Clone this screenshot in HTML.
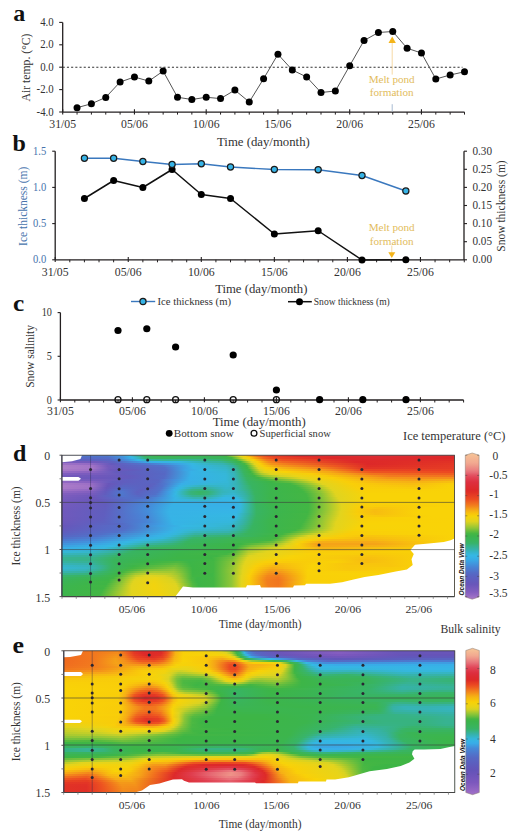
<!DOCTYPE html>
<html><head><meta charset="utf-8"><style>
html,body{margin:0;padding:0;background:#fff;}
svg{display:block;font-family:"Liberation Serif", serif;}
</style></head><body>
<svg width="520" height="838" viewBox="0 0 520 838">
<defs><linearGradient id="gd0"><stop offset="0.001" stop-color="#5270c9"/><stop offset="0.118" stop-color="#4f76cc"/><stop offset="0.154" stop-color="#4294dd"/><stop offset="0.176" stop-color="#36b6e5"/><stop offset="0.194" stop-color="#36b2a7"/><stop offset="0.212" stop-color="#38b462"/><stop offset="0.247" stop-color="#3bb551"/><stop offset="0.395" stop-color="#3ab455"/><stop offset="0.420" stop-color="#3fb545"/><stop offset="0.443" stop-color="#a4c932"/><stop offset="0.456" stop-color="#e4d41c"/><stop offset="0.468" stop-color="#f9d008"/><stop offset="0.501" stop-color="#f06c1f"/><stop offset="0.527" stop-color="#e94423"/><stop offset="0.608" stop-color="#dd2829"/><stop offset="0.798" stop-color="#dd2c33"/><stop offset="0.999" stop-color="#dd292b"/></linearGradient><linearGradient id="gd1"><stop offset="0.001" stop-color="#5866c3"/><stop offset="0.121" stop-color="#536dc7"/><stop offset="0.159" stop-color="#4292dc"/><stop offset="0.181" stop-color="#36b5e5"/><stop offset="0.192" stop-color="#35b5cb"/><stop offset="0.220" stop-color="#38b465"/><stop offset="0.270" stop-color="#39b45f"/><stop offset="0.346" stop-color="#38b464"/><stop offset="0.412" stop-color="#3ab457"/><stop offset="0.433" stop-color="#41b644"/><stop offset="0.463" stop-color="#e1d41f"/><stop offset="0.478" stop-color="#f9d008"/><stop offset="0.514" stop-color="#f06b1f"/><stop offset="0.544" stop-color="#ea4623"/><stop offset="0.687" stop-color="#dd2828"/><stop offset="0.806" stop-color="#dd2b30"/><stop offset="0.999" stop-color="#dd2828"/></linearGradient><linearGradient id="gd2"><stop offset="0.001" stop-color="#625cbe"/><stop offset="0.123" stop-color="#5965c2"/><stop offset="0.169" stop-color="#4390db"/><stop offset="0.197" stop-color="#36b6e5"/><stop offset="0.227" stop-color="#36b29e"/><stop offset="0.263" stop-color="#37b394"/><stop offset="0.316" stop-color="#36b29a"/><stop offset="0.405" stop-color="#38b472"/><stop offset="0.445" stop-color="#40b645"/><stop offset="0.473" stop-color="#dcd321"/><stop offset="0.489" stop-color="#f9d307"/><stop offset="0.522" stop-color="#f2781e"/><stop offset="0.562" stop-color="#ed5121"/><stop offset="0.740" stop-color="#dd292c"/><stop offset="0.999" stop-color="#df2d27"/></linearGradient><linearGradient id="gd3"><stop offset="0.001" stop-color="#795cbd"/><stop offset="0.088" stop-color="#7159bc"/><stop offset="0.136" stop-color="#5b63c1"/><stop offset="0.197" stop-color="#4391dc"/><stop offset="0.230" stop-color="#37b0e7"/><stop offset="0.301" stop-color="#35b7df"/><stop offset="0.369" stop-color="#36b2a7"/><stop offset="0.407" stop-color="#37b396"/><stop offset="0.445" stop-color="#3ab455"/><stop offset="0.456" stop-color="#3db546"/><stop offset="0.484" stop-color="#e0d420"/><stop offset="0.499" stop-color="#f9ce09"/><stop offset="0.527" stop-color="#f3881c"/><stop offset="0.562" stop-color="#f06820"/><stop offset="0.750" stop-color="#dd2829"/><stop offset="0.999" stop-color="#e13226"/></linearGradient><linearGradient id="gd4"><stop offset="0.001" stop-color="#9e71c6"/><stop offset="0.075" stop-color="#9369c3"/><stop offset="0.128" stop-color="#6559bc"/><stop offset="0.214" stop-color="#5075cc"/><stop offset="0.298" stop-color="#3ca4e4"/><stop offset="0.334" stop-color="#35b8e0"/><stop offset="0.374" stop-color="#36b4c1"/><stop offset="0.412" stop-color="#36b3b0"/><stop offset="0.435" stop-color="#37b386"/><stop offset="0.448" stop-color="#39b460"/><stop offset="0.466" stop-color="#43b644"/><stop offset="0.491" stop-color="#e2d41e"/><stop offset="0.504" stop-color="#f9d108"/><stop offset="0.534" stop-color="#f4941a"/><stop offset="0.580" stop-color="#f2771e"/><stop offset="0.778" stop-color="#dd2829"/><stop offset="0.999" stop-color="#e33625"/></linearGradient><linearGradient id="gd5"><stop offset="0.001" stop-color="#ad7fc9"/><stop offset="0.077" stop-color="#a475c7"/><stop offset="0.118" stop-color="#745abc"/><stop offset="0.156" stop-color="#5f5fbf"/><stop offset="0.258" stop-color="#5270c9"/><stop offset="0.306" stop-color="#3f9ce0"/><stop offset="0.334" stop-color="#36b5e5"/><stop offset="0.418" stop-color="#36b4bd"/><stop offset="0.438" stop-color="#36b298"/><stop offset="0.456" stop-color="#39b45e"/><stop offset="0.471" stop-color="#3fb545"/><stop offset="0.496" stop-color="#e2d41e"/><stop offset="0.511" stop-color="#f9ce09"/><stop offset="0.547" stop-color="#f5a018"/><stop offset="0.697" stop-color="#ed5621"/><stop offset="0.778" stop-color="#df2c27"/><stop offset="0.999" stop-color="#e43925"/></linearGradient><linearGradient id="gd6"><stop offset="0.001" stop-color="#ae81c9"/><stop offset="0.080" stop-color="#a475c7"/><stop offset="0.121" stop-color="#735abc"/><stop offset="0.159" stop-color="#615dbe"/><stop offset="0.263" stop-color="#546cc6"/><stop offset="0.311" stop-color="#3e9ee1"/><stop offset="0.336" stop-color="#36b4e6"/><stop offset="0.418" stop-color="#35b5c7"/><stop offset="0.440" stop-color="#36b2a0"/><stop offset="0.458" stop-color="#39b460"/><stop offset="0.473" stop-color="#3db547"/><stop offset="0.486" stop-color="#89c437"/><stop offset="0.501" stop-color="#e2d41e"/><stop offset="0.522" stop-color="#f9cf09"/><stop offset="0.565" stop-color="#f6b015"/><stop offset="0.666" stop-color="#f27f1d"/><stop offset="0.773" stop-color="#e23326"/><stop offset="0.999" stop-color="#e53b25"/></linearGradient><linearGradient id="gd7"><stop offset="0.001" stop-color="#a97ac8"/><stop offset="0.072" stop-color="#a173c6"/><stop offset="0.126" stop-color="#6d58bb"/><stop offset="0.181" stop-color="#625cbd"/><stop offset="0.268" stop-color="#536dc7"/><stop offset="0.316" stop-color="#3ba5e4"/><stop offset="0.357" stop-color="#35b8e3"/><stop offset="0.420" stop-color="#35b6cc"/><stop offset="0.440" stop-color="#36b2aa"/><stop offset="0.461" stop-color="#39b461"/><stop offset="0.478" stop-color="#41b644"/><stop offset="0.504" stop-color="#d7d223"/><stop offset="0.519" stop-color="#efd311"/><stop offset="0.544" stop-color="#f8cc0a"/><stop offset="0.664" stop-color="#f59b19"/><stop offset="0.737" stop-color="#ef6020"/><stop offset="0.765" stop-color="#e94323"/><stop offset="0.999" stop-color="#e84024"/></linearGradient><linearGradient id="gd8"><stop offset="0.001" stop-color="#966bc4"/><stop offset="0.080" stop-color="#8a63c1"/><stop offset="0.141" stop-color="#645abc"/><stop offset="0.265" stop-color="#556ac5"/><stop offset="0.331" stop-color="#37b2e7"/><stop offset="0.418" stop-color="#35b6d4"/><stop offset="0.440" stop-color="#36b3b2"/><stop offset="0.463" stop-color="#39b461"/><stop offset="0.481" stop-color="#3db545"/><stop offset="0.506" stop-color="#c4cf28"/><stop offset="0.516" stop-color="#e2d41e"/><stop offset="0.570" stop-color="#f9d208"/><stop offset="0.684" stop-color="#f5a617"/><stop offset="0.747" stop-color="#f16e1f"/><stop offset="0.793" stop-color="#ed5421"/><stop offset="0.872" stop-color="#ed4f22"/><stop offset="0.999" stop-color="#ec4922"/></linearGradient><linearGradient id="gd9"><stop offset="0.001" stop-color="#805ebf"/><stop offset="0.095" stop-color="#785bbd"/><stop offset="0.159" stop-color="#625cbd"/><stop offset="0.263" stop-color="#5668c4"/><stop offset="0.331" stop-color="#37b2e7"/><stop offset="0.418" stop-color="#35b7d8"/><stop offset="0.440" stop-color="#36b4b8"/><stop offset="0.466" stop-color="#39b460"/><stop offset="0.486" stop-color="#43b644"/><stop offset="0.509" stop-color="#aaca30"/><stop offset="0.532" stop-color="#e1d41f"/><stop offset="0.636" stop-color="#f9cd09"/><stop offset="0.730" stop-color="#f59c19"/><stop offset="0.788" stop-color="#f1741e"/><stop offset="0.872" stop-color="#ef6520"/><stop offset="0.999" stop-color="#ee5d20"/></linearGradient><linearGradient id="gd10"><stop offset="0.001" stop-color="#745abc"/><stop offset="0.105" stop-color="#6e58bb"/><stop offset="0.174" stop-color="#635bbd"/><stop offset="0.263" stop-color="#556ac5"/><stop offset="0.329" stop-color="#37b1e7"/><stop offset="0.418" stop-color="#35b7da"/><stop offset="0.440" stop-color="#36b4bb"/><stop offset="0.468" stop-color="#39b460"/><stop offset="0.491" stop-color="#3eb545"/><stop offset="0.516" stop-color="#93c636"/><stop offset="0.555" stop-color="#d2d224"/><stop offset="0.598" stop-color="#ead416"/><stop offset="0.669" stop-color="#f8cc0a"/><stop offset="0.834" stop-color="#f27c1e"/><stop offset="0.999" stop-color="#f1731f"/></linearGradient><linearGradient id="gd11"><stop offset="0.001" stop-color="#7059bc"/><stop offset="0.108" stop-color="#6b57bb"/><stop offset="0.174" stop-color="#625cbd"/><stop offset="0.260" stop-color="#5569c5"/><stop offset="0.326" stop-color="#37b0e7"/><stop offset="0.418" stop-color="#35b7da"/><stop offset="0.440" stop-color="#36b4bd"/><stop offset="0.471" stop-color="#39b461"/><stop offset="0.501" stop-color="#3fb545"/><stop offset="0.534" stop-color="#81c339"/><stop offset="0.610" stop-color="#e3d41d"/><stop offset="0.689" stop-color="#f9cf09"/><stop offset="0.829" stop-color="#f4941a"/><stop offset="0.900" stop-color="#f48f1b"/><stop offset="0.999" stop-color="#f48f1b"/></linearGradient><linearGradient id="gd12"><stop offset="0.001" stop-color="#7a5cbe"/><stop offset="0.098" stop-color="#735abc"/><stop offset="0.161" stop-color="#605ebf"/><stop offset="0.247" stop-color="#5965c2"/><stop offset="0.288" stop-color="#448edb"/><stop offset="0.326" stop-color="#37b1e7"/><stop offset="0.418" stop-color="#35b7da"/><stop offset="0.443" stop-color="#36b4b9"/><stop offset="0.473" stop-color="#38b461"/><stop offset="0.519" stop-color="#44b644"/><stop offset="0.590" stop-color="#9bc834"/><stop offset="0.633" stop-color="#e3d41d"/><stop offset="0.712" stop-color="#f9ce09"/><stop offset="0.801" stop-color="#f6ad16"/><stop offset="0.887" stop-color="#f59f18"/><stop offset="0.999" stop-color="#f6ac16"/></linearGradient><linearGradient id="gd13"><stop offset="0.001" stop-color="#9168c3"/><stop offset="0.080" stop-color="#8660c0"/><stop offset="0.131" stop-color="#635bbd"/><stop offset="0.247" stop-color="#5866c3"/><stop offset="0.316" stop-color="#38afe7"/><stop offset="0.423" stop-color="#35b7d6"/><stop offset="0.445" stop-color="#36b3b5"/><stop offset="0.476" stop-color="#38b462"/><stop offset="0.534" stop-color="#3db546"/><stop offset="0.582" stop-color="#62bc3e"/><stop offset="0.651" stop-color="#e2d41e"/><stop offset="0.727" stop-color="#f9ce09"/><stop offset="0.803" stop-color="#f7b912"/><stop offset="0.892" stop-color="#f6b115"/><stop offset="0.994" stop-color="#f7c00f"/><stop offset="0.999" stop-color="#f7c00f"/></linearGradient><linearGradient id="gd14"><stop offset="0.001" stop-color="#a878c8"/><stop offset="0.072" stop-color="#9c6fc5"/><stop offset="0.121" stop-color="#6856ba"/><stop offset="0.164" stop-color="#5d61c0"/><stop offset="0.237" stop-color="#5b63c1"/><stop offset="0.265" stop-color="#4e78ce"/><stop offset="0.306" stop-color="#38afe8"/><stop offset="0.379" stop-color="#35b7d5"/><stop offset="0.425" stop-color="#35b6d2"/><stop offset="0.451" stop-color="#36b2ab"/><stop offset="0.478" stop-color="#38b463"/><stop offset="0.532" stop-color="#3cb54b"/><stop offset="0.582" stop-color="#43b644"/><stop offset="0.623" stop-color="#89c437"/><stop offset="0.664" stop-color="#e1d41f"/><stop offset="0.737" stop-color="#f9cf09"/><stop offset="0.826" stop-color="#f8c10e"/><stop offset="0.892" stop-color="#f7bc11"/><stop offset="0.984" stop-color="#f9cd09"/><stop offset="0.999" stop-color="#f9cd09"/></linearGradient><linearGradient id="gd15"><stop offset="0.001" stop-color="#ab7cc9"/><stop offset="0.072" stop-color="#a173c6"/><stop offset="0.118" stop-color="#6856ba"/><stop offset="0.159" stop-color="#5965c2"/><stop offset="0.227" stop-color="#5d61c0"/><stop offset="0.258" stop-color="#5172cb"/><stop offset="0.301" stop-color="#37b2e7"/><stop offset="0.321" stop-color="#35b7d9"/><stop offset="0.357" stop-color="#36b4bc"/><stop offset="0.423" stop-color="#35b6d0"/><stop offset="0.445" stop-color="#36b4b9"/><stop offset="0.484" stop-color="#38b461"/><stop offset="0.532" stop-color="#3cb54c"/><stop offset="0.595" stop-color="#43b644"/><stop offset="0.631" stop-color="#81c339"/><stop offset="0.676" stop-color="#e2d41e"/><stop offset="0.747" stop-color="#f9ce09"/><stop offset="0.895" stop-color="#f8c30d"/><stop offset="0.994" stop-color="#f9d207"/><stop offset="0.999" stop-color="#f9d207"/></linearGradient><linearGradient id="gd16"><stop offset="0.001" stop-color="#a97ac8"/><stop offset="0.067" stop-color="#a073c6"/><stop offset="0.115" stop-color="#6757ba"/><stop offset="0.156" stop-color="#5569c5"/><stop offset="0.220" stop-color="#5e60c0"/><stop offset="0.255" stop-color="#5073cb"/><stop offset="0.293" stop-color="#37b1e7"/><stop offset="0.306" stop-color="#35b7dd"/><stop offset="0.336" stop-color="#36b2a8"/><stop offset="0.367" stop-color="#36b29e"/><stop offset="0.418" stop-color="#35b5ca"/><stop offset="0.443" stop-color="#36b4be"/><stop offset="0.486" stop-color="#38b461"/><stop offset="0.532" stop-color="#3cb54d"/><stop offset="0.603" stop-color="#42b644"/><stop offset="0.638" stop-color="#7ec239"/><stop offset="0.684" stop-color="#e2d41e"/><stop offset="0.755" stop-color="#f9cf09"/><stop offset="0.902" stop-color="#f8ca0b"/><stop offset="0.999" stop-color="#f9d307"/></linearGradient><linearGradient id="gd17"><stop offset="0.001" stop-color="#9f72c6"/><stop offset="0.070" stop-color="#9369c3"/><stop offset="0.115" stop-color="#6559bc"/><stop offset="0.154" stop-color="#5171ca"/><stop offset="0.204" stop-color="#5e60bf"/><stop offset="0.250" stop-color="#5271ca"/><stop offset="0.288" stop-color="#37b1e7"/><stop offset="0.298" stop-color="#35b7dd"/><stop offset="0.331" stop-color="#37b38d"/><stop offset="0.359" stop-color="#37b37a"/><stop offset="0.385" stop-color="#36b29a"/><stop offset="0.415" stop-color="#36b5c2"/><stop offset="0.440" stop-color="#36b5c2"/><stop offset="0.471" stop-color="#37b389"/><stop offset="0.489" stop-color="#38b461"/><stop offset="0.532" stop-color="#3cb54d"/><stop offset="0.610" stop-color="#42b644"/><stop offset="0.651" stop-color="#89c437"/><stop offset="0.689" stop-color="#e2d41e"/><stop offset="0.763" stop-color="#f9d008"/><stop offset="0.928" stop-color="#f9d108"/><stop offset="0.999" stop-color="#f9d307"/></linearGradient><linearGradient id="gd18"><stop offset="0.001" stop-color="#9067c2"/><stop offset="0.075" stop-color="#825fbf"/><stop offset="0.113" stop-color="#635bbd"/><stop offset="0.154" stop-color="#4f76cd"/><stop offset="0.194" stop-color="#5d61c0"/><stop offset="0.245" stop-color="#5270c9"/><stop offset="0.275" stop-color="#3da1e3"/><stop offset="0.293" stop-color="#35b8e0"/><stop offset="0.329" stop-color="#37b37b"/><stop offset="0.354" stop-color="#38b464"/><stop offset="0.374" stop-color="#37b376"/><stop offset="0.407" stop-color="#36b4b7"/><stop offset="0.435" stop-color="#35b5c9"/><stop offset="0.461" stop-color="#36b2a8"/><stop offset="0.491" stop-color="#39b460"/><stop offset="0.532" stop-color="#3cb54d"/><stop offset="0.615" stop-color="#41b644"/><stop offset="0.656" stop-color="#88c438"/><stop offset="0.694" stop-color="#e2d41e"/><stop offset="0.773" stop-color="#f9d108"/><stop offset="0.999" stop-color="#f9d307"/></linearGradient><linearGradient id="gd19"><stop offset="0.001" stop-color="#835fbf"/><stop offset="0.080" stop-color="#775bbd"/><stop offset="0.113" stop-color="#615dbe"/><stop offset="0.154" stop-color="#4e77cd"/><stop offset="0.194" stop-color="#5b63c1"/><stop offset="0.240" stop-color="#5270c9"/><stop offset="0.270" stop-color="#3f9be0"/><stop offset="0.291" stop-color="#35b8e4"/><stop offset="0.329" stop-color="#37b37e"/><stop offset="0.354" stop-color="#38b468"/><stop offset="0.374" stop-color="#37b37c"/><stop offset="0.410" stop-color="#36b5c1"/><stop offset="0.438" stop-color="#35b6d0"/><stop offset="0.466" stop-color="#36b2a4"/><stop offset="0.491" stop-color="#38b462"/><stop offset="0.529" stop-color="#3cb54d"/><stop offset="0.621" stop-color="#43b644"/><stop offset="0.659" stop-color="#85c338"/><stop offset="0.697" stop-color="#e1d41f"/><stop offset="0.778" stop-color="#f9d307"/><stop offset="0.999" stop-color="#f9d307"/></linearGradient><linearGradient id="gd20"><stop offset="0.001" stop-color="#7d5dbe"/><stop offset="0.082" stop-color="#6f58bb"/><stop offset="0.131" stop-color="#5767c3"/><stop offset="0.156" stop-color="#5074cc"/><stop offset="0.202" stop-color="#5866c3"/><stop offset="0.240" stop-color="#4e78ce"/><stop offset="0.286" stop-color="#36b3e6"/><stop offset="0.296" stop-color="#35b7db"/><stop offset="0.334" stop-color="#37b390"/><stop offset="0.362" stop-color="#37b388"/><stop offset="0.418" stop-color="#35b7d9"/><stop offset="0.440" stop-color="#35b7db"/><stop offset="0.471" stop-color="#36b29f"/><stop offset="0.494" stop-color="#39b460"/><stop offset="0.532" stop-color="#3cb54d"/><stop offset="0.623" stop-color="#43b644"/><stop offset="0.661" stop-color="#86c438"/><stop offset="0.699" stop-color="#e0d420"/><stop offset="0.780" stop-color="#f9d307"/><stop offset="0.999" stop-color="#f9d307"/></linearGradient><linearGradient id="gd21"><stop offset="0.001" stop-color="#795cbd"/><stop offset="0.085" stop-color="#6b57bb"/><stop offset="0.164" stop-color="#536fc8"/><stop offset="0.212" stop-color="#536dc7"/><stop offset="0.263" stop-color="#4099df"/><stop offset="0.291" stop-color="#36b5e5"/><stop offset="0.339" stop-color="#36b3af"/><stop offset="0.369" stop-color="#36b3b2"/><stop offset="0.412" stop-color="#35b7e4"/><stop offset="0.448" stop-color="#35b7de"/><stop offset="0.481" stop-color="#37b385"/><stop offset="0.494" stop-color="#39b461"/><stop offset="0.529" stop-color="#3cb54d"/><stop offset="0.626" stop-color="#43b644"/><stop offset="0.664" stop-color="#88c438"/><stop offset="0.704" stop-color="#e1d41f"/><stop offset="0.780" stop-color="#f9d307"/><stop offset="0.999" stop-color="#f9d307"/></linearGradient><linearGradient id="gd22"><stop offset="0.001" stop-color="#775bbd"/><stop offset="0.093" stop-color="#6757ba"/><stop offset="0.174" stop-color="#546dc7"/><stop offset="0.232" stop-color="#4982d4"/><stop offset="0.288" stop-color="#37b3e6"/><stop offset="0.357" stop-color="#35b6cd"/><stop offset="0.402" stop-color="#36b5e5"/><stop offset="0.451" stop-color="#35b8e4"/><stop offset="0.486" stop-color="#37b377"/><stop offset="0.496" stop-color="#39b45f"/><stop offset="0.534" stop-color="#3cb54d"/><stop offset="0.626" stop-color="#41b644"/><stop offset="0.666" stop-color="#8ac437"/><stop offset="0.707" stop-color="#e1d41f"/><stop offset="0.780" stop-color="#f9d307"/><stop offset="0.999" stop-color="#f9d307"/></linearGradient><linearGradient id="gd23"><stop offset="0.001" stop-color="#765bbd"/><stop offset="0.105" stop-color="#645abc"/><stop offset="0.230" stop-color="#4787d7"/><stop offset="0.288" stop-color="#37b2e6"/><stop offset="0.402" stop-color="#37b1e7"/><stop offset="0.451" stop-color="#36b6e5"/><stop offset="0.468" stop-color="#36b3b7"/><stop offset="0.494" stop-color="#38b462"/><stop offset="0.529" stop-color="#3cb54d"/><stop offset="0.628" stop-color="#43b644"/><stop offset="0.671" stop-color="#93c636"/><stop offset="0.709" stop-color="#e2d41e"/><stop offset="0.775" stop-color="#f9d208"/><stop offset="0.999" stop-color="#f9d307"/></linearGradient><linearGradient id="gd24"><stop offset="0.001" stop-color="#755abd"/><stop offset="0.113" stop-color="#625cbd"/><stop offset="0.230" stop-color="#458cda"/><stop offset="0.286" stop-color="#37b2e7"/><stop offset="0.440" stop-color="#37b0e7"/><stop offset="0.456" stop-color="#35b8e0"/><stop offset="0.494" stop-color="#38b463"/><stop offset="0.529" stop-color="#3cb54e"/><stop offset="0.628" stop-color="#42b644"/><stop offset="0.671" stop-color="#91c636"/><stop offset="0.712" stop-color="#e3d41d"/><stop offset="0.770" stop-color="#f9cf09"/><stop offset="0.999" stop-color="#f9d307"/></linearGradient><linearGradient id="gd25"><stop offset="0.001" stop-color="#745abc"/><stop offset="0.113" stop-color="#625cbd"/><stop offset="0.230" stop-color="#438fdb"/><stop offset="0.280" stop-color="#37b1e7"/><stop offset="0.440" stop-color="#37b0e7"/><stop offset="0.456" stop-color="#35b7df"/><stop offset="0.496" stop-color="#38b461"/><stop offset="0.537" stop-color="#3cb54e"/><stop offset="0.628" stop-color="#42b644"/><stop offset="0.674" stop-color="#96c735"/><stop offset="0.712" stop-color="#e3d41d"/><stop offset="0.760" stop-color="#f9cf09"/><stop offset="0.831" stop-color="#f8cc0a"/><stop offset="0.999" stop-color="#f9d307"/></linearGradient><linearGradient id="gd26"><stop offset="0.001" stop-color="#7259bc"/><stop offset="0.113" stop-color="#615dbe"/><stop offset="0.227" stop-color="#438fdb"/><stop offset="0.278" stop-color="#37b2e6"/><stop offset="0.443" stop-color="#37b2e6"/><stop offset="0.456" stop-color="#35b7dd"/><stop offset="0.496" stop-color="#38b462"/><stop offset="0.539" stop-color="#3cb54e"/><stop offset="0.628" stop-color="#42b644"/><stop offset="0.674" stop-color="#96c735"/><stop offset="0.712" stop-color="#e3d41d"/><stop offset="0.755" stop-color="#f9ce09"/><stop offset="0.806" stop-color="#f8c30e"/><stop offset="0.923" stop-color="#f9d307"/><stop offset="0.999" stop-color="#f9d307"/></linearGradient><linearGradient id="gd27"><stop offset="0.001" stop-color="#7159bc"/><stop offset="0.113" stop-color="#605ebe"/><stop offset="0.225" stop-color="#438fdb"/><stop offset="0.275" stop-color="#37b2e6"/><stop offset="0.445" stop-color="#36b4e6"/><stop offset="0.456" stop-color="#35b7da"/><stop offset="0.496" stop-color="#38b463"/><stop offset="0.542" stop-color="#3cb54e"/><stop offset="0.628" stop-color="#42b644"/><stop offset="0.674" stop-color="#96c735"/><stop offset="0.712" stop-color="#e3d41d"/><stop offset="0.753" stop-color="#f9cd09"/><stop offset="0.796" stop-color="#f7bd10"/><stop offset="0.910" stop-color="#f9d307"/><stop offset="0.999" stop-color="#f9d307"/></linearGradient><linearGradient id="gd28"><stop offset="0.001" stop-color="#7059bc"/><stop offset="0.110" stop-color="#605ebe"/><stop offset="0.220" stop-color="#458cd9"/><stop offset="0.275" stop-color="#37b3e6"/><stop offset="0.445" stop-color="#36b5e5"/><stop offset="0.456" stop-color="#35b7d7"/><stop offset="0.496" stop-color="#38b463"/><stop offset="0.544" stop-color="#3cb54e"/><stop offset="0.626" stop-color="#40b644"/><stop offset="0.671" stop-color="#93c636"/><stop offset="0.709" stop-color="#e2d41e"/><stop offset="0.753" stop-color="#f8cc0a"/><stop offset="0.796" stop-color="#f7bc11"/><stop offset="0.907" stop-color="#f9d307"/><stop offset="0.999" stop-color="#f9d307"/></linearGradient><linearGradient id="gd29"><stop offset="0.001" stop-color="#7059bc"/><stop offset="0.110" stop-color="#605ebf"/><stop offset="0.220" stop-color="#458ad9"/><stop offset="0.275" stop-color="#37b2e6"/><stop offset="0.445" stop-color="#35b7e4"/><stop offset="0.476" stop-color="#36b29b"/><stop offset="0.496" stop-color="#38b462"/><stop offset="0.544" stop-color="#3cb54d"/><stop offset="0.626" stop-color="#43b644"/><stop offset="0.671" stop-color="#98c735"/><stop offset="0.709" stop-color="#e3d41d"/><stop offset="0.753" stop-color="#f9ce09"/><stop offset="0.798" stop-color="#f7be0f"/><stop offset="0.912" stop-color="#f9d307"/><stop offset="0.999" stop-color="#f9d307"/></linearGradient><linearGradient id="gd30"><stop offset="0.001" stop-color="#7059bc"/><stop offset="0.108" stop-color="#605ebf"/><stop offset="0.217" stop-color="#4787d7"/><stop offset="0.278" stop-color="#37b3e6"/><stop offset="0.445" stop-color="#35b8e2"/><stop offset="0.484" stop-color="#37b37f"/><stop offset="0.496" stop-color="#39b460"/><stop offset="0.542" stop-color="#3cb54d"/><stop offset="0.623" stop-color="#42b644"/><stop offset="0.671" stop-color="#9ec834"/><stop offset="0.707" stop-color="#e2d41e"/><stop offset="0.758" stop-color="#f8cd0a"/><stop offset="0.816" stop-color="#f8c60c"/><stop offset="0.940" stop-color="#f9d307"/><stop offset="0.999" stop-color="#f9d307"/></linearGradient><linearGradient id="gd31"><stop offset="0.001" stop-color="#6f58bb"/><stop offset="0.108" stop-color="#5f5fbf"/><stop offset="0.220" stop-color="#4787d7"/><stop offset="0.280" stop-color="#36b3e6"/><stop offset="0.443" stop-color="#35b7df"/><stop offset="0.478" stop-color="#37b389"/><stop offset="0.494" stop-color="#38b461"/><stop offset="0.537" stop-color="#3cb54d"/><stop offset="0.621" stop-color="#42b644"/><stop offset="0.666" stop-color="#98c735"/><stop offset="0.704" stop-color="#e2d41e"/><stop offset="0.763" stop-color="#f9ce09"/><stop offset="0.872" stop-color="#f9d207"/><stop offset="0.999" stop-color="#f9d307"/></linearGradient><linearGradient id="gd32"><stop offset="0.001" stop-color="#6f58bb"/><stop offset="0.105" stop-color="#5f5fbf"/><stop offset="0.217" stop-color="#4884d5"/><stop offset="0.283" stop-color="#36b4e6"/><stop offset="0.438" stop-color="#35b7de"/><stop offset="0.471" stop-color="#36b299"/><stop offset="0.491" stop-color="#38b462"/><stop offset="0.532" stop-color="#3cb54d"/><stop offset="0.618" stop-color="#43b644"/><stop offset="0.661" stop-color="#92c636"/><stop offset="0.702" stop-color="#e2d41e"/><stop offset="0.770" stop-color="#f9d008"/><stop offset="0.999" stop-color="#f9d307"/></linearGradient><linearGradient id="gd33"><stop offset="0.001" stop-color="#6d58bb"/><stop offset="0.110" stop-color="#5d61c0"/><stop offset="0.220" stop-color="#4785d6"/><stop offset="0.283" stop-color="#36b3e6"/><stop offset="0.433" stop-color="#35b7db"/><stop offset="0.463" stop-color="#36b2a6"/><stop offset="0.491" stop-color="#39b460"/><stop offset="0.532" stop-color="#3cb54d"/><stop offset="0.615" stop-color="#43b644"/><stop offset="0.659" stop-color="#90c636"/><stop offset="0.699" stop-color="#e2d41e"/><stop offset="0.773" stop-color="#f9d207"/><stop offset="0.999" stop-color="#f9d307"/></linearGradient><linearGradient id="gd34"><stop offset="0.001" stop-color="#6b57bb"/><stop offset="0.148" stop-color="#5668c4"/><stop offset="0.240" stop-color="#4195de"/><stop offset="0.288" stop-color="#36b4e6"/><stop offset="0.430" stop-color="#35b7d5"/><stop offset="0.458" stop-color="#36b2aa"/><stop offset="0.489" stop-color="#38b461"/><stop offset="0.532" stop-color="#3cb54d"/><stop offset="0.610" stop-color="#42b644"/><stop offset="0.651" stop-color="#83c338"/><stop offset="0.697" stop-color="#e2d41e"/><stop offset="0.768" stop-color="#f9d307"/><stop offset="0.999" stop-color="#f9d307"/></linearGradient><linearGradient id="gd35"><stop offset="0.001" stop-color="#6856ba"/><stop offset="0.169" stop-color="#5270c9"/><stop offset="0.255" stop-color="#3ca2e3"/><stop offset="0.311" stop-color="#35b8e4"/><stop offset="0.390" stop-color="#35b7d9"/><stop offset="0.435" stop-color="#35b5c9"/><stop offset="0.466" stop-color="#37b38e"/><stop offset="0.486" stop-color="#38b461"/><stop offset="0.532" stop-color="#3cb54d"/><stop offset="0.608" stop-color="#42b644"/><stop offset="0.656" stop-color="#91c636"/><stop offset="0.697" stop-color="#e2d41e"/><stop offset="0.760" stop-color="#f8d308"/><stop offset="0.999" stop-color="#f9d307"/></linearGradient><linearGradient id="gd36"><stop offset="0.001" stop-color="#6658bb"/><stop offset="0.164" stop-color="#526fc9"/><stop offset="0.288" stop-color="#37b3e6"/><stop offset="0.369" stop-color="#35b6d4"/><stop offset="0.430" stop-color="#36b5c6"/><stop offset="0.458" stop-color="#37b397"/><stop offset="0.484" stop-color="#38b461"/><stop offset="0.532" stop-color="#3cb54d"/><stop offset="0.605" stop-color="#44b644"/><stop offset="0.661" stop-color="#a0c933"/><stop offset="0.694" stop-color="#e2d41e"/><stop offset="0.753" stop-color="#f8d308"/><stop offset="0.999" stop-color="#f9d307"/></linearGradient><linearGradient id="gd37"><stop offset="0.001" stop-color="#645abc"/><stop offset="0.156" stop-color="#526fc9"/><stop offset="0.286" stop-color="#37b3e6"/><stop offset="0.316" stop-color="#35b7d9"/><stop offset="0.362" stop-color="#35b5cb"/><stop offset="0.425" stop-color="#36b4be"/><stop offset="0.451" stop-color="#36b29c"/><stop offset="0.478" stop-color="#38b462"/><stop offset="0.532" stop-color="#3cb54d"/><stop offset="0.595" stop-color="#41b644"/><stop offset="0.671" stop-color="#bece2a"/><stop offset="0.694" stop-color="#e4d41c"/><stop offset="0.750" stop-color="#f9d207"/><stop offset="0.999" stop-color="#f9d307"/></linearGradient><linearGradient id="gd38"><stop offset="0.001" stop-color="#615dbe"/><stop offset="0.141" stop-color="#5270c9"/><stop offset="0.278" stop-color="#37b3e6"/><stop offset="0.303" stop-color="#35b7db"/><stop offset="0.341" stop-color="#36b4bb"/><stop offset="0.425" stop-color="#36b2ac"/><stop offset="0.456" stop-color="#37b380"/><stop offset="0.476" stop-color="#39b460"/><stop offset="0.539" stop-color="#3cb54b"/><stop offset="0.580" stop-color="#42b644"/><stop offset="0.684" stop-color="#e3d41d"/><stop offset="0.740" stop-color="#f9cf09"/><stop offset="0.999" stop-color="#f9d307"/></linearGradient><linearGradient id="gd39"><stop offset="0.001" stop-color="#5d61c0"/><stop offset="0.105" stop-color="#526fc8"/><stop offset="0.265" stop-color="#37b3e6"/><stop offset="0.291" stop-color="#35b7db"/><stop offset="0.339" stop-color="#36b2a3"/><stop offset="0.430" stop-color="#37b38e"/><stop offset="0.468" stop-color="#39b45f"/><stop offset="0.562" stop-color="#42b644"/><stop offset="0.643" stop-color="#cad026"/><stop offset="0.669" stop-color="#e4d41c"/><stop offset="0.727" stop-color="#f9ce09"/><stop offset="0.938" stop-color="#f9d208"/><stop offset="0.999" stop-color="#f9d307"/></linearGradient><linearGradient id="gd40"><stop offset="0.001" stop-color="#5866c3"/><stop offset="0.085" stop-color="#5171ca"/><stop offset="0.245" stop-color="#37b2e6"/><stop offset="0.275" stop-color="#35b7dd"/><stop offset="0.339" stop-color="#37b386"/><stop offset="0.438" stop-color="#38b46c"/><stop offset="0.519" stop-color="#3cb54c"/><stop offset="0.552" stop-color="#42b644"/><stop offset="0.628" stop-color="#e0d420"/><stop offset="0.712" stop-color="#f9ce09"/><stop offset="0.788" stop-color="#f8c40d"/><stop offset="0.999" stop-color="#f9d307"/></linearGradient><linearGradient id="gd41"><stop offset="0.001" stop-color="#536ec8"/><stop offset="0.090" stop-color="#4b7fd2"/><stop offset="0.217" stop-color="#37b2e6"/><stop offset="0.258" stop-color="#35b7dd"/><stop offset="0.303" stop-color="#36b2a3"/><stop offset="0.336" stop-color="#38b46c"/><stop offset="0.402" stop-color="#39b461"/><stop offset="0.544" stop-color="#42b644"/><stop offset="0.608" stop-color="#e1d41f"/><stop offset="0.671" stop-color="#f9d008"/><stop offset="0.778" stop-color="#f7bc10"/><stop offset="0.902" stop-color="#f8c90b"/><stop offset="0.999" stop-color="#f9d307"/></linearGradient><linearGradient id="gd42"><stop offset="0.001" stop-color="#4d79cf"/><stop offset="0.088" stop-color="#4689d8"/><stop offset="0.192" stop-color="#36b4e5"/><stop offset="0.240" stop-color="#35b6d4"/><stop offset="0.291" stop-color="#36b2a3"/><stop offset="0.329" stop-color="#38b462"/><stop offset="0.532" stop-color="#42b644"/><stop offset="0.555" stop-color="#6bbe3d"/><stop offset="0.595" stop-color="#e2d41e"/><stop offset="0.631" stop-color="#f9cf09"/><stop offset="0.687" stop-color="#f7bb11"/><stop offset="0.798" stop-color="#f7b713"/><stop offset="0.984" stop-color="#f9d307"/><stop offset="0.999" stop-color="#f9d307"/></linearGradient><linearGradient id="gd43"><stop offset="0.001" stop-color="#4885d6"/><stop offset="0.082" stop-color="#4294dd"/><stop offset="0.169" stop-color="#36b6e5"/><stop offset="0.275" stop-color="#36b29e"/><stop offset="0.319" stop-color="#38b461"/><stop offset="0.410" stop-color="#3bb554"/><stop offset="0.499" stop-color="#45b744"/><stop offset="0.539" stop-color="#67bd3e"/><stop offset="0.567" stop-color="#accb2f"/><stop offset="0.588" stop-color="#e3d41d"/><stop offset="0.613" stop-color="#f9cf08"/><stop offset="0.656" stop-color="#f6ae16"/><stop offset="0.793" stop-color="#f6aa17"/><stop offset="0.978" stop-color="#f9d307"/><stop offset="0.999" stop-color="#f9d307"/></linearGradient><linearGradient id="gd44"><stop offset="0.001" stop-color="#4292dc"/><stop offset="0.085" stop-color="#3ca2e3"/><stop offset="0.156" stop-color="#35b8e2"/><stop offset="0.217" stop-color="#36b2a4"/><stop offset="0.280" stop-color="#37b37b"/><stop offset="0.316" stop-color="#39b45c"/><stop offset="0.456" stop-color="#3db547"/><stop offset="0.494" stop-color="#62bc3e"/><stop offset="0.537" stop-color="#87c438"/><stop offset="0.572" stop-color="#d5d223"/><stop offset="0.600" stop-color="#f6d30a"/><stop offset="0.648" stop-color="#f5a318"/><stop offset="0.798" stop-color="#f5a418"/><stop offset="0.971" stop-color="#f9d307"/><stop offset="0.999" stop-color="#f9d307"/></linearGradient><linearGradient id="gd45"><stop offset="0.001" stop-color="#3da0e2"/><stop offset="0.131" stop-color="#35b8e3"/><stop offset="0.220" stop-color="#37b37e"/><stop offset="0.331" stop-color="#3bb553"/><stop offset="0.448" stop-color="#3db547"/><stop offset="0.484" stop-color="#7bc13a"/><stop offset="0.537" stop-color="#accb2f"/><stop offset="0.572" stop-color="#e4d41c"/><stop offset="0.605" stop-color="#f8cd0a"/><stop offset="0.651" stop-color="#f5a617"/><stop offset="0.816" stop-color="#f6b115"/><stop offset="0.976" stop-color="#f9d307"/><stop offset="0.999" stop-color="#f9d307"/></linearGradient><linearGradient id="gd46"><stop offset="0.001" stop-color="#38aee8"/><stop offset="0.110" stop-color="#35b8df"/><stop offset="0.166" stop-color="#36b29e"/><stop offset="0.212" stop-color="#38b463"/><stop offset="0.400" stop-color="#3cb54e"/><stop offset="0.445" stop-color="#3eb545"/><stop offset="0.478" stop-color="#91c636"/><stop offset="0.562" stop-color="#e5d41b"/><stop offset="0.610" stop-color="#f8cc0a"/><stop offset="0.666" stop-color="#f6b314"/><stop offset="0.999" stop-color="#f9d307"/></linearGradient><linearGradient id="gd47"><stop offset="0.001" stop-color="#36b5e5"/><stop offset="0.080" stop-color="#35b7dd"/><stop offset="0.141" stop-color="#36b2aa"/><stop offset="0.192" stop-color="#38b462"/><stop offset="0.359" stop-color="#3cb54d"/><stop offset="0.440" stop-color="#3fb545"/><stop offset="0.476" stop-color="#a4c932"/><stop offset="0.539" stop-color="#e4d41c"/><stop offset="0.623" stop-color="#f8cc0a"/><stop offset="0.689" stop-color="#f8c10e"/><stop offset="0.999" stop-color="#f9d307"/></linearGradient><linearGradient id="gd48"><stop offset="0.001" stop-color="#35b7d8"/><stop offset="0.075" stop-color="#35b5c9"/><stop offset="0.131" stop-color="#36b29f"/><stop offset="0.179" stop-color="#38b461"/><stop offset="0.306" stop-color="#3cb54c"/><stop offset="0.433" stop-color="#40b644"/><stop offset="0.453" stop-color="#75c03b"/><stop offset="0.476" stop-color="#b7cd2c"/><stop offset="0.522" stop-color="#e3d41d"/><stop offset="0.636" stop-color="#f8cd0a"/><stop offset="0.811" stop-color="#f9cd09"/><stop offset="0.999" stop-color="#f9d307"/></linearGradient><linearGradient id="gd49"><stop offset="0.001" stop-color="#36b4bf"/><stop offset="0.082" stop-color="#36b3b0"/><stop offset="0.133" stop-color="#37b384"/><stop offset="0.166" stop-color="#39b461"/><stop offset="0.298" stop-color="#3cb54a"/><stop offset="0.420" stop-color="#44b644"/><stop offset="0.440" stop-color="#5fbc3f"/><stop offset="0.476" stop-color="#c8d027"/><stop offset="0.501" stop-color="#e2d41e"/><stop offset="0.628" stop-color="#f9d108"/><stop offset="0.798" stop-color="#f8ca0a"/><stop offset="0.999" stop-color="#f9d307"/></linearGradient><linearGradient id="gd50"><stop offset="0.001" stop-color="#36b2a7"/><stop offset="0.085" stop-color="#36b299"/><stop offset="0.154" stop-color="#39b45f"/><stop offset="0.298" stop-color="#3cb549"/><stop offset="0.395" stop-color="#3fb545"/><stop offset="0.435" stop-color="#65bd3e"/><stop offset="0.478" stop-color="#ddd421"/><stop offset="0.588" stop-color="#f7d309"/><stop offset="0.786" stop-color="#f8c40d"/><stop offset="0.953" stop-color="#f9d307"/><stop offset="0.999" stop-color="#f9d307"/></linearGradient><linearGradient id="gd51"><stop offset="0.001" stop-color="#37b394"/><stop offset="0.085" stop-color="#37b388"/><stop offset="0.143" stop-color="#39b45c"/><stop offset="0.296" stop-color="#3db547"/><stop offset="0.382" stop-color="#3db546"/><stop offset="0.435" stop-color="#74c03b"/><stop offset="0.473" stop-color="#e1d41f"/><stop offset="0.577" stop-color="#f8d308"/><stop offset="0.722" stop-color="#f8c70c"/><stop offset="0.780" stop-color="#f7bf0f"/><stop offset="0.928" stop-color="#f9d307"/><stop offset="0.999" stop-color="#f9d307"/></linearGradient><linearGradient id="gd52"><stop offset="0.001" stop-color="#37b392"/><stop offset="0.082" stop-color="#37b386"/><stop offset="0.136" stop-color="#39b45b"/><stop offset="0.237" stop-color="#3cb54a"/><stop offset="0.329" stop-color="#3cb54a"/><stop offset="0.387" stop-color="#41b644"/><stop offset="0.435" stop-color="#7ec239"/><stop offset="0.471" stop-color="#e2d41e"/><stop offset="0.547" stop-color="#f9d008"/><stop offset="0.707" stop-color="#f8cc0a"/><stop offset="0.775" stop-color="#f7bc10"/><stop offset="0.923" stop-color="#f9d307"/><stop offset="0.999" stop-color="#f9d307"/></linearGradient><linearGradient id="gd53"><stop offset="0.001" stop-color="#36b2a1"/><stop offset="0.077" stop-color="#37b394"/><stop offset="0.133" stop-color="#39b45c"/><stop offset="0.225" stop-color="#3db547"/><stop offset="0.268" stop-color="#46b743"/><stop offset="0.298" stop-color="#4db842"/><stop offset="0.326" stop-color="#3cb548"/><stop offset="0.387" stop-color="#43b644"/><stop offset="0.438" stop-color="#8bc537"/><stop offset="0.468" stop-color="#e3d41d"/><stop offset="0.522" stop-color="#f9cf09"/><stop offset="0.572" stop-color="#f8cb0a"/><stop offset="0.697" stop-color="#f9d008"/><stop offset="0.775" stop-color="#f7bd10"/><stop offset="0.925" stop-color="#f9d307"/><stop offset="0.999" stop-color="#f9d307"/></linearGradient><linearGradient id="gd54"><stop offset="0.001" stop-color="#36b3b5"/><stop offset="0.072" stop-color="#36b2a9"/><stop offset="0.115" stop-color="#38b470"/><stop offset="0.143" stop-color="#3ab455"/><stop offset="0.235" stop-color="#45b744"/><stop offset="0.293" stop-color="#5fbc3f"/><stop offset="0.329" stop-color="#3db547"/><stop offset="0.387" stop-color="#43b644"/><stop offset="0.435" stop-color="#8bc537"/><stop offset="0.466" stop-color="#e3d41d"/><stop offset="0.506" stop-color="#f9ce09"/><stop offset="0.555" stop-color="#f7bf0f"/><stop offset="0.648" stop-color="#f9d307"/><stop offset="0.730" stop-color="#f8c40d"/><stop offset="0.831" stop-color="#f8c50d"/><stop offset="0.920" stop-color="#f9d307"/><stop offset="0.999" stop-color="#f9d307"/></linearGradient><linearGradient id="gd55"><stop offset="0.001" stop-color="#35b5c8"/><stop offset="0.067" stop-color="#36b4ba"/><stop offset="0.103" stop-color="#37b38f"/><stop offset="0.128" stop-color="#39b460"/><stop offset="0.184" stop-color="#3db547"/><stop offset="0.291" stop-color="#70bf3c"/><stop offset="0.331" stop-color="#3db546"/><stop offset="0.387" stop-color="#43b644"/><stop offset="0.435" stop-color="#8fc536"/><stop offset="0.463" stop-color="#e2d41e"/><stop offset="0.496" stop-color="#f9cf09"/><stop offset="0.544" stop-color="#f7b513"/><stop offset="0.638" stop-color="#f9d307"/><stop offset="0.722" stop-color="#f8c70c"/><stop offset="0.839" stop-color="#f8c60c"/><stop offset="0.925" stop-color="#f9d307"/><stop offset="0.999" stop-color="#f9d307"/></linearGradient><linearGradient id="gd56"><stop offset="0.001" stop-color="#35b6d0"/><stop offset="0.065" stop-color="#36b5c2"/><stop offset="0.100" stop-color="#37b396"/><stop offset="0.128" stop-color="#39b45f"/><stop offset="0.181" stop-color="#42b644"/><stop offset="0.286" stop-color="#82c339"/><stop offset="0.308" stop-color="#67bd3e"/><stop offset="0.334" stop-color="#3db546"/><stop offset="0.387" stop-color="#43b644"/><stop offset="0.435" stop-color="#93c636"/><stop offset="0.463" stop-color="#e4d41c"/><stop offset="0.491" stop-color="#f9ce09"/><stop offset="0.537" stop-color="#f6ac16"/><stop offset="0.636" stop-color="#f9d307"/><stop offset="0.725" stop-color="#f8c70c"/><stop offset="0.854" stop-color="#f8cc0a"/><stop offset="0.999" stop-color="#f9d307"/></linearGradient><linearGradient id="gd57"><stop offset="0.001" stop-color="#36b5c6"/><stop offset="0.062" stop-color="#36b4b9"/><stop offset="0.098" stop-color="#37b38f"/><stop offset="0.126" stop-color="#39b45e"/><stop offset="0.166" stop-color="#44b644"/><stop offset="0.225" stop-color="#7fc239"/><stop offset="0.286" stop-color="#92c636"/><stop offset="0.308" stop-color="#70bf3c"/><stop offset="0.334" stop-color="#3db545"/><stop offset="0.387" stop-color="#43b644"/><stop offset="0.435" stop-color="#96c735"/><stop offset="0.461" stop-color="#e2d41e"/><stop offset="0.486" stop-color="#f9d008"/><stop offset="0.532" stop-color="#f5a218"/><stop offset="0.560" stop-color="#f5a717"/><stop offset="0.628" stop-color="#f9d207"/><stop offset="0.730" stop-color="#f8c80c"/><stop offset="0.859" stop-color="#f9ce09"/><stop offset="0.999" stop-color="#f9d307"/></linearGradient><linearGradient id="gd58"><stop offset="0.001" stop-color="#36b3ae"/><stop offset="0.060" stop-color="#36b2a1"/><stop offset="0.105" stop-color="#38b46c"/><stop offset="0.154" stop-color="#40b644"/><stop offset="0.197" stop-color="#8ac437"/><stop offset="0.237" stop-color="#a6ca31"/><stop offset="0.286" stop-color="#a1c932"/><stop offset="0.308" stop-color="#77c13b"/><stop offset="0.334" stop-color="#3eb545"/><stop offset="0.387" stop-color="#43b644"/><stop offset="0.435" stop-color="#97c735"/><stop offset="0.461" stop-color="#e3d41d"/><stop offset="0.484" stop-color="#f9cf09"/><stop offset="0.529" stop-color="#f49819"/><stop offset="0.557" stop-color="#f49919"/><stop offset="0.626" stop-color="#f9d108"/><stop offset="0.852" stop-color="#f9ce09"/><stop offset="0.999" stop-color="#f9d307"/></linearGradient><linearGradient id="gd59"><stop offset="0.001" stop-color="#37b38e"/><stop offset="0.060" stop-color="#37b381"/><stop offset="0.126" stop-color="#3bb553"/><stop offset="0.146" stop-color="#3fb545"/><stop offset="0.189" stop-color="#a3c932"/><stop offset="0.225" stop-color="#c5cf28"/><stop offset="0.278" stop-color="#b7cd2c"/><stop offset="0.301" stop-color="#93c636"/><stop offset="0.334" stop-color="#3fb545"/><stop offset="0.385" stop-color="#40b645"/><stop offset="0.433" stop-color="#91c636"/><stop offset="0.461" stop-color="#e5d41b"/><stop offset="0.481" stop-color="#f9cf09"/><stop offset="0.527" stop-color="#f48e1b"/><stop offset="0.555" stop-color="#f38b1b"/><stop offset="0.626" stop-color="#f9d108"/><stop offset="0.999" stop-color="#f9d307"/></linearGradient><linearGradient id="gd60"><stop offset="0.001" stop-color="#38b46f"/><stop offset="0.100" stop-color="#3ab458"/><stop offset="0.141" stop-color="#42b644"/><stop offset="0.189" stop-color="#c1cf29"/><stop offset="0.217" stop-color="#e1d41f"/><stop offset="0.263" stop-color="#d7d223"/><stop offset="0.293" stop-color="#afcb2e"/><stop offset="0.334" stop-color="#40b644"/><stop offset="0.385" stop-color="#40b645"/><stop offset="0.433" stop-color="#91c636"/><stop offset="0.458" stop-color="#e2d41e"/><stop offset="0.478" stop-color="#f9d008"/><stop offset="0.524" stop-color="#f3861c"/><stop offset="0.552" stop-color="#f27e1d"/><stop offset="0.626" stop-color="#f9d008"/><stop offset="0.999" stop-color="#f9d307"/></linearGradient><linearGradient id="gd61"><stop offset="0.001" stop-color="#39b45f"/><stop offset="0.118" stop-color="#3cb54b"/><stop offset="0.133" stop-color="#41b644"/><stop offset="0.164" stop-color="#93c636"/><stop offset="0.192" stop-color="#ddd421"/><stop offset="0.240" stop-color="#e9d417"/><stop offset="0.278" stop-color="#d7d223"/><stop offset="0.303" stop-color="#9ec833"/><stop offset="0.331" stop-color="#48b743"/><stop offset="0.346" stop-color="#3db548"/><stop offset="0.387" stop-color="#43b644"/><stop offset="0.433" stop-color="#91c636"/><stop offset="0.458" stop-color="#e3d41d"/><stop offset="0.478" stop-color="#f9ce09"/><stop offset="0.522" stop-color="#f3821d"/><stop offset="0.552" stop-color="#f2771e"/><stop offset="0.590" stop-color="#f5a617"/><stop offset="0.626" stop-color="#f9d008"/><stop offset="0.999" stop-color="#f9d307"/></linearGradient><linearGradient id="gd62"><stop offset="0.001" stop-color="#3ab459"/><stop offset="0.121" stop-color="#3db547"/><stop offset="0.143" stop-color="#64bd3e"/><stop offset="0.187" stop-color="#e0d420"/><stop offset="0.237" stop-color="#edd313"/><stop offset="0.283" stop-color="#dad322"/><stop offset="0.306" stop-color="#9ec833"/><stop offset="0.331" stop-color="#4cb842"/><stop offset="0.344" stop-color="#3db547"/><stop offset="0.387" stop-color="#43b644"/><stop offset="0.433" stop-color="#91c636"/><stop offset="0.458" stop-color="#e3d41d"/><stop offset="0.478" stop-color="#f8cd0a"/><stop offset="0.522" stop-color="#f27f1d"/><stop offset="0.552" stop-color="#f1741e"/><stop offset="0.588" stop-color="#f5a018"/><stop offset="0.623" stop-color="#f9cf09"/><stop offset="0.999" stop-color="#f9d307"/></linearGradient><linearGradient id="gd63"><stop offset="0.001" stop-color="#3ab456"/><stop offset="0.121" stop-color="#40b644"/><stop offset="0.154" stop-color="#8ac437"/><stop offset="0.184" stop-color="#e1d41f"/><stop offset="0.237" stop-color="#efd311"/><stop offset="0.288" stop-color="#dad322"/><stop offset="0.313" stop-color="#8ac437"/><stop offset="0.334" stop-color="#4bb842"/><stop offset="0.346" stop-color="#3db547"/><stop offset="0.387" stop-color="#43b644"/><stop offset="0.433" stop-color="#91c636"/><stop offset="0.458" stop-color="#e3d41d"/><stop offset="0.478" stop-color="#f8cd0a"/><stop offset="0.524" stop-color="#f27d1e"/><stop offset="0.552" stop-color="#f1751e"/><stop offset="0.590" stop-color="#f5a717"/><stop offset="0.626" stop-color="#f9d008"/><stop offset="0.999" stop-color="#f9d307"/></linearGradient><linearGradient id="gd64"><stop offset="0.001" stop-color="#3bb552"/><stop offset="0.115" stop-color="#3fb545"/><stop offset="0.151" stop-color="#8dc537"/><stop offset="0.181" stop-color="#e1d41f"/><stop offset="0.235" stop-color="#f1d30f"/><stop offset="0.291" stop-color="#ded421"/><stop offset="0.334" stop-color="#50b942"/><stop offset="0.349" stop-color="#3db547"/><stop offset="0.387" stop-color="#43b644"/><stop offset="0.433" stop-color="#91c636"/><stop offset="0.458" stop-color="#e3d41d"/><stop offset="0.478" stop-color="#f8cd0a"/><stop offset="0.524" stop-color="#f27e1d"/><stop offset="0.552" stop-color="#f1751e"/><stop offset="0.621" stop-color="#f9ce09"/><stop offset="0.999" stop-color="#f9d307"/></linearGradient><linearGradient id="gd65"><stop offset="0.001" stop-color="#3bb54f"/><stop offset="0.113" stop-color="#42b644"/><stop offset="0.154" stop-color="#9dc834"/><stop offset="0.179" stop-color="#e1d41f"/><stop offset="0.235" stop-color="#f2d30e"/><stop offset="0.293" stop-color="#e0d420"/><stop offset="0.334" stop-color="#55ba41"/><stop offset="0.349" stop-color="#3db546"/><stop offset="0.387" stop-color="#43b644"/><stop offset="0.433" stop-color="#91c636"/><stop offset="0.458" stop-color="#e3d41d"/><stop offset="0.478" stop-color="#f9cd09"/><stop offset="0.527" stop-color="#f27d1e"/><stop offset="0.552" stop-color="#f2771e"/><stop offset="0.621" stop-color="#f9ce09"/><stop offset="0.999" stop-color="#f9d307"/></linearGradient><linearGradient id="gd66"><stop offset="0.001" stop-color="#3cb54e"/><stop offset="0.108" stop-color="#40b644"/><stop offset="0.148" stop-color="#97c735"/><stop offset="0.179" stop-color="#e2d41e"/><stop offset="0.237" stop-color="#f2d30e"/><stop offset="0.296" stop-color="#dfd420"/><stop offset="0.334" stop-color="#57ba40"/><stop offset="0.352" stop-color="#3db547"/><stop offset="0.387" stop-color="#43b644"/><stop offset="0.433" stop-color="#91c636"/><stop offset="0.458" stop-color="#e3d41d"/><stop offset="0.478" stop-color="#f9cd09"/><stop offset="0.527" stop-color="#f2801d"/><stop offset="0.552" stop-color="#f27a1e"/><stop offset="0.618" stop-color="#f9cd09"/><stop offset="0.999" stop-color="#f9d307"/></linearGradient><linearGradient id="gd67"><stop offset="0.001" stop-color="#3cb54d"/><stop offset="0.105" stop-color="#42b644"/><stop offset="0.146" stop-color="#97c735"/><stop offset="0.179" stop-color="#e2d41e"/><stop offset="0.240" stop-color="#f2d30e"/><stop offset="0.296" stop-color="#e0d420"/><stop offset="0.334" stop-color="#59bb40"/><stop offset="0.352" stop-color="#3db546"/><stop offset="0.387" stop-color="#43b644"/><stop offset="0.433" stop-color="#91c636"/><stop offset="0.458" stop-color="#e3d41d"/><stop offset="0.478" stop-color="#f9ce09"/><stop offset="0.527" stop-color="#f3851c"/><stop offset="0.552" stop-color="#f2801d"/><stop offset="0.618" stop-color="#f9cd09"/><stop offset="0.999" stop-color="#f9d307"/></linearGradient><linearGradient id="gd68"><stop offset="0.001" stop-color="#3cb54d"/><stop offset="0.103" stop-color="#43b644"/><stop offset="0.148" stop-color="#a2c932"/><stop offset="0.179" stop-color="#e2d41e"/><stop offset="0.242" stop-color="#f1d30f"/><stop offset="0.296" stop-color="#e0d420"/><stop offset="0.334" stop-color="#59bb40"/><stop offset="0.352" stop-color="#3db546"/><stop offset="0.387" stop-color="#43b644"/><stop offset="0.433" stop-color="#91c636"/><stop offset="0.458" stop-color="#e3d41d"/><stop offset="0.478" stop-color="#f9cf09"/><stop offset="0.527" stop-color="#f38b1b"/><stop offset="0.552" stop-color="#f3871c"/><stop offset="0.621" stop-color="#f9cf09"/><stop offset="0.999" stop-color="#f9d307"/></linearGradient><linearGradient id="gd69"><stop offset="0.001" stop-color="#3cb54d"/><stop offset="0.100" stop-color="#43b644"/><stop offset="0.164" stop-color="#c7d027"/><stop offset="0.181" stop-color="#e3d41d"/><stop offset="0.250" stop-color="#f1d30f"/><stop offset="0.296" stop-color="#e0d420"/><stop offset="0.334" stop-color="#59bb40"/><stop offset="0.352" stop-color="#3db546"/><stop offset="0.387" stop-color="#43b644"/><stop offset="0.433" stop-color="#91c636"/><stop offset="0.458" stop-color="#e3d41d"/><stop offset="0.478" stop-color="#f9cf08"/><stop offset="0.527" stop-color="#f4911a"/><stop offset="0.555" stop-color="#f4901b"/><stop offset="0.623" stop-color="#f9d008"/><stop offset="0.999" stop-color="#f9d307"/></linearGradient><linearGradient id="gd70"><stop offset="0.001" stop-color="#3cb54d"/><stop offset="0.098" stop-color="#42b644"/><stop offset="0.179" stop-color="#e2d41e"/><stop offset="0.250" stop-color="#f0d310"/><stop offset="0.296" stop-color="#e0d420"/><stop offset="0.334" stop-color="#59bb40"/><stop offset="0.352" stop-color="#3db546"/><stop offset="0.387" stop-color="#43b644"/><stop offset="0.433" stop-color="#91c636"/><stop offset="0.458" stop-color="#e3d41d"/><stop offset="0.478" stop-color="#f9d008"/><stop offset="0.527" stop-color="#f4951a"/><stop offset="0.555" stop-color="#f4951a"/><stop offset="0.623" stop-color="#f9d108"/><stop offset="0.999" stop-color="#f9d307"/></linearGradient><clipPath id="clipgd"><rect x="61.9" y="455.2" width="392.6" height="141.40000000000003"/></clipPath><linearGradient id="gdcb" x1="0" y1="0" x2="0" y2="1"><stop offset="0.000" stop-color="#f6c597"/><stop offset="0.017" stop-color="#f5be95"/><stop offset="0.033" stop-color="#f4b793"/><stop offset="0.050" stop-color="#f3b092"/><stop offset="0.067" stop-color="#f2a990"/><stop offset="0.083" stop-color="#ef9d8b"/><stop offset="0.100" stop-color="#ec8e85"/><stop offset="0.117" stop-color="#ea7f80"/><stop offset="0.133" stop-color="#e66d76"/><stop offset="0.150" stop-color="#e35463"/><stop offset="0.167" stop-color="#e14355"/><stop offset="0.183" stop-color="#df394a"/><stop offset="0.200" stop-color="#dd2f3f"/><stop offset="0.217" stop-color="#dd2d38"/><stop offset="0.233" stop-color="#dd2b31"/><stop offset="0.250" stop-color="#dd282a"/><stop offset="0.267" stop-color="#df2e26"/><stop offset="0.283" stop-color="#e43825"/><stop offset="0.300" stop-color="#e84223"/><stop offset="0.317" stop-color="#ec4d21"/><stop offset="0.333" stop-color="#ee6020"/><stop offset="0.350" stop-color="#f1731e"/><stop offset="0.367" stop-color="#f3881b"/><stop offset="0.383" stop-color="#f4a018"/><stop offset="0.400" stop-color="#f6b513"/><stop offset="0.417" stop-color="#f8c70b"/><stop offset="0.433" stop-color="#f5d30a"/><stop offset="0.450" stop-color="#ebd314"/><stop offset="0.467" stop-color="#e2d31d"/><stop offset="0.483" stop-color="#c7cf27"/><stop offset="0.500" stop-color="#a9ca30"/><stop offset="0.517" stop-color="#89c437"/><stop offset="0.533" stop-color="#68bd3d"/><stop offset="0.550" stop-color="#47b743"/><stop offset="0.567" stop-color="#3cb44b"/><stop offset="0.583" stop-color="#3ab454"/><stop offset="0.600" stop-color="#39b45d"/><stop offset="0.617" stop-color="#37b36a"/><stop offset="0.633" stop-color="#37b385"/><stop offset="0.650" stop-color="#36b29f"/><stop offset="0.667" stop-color="#35b3b7"/><stop offset="0.683" stop-color="#35b5cf"/><stop offset="0.700" stop-color="#35b7e4"/><stop offset="0.717" stop-color="#36b1e6"/><stop offset="0.733" stop-color="#39a8e5"/><stop offset="0.750" stop-color="#3e9be0"/><stop offset="0.767" stop-color="#438eda"/><stop offset="0.783" stop-color="#4882d4"/><stop offset="0.800" stop-color="#4d78ce"/><stop offset="0.817" stop-color="#536dc7"/><stop offset="0.833" stop-color="#5766c3"/><stop offset="0.850" stop-color="#5c61c0"/><stop offset="0.867" stop-color="#605dbe"/><stop offset="0.883" stop-color="#6459bb"/><stop offset="0.900" stop-color="#6956ba"/><stop offset="0.917" stop-color="#7259bc"/><stop offset="0.933" stop-color="#7a5cbd"/><stop offset="0.950" stop-color="#835fbf"/><stop offset="0.967" stop-color="#8f66c2"/><stop offset="0.983" stop-color="#9c70c5"/><stop offset="1.000" stop-color="#a879c8"/></linearGradient><linearGradient id="ge0"><stop offset="0.001" stop-color="#f06a1f"/><stop offset="0.091" stop-color="#f27a1e"/><stop offset="0.139" stop-color="#f3871c"/><stop offset="0.159" stop-color="#ef6520"/><stop offset="0.182" stop-color="#e23426"/><stop offset="0.200" stop-color="#dd292c"/><stop offset="0.249" stop-color="#dd292a"/><stop offset="0.261" stop-color="#e63d24"/><stop offset="0.277" stop-color="#f3811d"/><stop offset="0.287" stop-color="#f6b115"/><stop offset="0.307" stop-color="#f9ce09"/><stop offset="0.376" stop-color="#f1d30f"/><stop offset="0.404" stop-color="#dcd321"/><stop offset="0.425" stop-color="#9dc834"/><stop offset="0.435" stop-color="#5ebc3f"/><stop offset="0.440" stop-color="#3cb548"/><stop offset="0.448" stop-color="#39b45e"/><stop offset="0.450" stop-color="#38b46e"/><stop offset="0.460" stop-color="#35b7e4"/><stop offset="0.468" stop-color="#4292dc"/><stop offset="0.483" stop-color="#5569c5"/><stop offset="0.542" stop-color="#6a55b9"/><stop offset="0.700" stop-color="#8a60c1"/><stop offset="0.846" stop-color="#6b55ba"/><stop offset="0.999" stop-color="#6a55b9"/></linearGradient><linearGradient id="ge1"><stop offset="0.001" stop-color="#f06a1f"/><stop offset="0.085" stop-color="#f2791e"/><stop offset="0.139" stop-color="#f38c1b"/><stop offset="0.159" stop-color="#f06b1f"/><stop offset="0.182" stop-color="#e43825"/><stop offset="0.205" stop-color="#dd292b"/><stop offset="0.251" stop-color="#df2c27"/><stop offset="0.267" stop-color="#ed5321"/><stop offset="0.287" stop-color="#f6b314"/><stop offset="0.307" stop-color="#f9cf09"/><stop offset="0.392" stop-color="#f1d30f"/><stop offset="0.417" stop-color="#e0d420"/><stop offset="0.430" stop-color="#a5ca31"/><stop offset="0.443" stop-color="#3db548"/><stop offset="0.450" stop-color="#39b45f"/><stop offset="0.453" stop-color="#38b472"/><stop offset="0.463" stop-color="#35b7e5"/><stop offset="0.473" stop-color="#4687d7"/><stop offset="0.494" stop-color="#5866c3"/><stop offset="0.550" stop-color="#6b55ba"/><stop offset="0.703" stop-color="#855dc0"/><stop offset="0.853" stop-color="#6955b9"/><stop offset="0.999" stop-color="#6955b9"/></linearGradient><linearGradient id="ge2"><stop offset="0.001" stop-color="#f06a1f"/><stop offset="0.083" stop-color="#f2791e"/><stop offset="0.136" stop-color="#f4931a"/><stop offset="0.157" stop-color="#f2781e"/><stop offset="0.182" stop-color="#e73e24"/><stop offset="0.213" stop-color="#dd2829"/><stop offset="0.249" stop-color="#e02f27"/><stop offset="0.264" stop-color="#ed5022"/><stop offset="0.287" stop-color="#f7b513"/><stop offset="0.307" stop-color="#f9d008"/><stop offset="0.412" stop-color="#f4d30c"/><stop offset="0.427" stop-color="#e2d41e"/><stop offset="0.432" stop-color="#c5cf28"/><stop offset="0.443" stop-color="#62bc3e"/><stop offset="0.445" stop-color="#43b644"/><stop offset="0.455" stop-color="#38b465"/><stop offset="0.466" stop-color="#35b7da"/><stop offset="0.471" stop-color="#38aee8"/><stop offset="0.481" stop-color="#4883d5"/><stop offset="0.506" stop-color="#5964c2"/><stop offset="0.568" stop-color="#6a55b9"/><stop offset="0.705" stop-color="#7e58be"/><stop offset="0.869" stop-color="#6654b8"/><stop offset="0.999" stop-color="#6654b8"/></linearGradient><linearGradient id="ge3"><stop offset="0.001" stop-color="#f06a1f"/><stop offset="0.080" stop-color="#f2781e"/><stop offset="0.136" stop-color="#f49919"/><stop offset="0.157" stop-color="#f2801d"/><stop offset="0.185" stop-color="#e94323"/><stop offset="0.226" stop-color="#df2d27"/><stop offset="0.254" stop-color="#e73f24"/><stop offset="0.267" stop-color="#ef6420"/><stop offset="0.284" stop-color="#f6b214"/><stop offset="0.305" stop-color="#f9d008"/><stop offset="0.371" stop-color="#f8c80b"/><stop offset="0.404" stop-color="#f7bd10"/><stop offset="0.427" stop-color="#f4d30c"/><stop offset="0.438" stop-color="#e0d420"/><stop offset="0.448" stop-color="#72c03c"/><stop offset="0.453" stop-color="#3cb548"/><stop offset="0.460" stop-color="#39b460"/><stop offset="0.466" stop-color="#37b38d"/><stop offset="0.476" stop-color="#35b8e4"/><stop offset="0.491" stop-color="#4293dd"/><stop offset="0.527" stop-color="#5668c4"/><stop offset="0.624" stop-color="#6c55ba"/><stop offset="0.718" stop-color="#7256bb"/><stop offset="0.874" stop-color="#6158bb"/><stop offset="0.999" stop-color="#6158ba"/></linearGradient><linearGradient id="ge4"><stop offset="0.001" stop-color="#f06a1f"/><stop offset="0.078" stop-color="#f2771e"/><stop offset="0.134" stop-color="#f59f18"/><stop offset="0.154" stop-color="#f48e1b"/><stop offset="0.190" stop-color="#ec4922"/><stop offset="0.233" stop-color="#e63d24"/><stop offset="0.256" stop-color="#ed5321"/><stop offset="0.284" stop-color="#f7b613"/><stop offset="0.307" stop-color="#f9d108"/><stop offset="0.369" stop-color="#f8c60c"/><stop offset="0.407" stop-color="#f5a617"/><stop offset="0.435" stop-color="#f8c60c"/><stop offset="0.443" stop-color="#f2d30e"/><stop offset="0.450" stop-color="#d9d322"/><stop offset="0.463" stop-color="#4ab843"/><stop offset="0.466" stop-color="#3cb548"/><stop offset="0.483" stop-color="#38b473"/><stop offset="0.506" stop-color="#36b4b9"/><stop offset="0.527" stop-color="#35b7e5"/><stop offset="0.552" stop-color="#3e9ee1"/><stop offset="0.601" stop-color="#5668c4"/><stop offset="0.695" stop-color="#6355b9"/><stop offset="0.955" stop-color="#5a63c1"/><stop offset="0.999" stop-color="#5a63c1"/></linearGradient><linearGradient id="ge5"><stop offset="0.001" stop-color="#f06a1f"/><stop offset="0.078" stop-color="#f2781e"/><stop offset="0.134" stop-color="#f5a218"/><stop offset="0.157" stop-color="#f4921a"/><stop offset="0.195" stop-color="#ee5a21"/><stop offset="0.233" stop-color="#ed5121"/><stop offset="0.256" stop-color="#f06a1f"/><stop offset="0.284" stop-color="#f7bc10"/><stop offset="0.307" stop-color="#f9d307"/><stop offset="0.366" stop-color="#f8c70c"/><stop offset="0.397" stop-color="#f49819"/><stop offset="0.422" stop-color="#f2801d"/><stop offset="0.438" stop-color="#f4921a"/><stop offset="0.458" stop-color="#f7d309"/><stop offset="0.468" stop-color="#e1d41f"/><stop offset="0.481" stop-color="#a5ca31"/><stop offset="0.504" stop-color="#83c338"/><stop offset="0.529" stop-color="#51b941"/><stop offset="0.540" stop-color="#3db547"/><stop offset="0.570" stop-color="#38b469"/><stop offset="0.596" stop-color="#35b8e2"/><stop offset="0.608" stop-color="#3da0e2"/><stop offset="0.624" stop-color="#4a81d4"/><stop offset="0.677" stop-color="#5668c4"/><stop offset="0.917" stop-color="#4c7bd0"/><stop offset="0.999" stop-color="#4c7bd0"/></linearGradient><linearGradient id="ge6"><stop offset="0.001" stop-color="#f06b1f"/><stop offset="0.078" stop-color="#f2791e"/><stop offset="0.136" stop-color="#f5a318"/><stop offset="0.165" stop-color="#f4911a"/><stop offset="0.205" stop-color="#f16f1f"/><stop offset="0.244" stop-color="#f1741f"/><stop offset="0.264" stop-color="#f4971a"/><stop offset="0.284" stop-color="#f8c50c"/><stop offset="0.305" stop-color="#f6d30a"/><stop offset="0.364" stop-color="#f8c90b"/><stop offset="0.389" stop-color="#f5a218"/><stop offset="0.420" stop-color="#ef6120"/><stop offset="0.435" stop-color="#ee5921"/><stop offset="0.450" stop-color="#f27d1d"/><stop offset="0.466" stop-color="#f7b713"/><stop offset="0.486" stop-color="#f9ce09"/><stop offset="0.537" stop-color="#f2d30e"/><stop offset="0.555" stop-color="#ded421"/><stop offset="0.580" stop-color="#42b644"/><stop offset="0.598" stop-color="#38b464"/><stop offset="0.614" stop-color="#36b5c4"/><stop offset="0.621" stop-color="#35b7e4"/><stop offset="0.667" stop-color="#458cda"/><stop offset="0.912" stop-color="#3e9de1"/><stop offset="0.999" stop-color="#3e9de1"/></linearGradient><linearGradient id="ge7"><stop offset="0.001" stop-color="#f06d1f"/><stop offset="0.078" stop-color="#f27a1e"/><stop offset="0.142" stop-color="#f5a218"/><stop offset="0.231" stop-color="#f48f1b"/><stop offset="0.256" stop-color="#f5a417"/><stop offset="0.290" stop-color="#f6d30a"/><stop offset="0.361" stop-color="#f8cd0a"/><stop offset="0.386" stop-color="#f5a717"/><stop offset="0.425" stop-color="#ec4b22"/><stop offset="0.440" stop-color="#ec4922"/><stop offset="0.458" stop-color="#f27c1e"/><stop offset="0.473" stop-color="#f6ad16"/><stop offset="0.501" stop-color="#f6b314"/><stop offset="0.537" stop-color="#f8c20e"/><stop offset="0.552" stop-color="#f6d30a"/><stop offset="0.568" stop-color="#dcd321"/><stop offset="0.591" stop-color="#3db546"/><stop offset="0.606" stop-color="#38b463"/><stop offset="0.624" stop-color="#36b4bf"/><stop offset="0.636" stop-color="#35b8e4"/><stop offset="0.698" stop-color="#39abe7"/><stop offset="0.999" stop-color="#38afe7"/></linearGradient><linearGradient id="ge8"><stop offset="0.001" stop-color="#f1701f"/><stop offset="0.080" stop-color="#f27d1e"/><stop offset="0.180" stop-color="#f6af15"/><stop offset="0.251" stop-color="#f7b712"/><stop offset="0.279" stop-color="#f5d30b"/><stop offset="0.312" stop-color="#ecd414"/><stop offset="0.364" stop-color="#f8cd0a"/><stop offset="0.389" stop-color="#f5a218"/><stop offset="0.425" stop-color="#eb4822"/><stop offset="0.443" stop-color="#eb4822"/><stop offset="0.476" stop-color="#f6ae16"/><stop offset="0.542" stop-color="#f8cb0a"/><stop offset="0.557" stop-color="#edd313"/><stop offset="0.568" stop-color="#d7d223"/><stop offset="0.591" stop-color="#3db545"/><stop offset="0.611" stop-color="#38b46d"/><stop offset="0.626" stop-color="#36b3b2"/><stop offset="0.649" stop-color="#35b7e4"/><stop offset="0.999" stop-color="#37b3e6"/></linearGradient><linearGradient id="ge9"><stop offset="0.001" stop-color="#f2761e"/><stop offset="0.085" stop-color="#f3851c"/><stop offset="0.195" stop-color="#f7c00f"/><stop offset="0.256" stop-color="#f8cc0a"/><stop offset="0.282" stop-color="#e9d417"/><stop offset="0.318" stop-color="#e8d418"/><stop offset="0.369" stop-color="#f8cd0a"/><stop offset="0.392" stop-color="#f5a218"/><stop offset="0.425" stop-color="#ec4b22"/><stop offset="0.440" stop-color="#ea4623"/><stop offset="0.455" stop-color="#f16f1f"/><stop offset="0.473" stop-color="#f6af16"/><stop offset="0.506" stop-color="#f8c60c"/><stop offset="0.547" stop-color="#f3d30d"/><stop offset="0.562" stop-color="#e0d420"/><stop offset="0.591" stop-color="#3db546"/><stop offset="0.614" stop-color="#38b46d"/><stop offset="0.634" stop-color="#36b3b5"/><stop offset="0.659" stop-color="#35b7de"/><stop offset="0.746" stop-color="#35b7dc"/><stop offset="0.879" stop-color="#36b6e5"/><stop offset="0.999" stop-color="#36b6e5"/></linearGradient><linearGradient id="ge10"><stop offset="0.001" stop-color="#f3841d"/><stop offset="0.096" stop-color="#f4941a"/><stop offset="0.200" stop-color="#f8cb0a"/><stop offset="0.261" stop-color="#f2d30e"/><stop offset="0.300" stop-color="#cdd126"/><stop offset="0.333" stop-color="#e6d41a"/><stop offset="0.376" stop-color="#f9ce09"/><stop offset="0.399" stop-color="#f5a018"/><stop offset="0.427" stop-color="#ed5521"/><stop offset="0.440" stop-color="#ed5121"/><stop offset="0.455" stop-color="#f27c1e"/><stop offset="0.471" stop-color="#f7b413"/><stop offset="0.499" stop-color="#f9d108"/><stop offset="0.552" stop-color="#e7d419"/><stop offset="0.560" stop-color="#dbd321"/><stop offset="0.591" stop-color="#3db546"/><stop offset="0.619" stop-color="#38b46f"/><stop offset="0.644" stop-color="#36b3b2"/><stop offset="0.667" stop-color="#36b5c6"/><stop offset="0.739" stop-color="#36b4bc"/><stop offset="0.879" stop-color="#35b7dd"/><stop offset="0.999" stop-color="#35b7da"/></linearGradient><linearGradient id="ge11"><stop offset="0.001" stop-color="#f49819"/><stop offset="0.111" stop-color="#f6aa17"/><stop offset="0.208" stop-color="#f9cf09"/><stop offset="0.259" stop-color="#f0d310"/><stop offset="0.279" stop-color="#d6d223"/><stop offset="0.295" stop-color="#b2cc2e"/><stop offset="0.315" stop-color="#b9cd2b"/><stop offset="0.376" stop-color="#efd311"/><stop offset="0.392" stop-color="#f8c80c"/><stop offset="0.409" stop-color="#f5a018"/><stop offset="0.430" stop-color="#f06820"/><stop offset="0.443" stop-color="#f06a1f"/><stop offset="0.468" stop-color="#f7be10"/><stop offset="0.483" stop-color="#f7d309"/><stop offset="0.555" stop-color="#e0d420"/><stop offset="0.591" stop-color="#40b644"/><stop offset="0.626" stop-color="#38b46c"/><stop offset="0.654" stop-color="#36b2a0"/><stop offset="0.688" stop-color="#36b29b"/><stop offset="0.739" stop-color="#37b396"/><stop offset="0.866" stop-color="#35b5c6"/><stop offset="0.999" stop-color="#36b5c1"/></linearGradient><linearGradient id="ge12"><stop offset="0.001" stop-color="#f6af16"/><stop offset="0.149" stop-color="#f7c00f"/><stop offset="0.228" stop-color="#f9d307"/><stop offset="0.272" stop-color="#e0d420"/><stop offset="0.292" stop-color="#9bc834"/><stop offset="0.310" stop-color="#91c636"/><stop offset="0.361" stop-color="#b9cd2c"/><stop offset="0.379" stop-color="#e3d41d"/><stop offset="0.399" stop-color="#f9d008"/><stop offset="0.422" stop-color="#f4971a"/><stop offset="0.435" stop-color="#f27e1d"/><stop offset="0.448" stop-color="#f4911a"/><stop offset="0.468" stop-color="#f9cf09"/><stop offset="0.509" stop-color="#e3d41d"/><stop offset="0.550" stop-color="#dcd321"/><stop offset="0.575" stop-color="#87c438"/><stop offset="0.596" stop-color="#3db546"/><stop offset="0.644" stop-color="#38b470"/><stop offset="0.667" stop-color="#37b37c"/><stop offset="0.723" stop-color="#38b467"/><stop offset="0.866" stop-color="#36b3ae"/><stop offset="0.999" stop-color="#36b2a6"/></linearGradient><linearGradient id="ge13"><stop offset="0.001" stop-color="#f7bd10"/><stop offset="0.165" stop-color="#f8cc0a"/><stop offset="0.249" stop-color="#f2d30e"/><stop offset="0.269" stop-color="#dfd420"/><stop offset="0.290" stop-color="#8ac437"/><stop offset="0.305" stop-color="#71bf3c"/><stop offset="0.356" stop-color="#80c239"/><stop offset="0.374" stop-color="#a4c932"/><stop offset="0.392" stop-color="#e2d41e"/><stop offset="0.412" stop-color="#f8cb0a"/><stop offset="0.435" stop-color="#f59d19"/><stop offset="0.448" stop-color="#f6af16"/><stop offset="0.466" stop-color="#f4d30c"/><stop offset="0.496" stop-color="#ccd026"/><stop offset="0.524" stop-color="#cad027"/><stop offset="0.547" stop-color="#cbd026"/><stop offset="0.570" stop-color="#95c735"/><stop offset="0.598" stop-color="#3db545"/><stop offset="0.662" stop-color="#39b461"/><stop offset="0.759" stop-color="#39b45f"/><stop offset="0.797" stop-color="#38b471"/><stop offset="0.884" stop-color="#36b29a"/><stop offset="0.999" stop-color="#37b38a"/></linearGradient><linearGradient id="ge14"><stop offset="0.001" stop-color="#f8c70c"/><stop offset="0.246" stop-color="#f4d30c"/><stop offset="0.269" stop-color="#dbd322"/><stop offset="0.290" stop-color="#7bc13a"/><stop offset="0.305" stop-color="#5bbb40"/><stop offset="0.353" stop-color="#58ba40"/><stop offset="0.374" stop-color="#79c13a"/><stop offset="0.399" stop-color="#d5d223"/><stop offset="0.412" stop-color="#efd311"/><stop offset="0.422" stop-color="#f8cc0a"/><stop offset="0.440" stop-color="#f7bc10"/><stop offset="0.458" stop-color="#f3d30d"/><stop offset="0.471" stop-color="#dfd420"/><stop offset="0.483" stop-color="#b5cc2d"/><stop offset="0.506" stop-color="#a2c932"/><stop offset="0.547" stop-color="#b4cc2d"/><stop offset="0.573" stop-color="#86c438"/><stop offset="0.603" stop-color="#3db545"/><stop offset="0.667" stop-color="#3ab458"/><stop offset="0.759" stop-color="#3ab457"/><stop offset="0.828" stop-color="#38b471"/><stop offset="0.892" stop-color="#37b38b"/><stop offset="0.986" stop-color="#37b378"/><stop offset="0.999" stop-color="#37b378"/></linearGradient><linearGradient id="ge15"><stop offset="0.001" stop-color="#f9cd09"/><stop offset="0.172" stop-color="#f8cc0a"/><stop offset="0.233" stop-color="#f8ca0b"/><stop offset="0.256" stop-color="#f2d30e"/><stop offset="0.269" stop-color="#e1d41f"/><stop offset="0.292" stop-color="#6ebf3c"/><stop offset="0.307" stop-color="#4eb842"/><stop offset="0.353" stop-color="#45b744"/><stop offset="0.376" stop-color="#63bd3e"/><stop offset="0.402" stop-color="#afcb2e"/><stop offset="0.415" stop-color="#e2d41e"/><stop offset="0.440" stop-color="#f3d30d"/><stop offset="0.460" stop-color="#dbd321"/><stop offset="0.476" stop-color="#9cc834"/><stop offset="0.494" stop-color="#85c338"/><stop offset="0.529" stop-color="#96c735"/><stop offset="0.552" stop-color="#99c734"/><stop offset="0.608" stop-color="#3db547"/><stop offset="0.675" stop-color="#3bb553"/><stop offset="0.767" stop-color="#3ab457"/><stop offset="0.830" stop-color="#38b470"/><stop offset="0.886" stop-color="#37b38a"/><stop offset="0.989" stop-color="#37b376"/><stop offset="0.999" stop-color="#37b376"/></linearGradient><linearGradient id="ge16"><stop offset="0.001" stop-color="#f9d008"/><stop offset="0.159" stop-color="#f9cd09"/><stop offset="0.223" stop-color="#f7b812"/><stop offset="0.259" stop-color="#f6d30a"/><stop offset="0.272" stop-color="#e2d41e"/><stop offset="0.292" stop-color="#71bf3c"/><stop offset="0.307" stop-color="#4cb842"/><stop offset="0.351" stop-color="#3fb545"/><stop offset="0.381" stop-color="#59bb40"/><stop offset="0.412" stop-color="#9bc834"/><stop offset="0.432" stop-color="#cad026"/><stop offset="0.445" stop-color="#c3cf28"/><stop offset="0.476" stop-color="#6fbf3c"/><stop offset="0.499" stop-color="#69be3d"/><stop offset="0.547" stop-color="#84c338"/><stop offset="0.588" stop-color="#55ba41"/><stop offset="0.608" stop-color="#3db547"/><stop offset="0.685" stop-color="#3bb552"/><stop offset="0.787" stop-color="#39b45f"/><stop offset="0.828" stop-color="#37b377"/><stop offset="0.881" stop-color="#37b393"/><stop offset="0.989" stop-color="#37b380"/><stop offset="0.999" stop-color="#37b380"/></linearGradient><linearGradient id="ge17"><stop offset="0.001" stop-color="#f9d108"/><stop offset="0.154" stop-color="#f9ce09"/><stop offset="0.221" stop-color="#f5a418"/><stop offset="0.256" stop-color="#f8c70c"/><stop offset="0.264" stop-color="#f5d30b"/><stop offset="0.277" stop-color="#d6d223"/><stop offset="0.292" stop-color="#78c13a"/><stop offset="0.305" stop-color="#53b941"/><stop offset="0.341" stop-color="#3eb545"/><stop offset="0.397" stop-color="#4fb942"/><stop offset="0.438" stop-color="#69be3d"/><stop offset="0.478" stop-color="#42b644"/><stop offset="0.545" stop-color="#6bbe3d"/><stop offset="0.588" stop-color="#4bb843"/><stop offset="0.608" stop-color="#3db548"/><stop offset="0.721" stop-color="#3bb553"/><stop offset="0.805" stop-color="#38b46d"/><stop offset="0.869" stop-color="#36b29e"/><stop offset="0.999" stop-color="#37b38d"/></linearGradient><linearGradient id="ge18"><stop offset="0.001" stop-color="#f9d207"/><stop offset="0.152" stop-color="#f9ce09"/><stop offset="0.216" stop-color="#f38b1b"/><stop offset="0.241" stop-color="#f59d19"/><stop offset="0.267" stop-color="#f8d308"/><stop offset="0.279" stop-color="#d7d223"/><stop offset="0.292" stop-color="#83c338"/><stop offset="0.305" stop-color="#5abb40"/><stop offset="0.338" stop-color="#44b644"/><stop offset="0.481" stop-color="#3cb54c"/><stop offset="0.509" stop-color="#45b744"/><stop offset="0.552" stop-color="#53b941"/><stop offset="0.608" stop-color="#3cb549"/><stop offset="0.787" stop-color="#38b466"/><stop offset="0.866" stop-color="#36b2a7"/><stop offset="0.996" stop-color="#37b397"/><stop offset="0.999" stop-color="#37b397"/></linearGradient><linearGradient id="ge19"><stop offset="0.001" stop-color="#f9d307"/><stop offset="0.149" stop-color="#f9cf09"/><stop offset="0.185" stop-color="#f4961a"/><stop offset="0.216" stop-color="#f1721f"/><stop offset="0.239" stop-color="#f27f1d"/><stop offset="0.261" stop-color="#f7b912"/><stop offset="0.272" stop-color="#f6d30a"/><stop offset="0.282" stop-color="#ddd421"/><stop offset="0.295" stop-color="#8ec537"/><stop offset="0.307" stop-color="#6abe3d"/><stop offset="0.376" stop-color="#40b644"/><stop offset="0.450" stop-color="#39b45c"/><stop offset="0.540" stop-color="#42b644"/><stop offset="0.779" stop-color="#38b466"/><stop offset="0.864" stop-color="#36b2a5"/><stop offset="0.971" stop-color="#37b395"/><stop offset="0.999" stop-color="#37b395"/></linearGradient><linearGradient id="ge20"><stop offset="0.001" stop-color="#f9d307"/><stop offset="0.147" stop-color="#f9cf09"/><stop offset="0.172" stop-color="#f5a018"/><stop offset="0.198" stop-color="#f0691f"/><stop offset="0.223" stop-color="#ee5921"/><stop offset="0.249" stop-color="#f2781e"/><stop offset="0.274" stop-color="#f9d108"/><stop offset="0.287" stop-color="#ddd421"/><stop offset="0.297" stop-color="#a8ca31"/><stop offset="0.312" stop-color="#89c437"/><stop offset="0.369" stop-color="#63bd3e"/><stop offset="0.392" stop-color="#3db547"/><stop offset="0.445" stop-color="#38b462"/><stop offset="0.534" stop-color="#3db546"/><stop offset="0.677" stop-color="#3ab458"/><stop offset="0.787" stop-color="#38b46b"/><stop offset="0.864" stop-color="#37b395"/><stop offset="0.953" stop-color="#37b383"/><stop offset="0.999" stop-color="#37b383"/></linearGradient><linearGradient id="ge21"><stop offset="0.001" stop-color="#f9d307"/><stop offset="0.144" stop-color="#f9ce09"/><stop offset="0.165" stop-color="#f6a817"/><stop offset="0.188" stop-color="#ef6120"/><stop offset="0.213" stop-color="#e94423"/><stop offset="0.241" stop-color="#ed5022"/><stop offset="0.259" stop-color="#f27d1e"/><stop offset="0.274" stop-color="#f7c00f"/><stop offset="0.282" stop-color="#f5d30b"/><stop offset="0.297" stop-color="#d5d223"/><stop offset="0.312" stop-color="#b8cd2c"/><stop offset="0.364" stop-color="#8fc536"/><stop offset="0.397" stop-color="#3db546"/><stop offset="0.443" stop-color="#38b463"/><stop offset="0.532" stop-color="#3db548"/><stop offset="0.659" stop-color="#3ab456"/><stop offset="0.795" stop-color="#38b46b"/><stop offset="0.866" stop-color="#37b37e"/><stop offset="0.940" stop-color="#38b468"/><stop offset="0.999" stop-color="#38b468"/></linearGradient><linearGradient id="ge22"><stop offset="0.001" stop-color="#f9d307"/><stop offset="0.142" stop-color="#f9ce09"/><stop offset="0.159" stop-color="#f6af16"/><stop offset="0.182" stop-color="#ee5721"/><stop offset="0.203" stop-color="#e53925"/><stop offset="0.233" stop-color="#e43725"/><stop offset="0.254" stop-color="#ed5221"/><stop offset="0.269" stop-color="#f4931a"/><stop offset="0.279" stop-color="#f7c00f"/><stop offset="0.290" stop-color="#f2d30e"/><stop offset="0.320" stop-color="#e1d41f"/><stop offset="0.358" stop-color="#bece2a"/><stop offset="0.384" stop-color="#7ac13a"/><stop offset="0.402" stop-color="#3db546"/><stop offset="0.443" stop-color="#38b463"/><stop offset="0.529" stop-color="#3cb549"/><stop offset="0.652" stop-color="#3ab455"/><stop offset="0.721" stop-color="#39b461"/><stop offset="0.858" stop-color="#38b467"/><stop offset="0.999" stop-color="#39b45e"/></linearGradient><linearGradient id="ge23"><stop offset="0.001" stop-color="#f9d307"/><stop offset="0.142" stop-color="#f8cd0a"/><stop offset="0.159" stop-color="#f6a817"/><stop offset="0.182" stop-color="#ec4922"/><stop offset="0.210" stop-color="#de2a28"/><stop offset="0.241" stop-color="#e13126"/><stop offset="0.259" stop-color="#ed5221"/><stop offset="0.282" stop-color="#f7bb11"/><stop offset="0.295" stop-color="#f5d30b"/><stop offset="0.358" stop-color="#ddd321"/><stop offset="0.381" stop-color="#98c735"/><stop offset="0.404" stop-color="#3db546"/><stop offset="0.443" stop-color="#38b462"/><stop offset="0.527" stop-color="#3cb54a"/><stop offset="0.649" stop-color="#3bb554"/><stop offset="0.716" stop-color="#38b463"/><stop offset="0.999" stop-color="#3ab459"/></linearGradient><linearGradient id="ge24"><stop offset="0.001" stop-color="#f9d307"/><stop offset="0.139" stop-color="#f9ce09"/><stop offset="0.157" stop-color="#f6b015"/><stop offset="0.182" stop-color="#ec4922"/><stop offset="0.210" stop-color="#de2a28"/><stop offset="0.244" stop-color="#e23426"/><stop offset="0.259" stop-color="#ed5121"/><stop offset="0.282" stop-color="#f7b712"/><stop offset="0.295" stop-color="#f8d308"/><stop offset="0.364" stop-color="#dbd322"/><stop offset="0.392" stop-color="#75c03b"/><stop offset="0.404" stop-color="#3fb545"/><stop offset="0.443" stop-color="#39b460"/><stop offset="0.527" stop-color="#3cb54b"/><stop offset="0.652" stop-color="#3ab455"/><stop offset="0.718" stop-color="#39b460"/><stop offset="0.907" stop-color="#39b45b"/><stop offset="0.999" stop-color="#3ab45b"/></linearGradient><linearGradient id="ge25"><stop offset="0.001" stop-color="#f9d307"/><stop offset="0.142" stop-color="#f8cc0a"/><stop offset="0.159" stop-color="#f6ae16"/><stop offset="0.182" stop-color="#ee5821"/><stop offset="0.203" stop-color="#e53b25"/><stop offset="0.236" stop-color="#e53b25"/><stop offset="0.254" stop-color="#ed5121"/><stop offset="0.272" stop-color="#f4951a"/><stop offset="0.282" stop-color="#f7bd10"/><stop offset="0.295" stop-color="#f6d30a"/><stop offset="0.358" stop-color="#dcd321"/><stop offset="0.384" stop-color="#8cc537"/><stop offset="0.404" stop-color="#3db545"/><stop offset="0.445" stop-color="#39b45d"/><stop offset="0.527" stop-color="#3cb54b"/><stop offset="0.659" stop-color="#3ab455"/><stop offset="0.741" stop-color="#3ab458"/><stop offset="0.828" stop-color="#38b465"/><stop offset="0.864" stop-color="#38b46d"/><stop offset="0.943" stop-color="#38b461"/><stop offset="0.999" stop-color="#38b462"/></linearGradient><linearGradient id="ge26"><stop offset="0.001" stop-color="#f9d307"/><stop offset="0.142" stop-color="#f9cd09"/><stop offset="0.165" stop-color="#f5a617"/><stop offset="0.188" stop-color="#ef6220"/><stop offset="0.216" stop-color="#eb4822"/><stop offset="0.244" stop-color="#ed5621"/><stop offset="0.261" stop-color="#f27f1d"/><stop offset="0.279" stop-color="#f7bf0f"/><stop offset="0.290" stop-color="#f6d30a"/><stop offset="0.348" stop-color="#dad322"/><stop offset="0.374" stop-color="#9fc833"/><stop offset="0.402" stop-color="#3db545"/><stop offset="0.445" stop-color="#3ab45a"/><stop offset="0.534" stop-color="#3cb54b"/><stop offset="0.802" stop-color="#3ab459"/><stop offset="0.828" stop-color="#38b46f"/><stop offset="0.853" stop-color="#37b389"/><stop offset="0.930" stop-color="#37b37b"/><stop offset="0.999" stop-color="#37b380"/></linearGradient><linearGradient id="ge27"><stop offset="0.001" stop-color="#f9d307"/><stop offset="0.144" stop-color="#f8cd0a"/><stop offset="0.170" stop-color="#f5a418"/><stop offset="0.193" stop-color="#f1721f"/><stop offset="0.223" stop-color="#ef5f20"/><stop offset="0.251" stop-color="#f27b1e"/><stop offset="0.282" stop-color="#f9d008"/><stop offset="0.318" stop-color="#e2d41e"/><stop offset="0.348" stop-color="#c3cf29"/><stop offset="0.376" stop-color="#84c338"/><stop offset="0.399" stop-color="#3db545"/><stop offset="0.448" stop-color="#3ab457"/><stop offset="0.550" stop-color="#3cb54b"/><stop offset="0.797" stop-color="#3bb554"/><stop offset="0.823" stop-color="#38b46a"/><stop offset="0.843" stop-color="#36b299"/><stop offset="0.876" stop-color="#36b2a5"/><stop offset="0.925" stop-color="#36b29a"/><stop offset="0.999" stop-color="#36b2a4"/></linearGradient><linearGradient id="ge28"><stop offset="0.001" stop-color="#f9d307"/><stop offset="0.147" stop-color="#f8cc0a"/><stop offset="0.177" stop-color="#f59d19"/><stop offset="0.208" stop-color="#f1741f"/><stop offset="0.236" stop-color="#f2771e"/><stop offset="0.259" stop-color="#f59f18"/><stop offset="0.282" stop-color="#f6d30a"/><stop offset="0.318" stop-color="#d1d124"/><stop offset="0.364" stop-color="#91c636"/><stop offset="0.397" stop-color="#3db546"/><stop offset="0.450" stop-color="#3bb554"/><stop offset="0.603" stop-color="#3cb54b"/><stop offset="0.797" stop-color="#3bb552"/><stop offset="0.820" stop-color="#38b467"/><stop offset="0.841" stop-color="#36b2a3"/><stop offset="0.869" stop-color="#36b3b7"/><stop offset="0.927" stop-color="#36b3b1"/><stop offset="0.999" stop-color="#36b4ba"/></linearGradient><linearGradient id="ge29"><stop offset="0.001" stop-color="#f9d307"/><stop offset="0.147" stop-color="#f8cc0a"/><stop offset="0.177" stop-color="#f59f18"/><stop offset="0.208" stop-color="#f2761e"/><stop offset="0.236" stop-color="#f2791e"/><stop offset="0.256" stop-color="#f59b19"/><stop offset="0.279" stop-color="#f8d308"/><stop offset="0.315" stop-color="#c0ce29"/><stop offset="0.371" stop-color="#6fbf3c"/><stop offset="0.394" stop-color="#3db546"/><stop offset="0.453" stop-color="#3bb551"/><stop offset="0.654" stop-color="#3cb54d"/><stop offset="0.800" stop-color="#3ab456"/><stop offset="0.820" stop-color="#38b46c"/><stop offset="0.843" stop-color="#36b2a9"/><stop offset="0.879" stop-color="#36b4b8"/><stop offset="0.927" stop-color="#36b3b6"/><stop offset="0.999" stop-color="#36b4c0"/></linearGradient><linearGradient id="ge30"><stop offset="0.001" stop-color="#f9d307"/><stop offset="0.144" stop-color="#f9cd09"/><stop offset="0.172" stop-color="#f5a418"/><stop offset="0.198" stop-color="#f1761e"/><stop offset="0.226" stop-color="#f06a1f"/><stop offset="0.251" stop-color="#f3861c"/><stop offset="0.279" stop-color="#f8d308"/><stop offset="0.300" stop-color="#d3d224"/><stop offset="0.325" stop-color="#9bc834"/><stop offset="0.379" stop-color="#52b941"/><stop offset="0.392" stop-color="#3db546"/><stop offset="0.460" stop-color="#3cb54e"/><stop offset="0.649" stop-color="#3bb54f"/><stop offset="0.807" stop-color="#39b460"/><stop offset="0.820" stop-color="#38b472"/><stop offset="0.846" stop-color="#36b2a3"/><stop offset="0.889" stop-color="#36b2ab"/><stop offset="0.935" stop-color="#36b3b1"/><stop offset="0.999" stop-color="#36b4b8"/></linearGradient><linearGradient id="ge31"><stop offset="0.001" stop-color="#f9d307"/><stop offset="0.144" stop-color="#f8cd0a"/><stop offset="0.170" stop-color="#f5a218"/><stop offset="0.193" stop-color="#f16f1f"/><stop offset="0.223" stop-color="#ee5c20"/><stop offset="0.249" stop-color="#f1741e"/><stop offset="0.279" stop-color="#f9d307"/><stop offset="0.295" stop-color="#dfd420"/><stop offset="0.312" stop-color="#a0c933"/><stop offset="0.338" stop-color="#71bf3c"/><stop offset="0.392" stop-color="#3db547"/><stop offset="0.478" stop-color="#3cb54b"/><stop offset="0.639" stop-color="#3bb54f"/><stop offset="0.807" stop-color="#38b467"/><stop offset="0.848" stop-color="#36b297"/><stop offset="0.930" stop-color="#36b2a2"/><stop offset="0.999" stop-color="#36b2ac"/></linearGradient><linearGradient id="ge32"><stop offset="0.001" stop-color="#f9d307"/><stop offset="0.142" stop-color="#f9ce09"/><stop offset="0.165" stop-color="#f6aa17"/><stop offset="0.188" stop-color="#f0691f"/><stop offset="0.218" stop-color="#ec4d22"/><stop offset="0.246" stop-color="#ef6120"/><stop offset="0.261" stop-color="#f38d1b"/><stop offset="0.279" stop-color="#f9d008"/><stop offset="0.295" stop-color="#dad322"/><stop offset="0.312" stop-color="#8fc536"/><stop offset="0.335" stop-color="#5ebc3f"/><stop offset="0.389" stop-color="#3db548"/><stop offset="0.514" stop-color="#3db547"/><stop offset="0.644" stop-color="#3bb552"/><stop offset="0.823" stop-color="#37b380"/><stop offset="0.892" stop-color="#37b38c"/><stop offset="0.989" stop-color="#36b2a0"/><stop offset="0.999" stop-color="#36b2a0"/></linearGradient><linearGradient id="ge33"><stop offset="0.001" stop-color="#f9d307"/><stop offset="0.142" stop-color="#f8cc0a"/><stop offset="0.162" stop-color="#f6aa17"/><stop offset="0.185" stop-color="#ef6020"/><stop offset="0.208" stop-color="#e94323"/><stop offset="0.241" stop-color="#eb4922"/><stop offset="0.256" stop-color="#f06a1f"/><stop offset="0.279" stop-color="#f8cd0a"/><stop offset="0.295" stop-color="#d7d223"/><stop offset="0.310" stop-color="#8dc537"/><stop offset="0.330" stop-color="#55ba41"/><stop offset="0.374" stop-color="#3db546"/><stop offset="0.509" stop-color="#3db546"/><stop offset="0.634" stop-color="#3bb550"/><stop offset="0.787" stop-color="#37b380"/><stop offset="0.922" stop-color="#37b388"/><stop offset="0.981" stop-color="#37b397"/><stop offset="0.999" stop-color="#37b397"/></linearGradient><linearGradient id="ge34"><stop offset="0.001" stop-color="#f8d308"/><stop offset="0.139" stop-color="#f8cd0a"/><stop offset="0.159" stop-color="#f6ac16"/><stop offset="0.185" stop-color="#ed5221"/><stop offset="0.213" stop-color="#e23426"/><stop offset="0.244" stop-color="#e73e24"/><stop offset="0.256" stop-color="#ee5a21"/><stop offset="0.279" stop-color="#f8c90b"/><stop offset="0.284" stop-color="#f3d30d"/><stop offset="0.295" stop-color="#d8d322"/><stop offset="0.310" stop-color="#88c438"/><stop offset="0.330" stop-color="#4db842"/><stop offset="0.361" stop-color="#3db545"/><stop offset="0.519" stop-color="#3db545"/><stop offset="0.636" stop-color="#3bb551"/><stop offset="0.797" stop-color="#37b382"/><stop offset="0.917" stop-color="#37b381"/><stop offset="0.976" stop-color="#37b392"/><stop offset="0.999" stop-color="#37b392"/></linearGradient><linearGradient id="ge35"><stop offset="0.001" stop-color="#f6d30a"/><stop offset="0.136" stop-color="#f8cc0a"/><stop offset="0.157" stop-color="#f6b015"/><stop offset="0.185" stop-color="#ed5021"/><stop offset="0.216" stop-color="#e13126"/><stop offset="0.246" stop-color="#e73f24"/><stop offset="0.259" stop-color="#ef6120"/><stop offset="0.279" stop-color="#f8c80b"/><stop offset="0.284" stop-color="#f3d30d"/><stop offset="0.295" stop-color="#d5d223"/><stop offset="0.310" stop-color="#86c438"/><stop offset="0.330" stop-color="#4bb842"/><stop offset="0.358" stop-color="#3db545"/><stop offset="0.621" stop-color="#3cb54d"/><stop offset="0.815" stop-color="#37b380"/><stop offset="0.917" stop-color="#37b380"/><stop offset="0.976" stop-color="#37b391"/><stop offset="0.999" stop-color="#37b391"/></linearGradient><linearGradient id="ge36"><stop offset="0.001" stop-color="#f0d310"/><stop offset="0.134" stop-color="#f8cc0a"/><stop offset="0.159" stop-color="#f6ae16"/><stop offset="0.188" stop-color="#ef6320"/><stop offset="0.216" stop-color="#ea4523"/><stop offset="0.244" stop-color="#ed5221"/><stop offset="0.259" stop-color="#f27a1e"/><stop offset="0.274" stop-color="#f7bf0f"/><stop offset="0.282" stop-color="#f4d30c"/><stop offset="0.292" stop-color="#dcd321"/><stop offset="0.307" stop-color="#8bc537"/><stop offset="0.328" stop-color="#4fb942"/><stop offset="0.353" stop-color="#3db545"/><stop offset="0.616" stop-color="#3cb54d"/><stop offset="0.718" stop-color="#38b46d"/><stop offset="0.825" stop-color="#37b383"/><stop offset="0.915" stop-color="#37b37e"/><stop offset="0.976" stop-color="#37b391"/><stop offset="0.999" stop-color="#37b391"/></linearGradient><linearGradient id="ge37"><stop offset="0.001" stop-color="#e8d418"/><stop offset="0.131" stop-color="#f9ce09"/><stop offset="0.175" stop-color="#f5a418"/><stop offset="0.216" stop-color="#f2771e"/><stop offset="0.241" stop-color="#f3831d"/><stop offset="0.267" stop-color="#f7be10"/><stop offset="0.277" stop-color="#f4d30c"/><stop offset="0.290" stop-color="#d6d223"/><stop offset="0.307" stop-color="#83c338"/><stop offset="0.330" stop-color="#49b743"/><stop offset="0.366" stop-color="#3db545"/><stop offset="0.603" stop-color="#3cb54d"/><stop offset="0.705" stop-color="#38b46d"/><stop offset="0.751" stop-color="#37b389"/><stop offset="0.848" stop-color="#37b384"/><stop offset="0.907" stop-color="#37b378"/><stop offset="0.976" stop-color="#37b38c"/><stop offset="0.999" stop-color="#37b38c"/></linearGradient><linearGradient id="ge38"><stop offset="0.001" stop-color="#e1d41f"/><stop offset="0.111" stop-color="#f2d30e"/><stop offset="0.154" stop-color="#f8c70c"/><stop offset="0.228" stop-color="#f6b015"/><stop offset="0.261" stop-color="#f9ce09"/><stop offset="0.282" stop-color="#e0d420"/><stop offset="0.302" stop-color="#88c438"/><stop offset="0.328" stop-color="#4bb843"/><stop offset="0.361" stop-color="#3db545"/><stop offset="0.593" stop-color="#3cb54d"/><stop offset="0.693" stop-color="#38b46c"/><stop offset="0.746" stop-color="#36b298"/><stop offset="0.823" stop-color="#37b391"/><stop offset="0.892" stop-color="#38b46c"/><stop offset="0.989" stop-color="#37b37f"/><stop offset="0.999" stop-color="#37b37f"/></linearGradient><linearGradient id="ge39"><stop offset="0.001" stop-color="#d1d124"/><stop offset="0.062" stop-color="#ded421"/><stop offset="0.180" stop-color="#f9d307"/><stop offset="0.236" stop-color="#f9d108"/><stop offset="0.272" stop-color="#e1d41f"/><stop offset="0.302" stop-color="#78c13a"/><stop offset="0.330" stop-color="#45b744"/><stop offset="0.415" stop-color="#3db545"/><stop offset="0.591" stop-color="#3cb54e"/><stop offset="0.680" stop-color="#38b46e"/><stop offset="0.749" stop-color="#36b2a6"/><stop offset="0.802" stop-color="#36b29f"/><stop offset="0.846" stop-color="#37b383"/><stop offset="0.874" stop-color="#38b463"/><stop offset="0.999" stop-color="#38b468"/></linearGradient><linearGradient id="ge40"><stop offset="0.001" stop-color="#c4cf28"/><stop offset="0.073" stop-color="#d3d224"/><stop offset="0.131" stop-color="#ebd415"/><stop offset="0.246" stop-color="#e5d41b"/><stop offset="0.259" stop-color="#dbd322"/><stop offset="0.300" stop-color="#6bbe3d"/><stop offset="0.333" stop-color="#41b644"/><stop offset="0.583" stop-color="#3cb54c"/><stop offset="0.657" stop-color="#38b46e"/><stop offset="0.754" stop-color="#36b3b2"/><stop offset="0.807" stop-color="#36b2a4"/><stop offset="0.843" stop-color="#37b382"/><stop offset="0.864" stop-color="#38b462"/><stop offset="0.989" stop-color="#39b45d"/><stop offset="0.999" stop-color="#39b45d"/></linearGradient><linearGradient id="ge41"><stop offset="0.001" stop-color="#b8cd2c"/><stop offset="0.083" stop-color="#c6cf28"/><stop offset="0.136" stop-color="#e3d41d"/><stop offset="0.188" stop-color="#d6d223"/><stop offset="0.239" stop-color="#bece2a"/><stop offset="0.274" stop-color="#85c338"/><stop offset="0.307" stop-color="#50b942"/><stop offset="0.351" stop-color="#3db545"/><stop offset="0.580" stop-color="#3cb54c"/><stop offset="0.636" stop-color="#38b46b"/><stop offset="0.672" stop-color="#37b38e"/><stop offset="0.767" stop-color="#36b4be"/><stop offset="0.823" stop-color="#36b29e"/><stop offset="0.851" stop-color="#38b46c"/><stop offset="0.881" stop-color="#3ab456"/><stop offset="0.999" stop-color="#3ab456"/></linearGradient><linearGradient id="ge42"><stop offset="0.001" stop-color="#a8ca30"/><stop offset="0.088" stop-color="#b2cc2e"/><stop offset="0.149" stop-color="#cad027"/><stop offset="0.223" stop-color="#94c635"/><stop offset="0.310" stop-color="#43b644"/><stop offset="0.578" stop-color="#3cb54c"/><stop offset="0.626" stop-color="#38b46d"/><stop offset="0.662" stop-color="#36b29f"/><stop offset="0.772" stop-color="#35b5c8"/><stop offset="0.825" stop-color="#36b2a0"/><stop offset="0.858" stop-color="#39b45f"/><stop offset="0.907" stop-color="#3bb550"/><stop offset="0.999" stop-color="#3bb550"/></linearGradient><linearGradient id="ge43"><stop offset="0.001" stop-color="#92c636"/><stop offset="0.088" stop-color="#95c735"/><stop offset="0.149" stop-color="#a9ca30"/><stop offset="0.231" stop-color="#6dbf3c"/><stop offset="0.307" stop-color="#3db545"/><stop offset="0.573" stop-color="#3cb54d"/><stop offset="0.616" stop-color="#38b46a"/><stop offset="0.652" stop-color="#36b3ae"/><stop offset="0.769" stop-color="#35b6d4"/><stop offset="0.823" stop-color="#36b2aa"/><stop offset="0.848" stop-color="#37b375"/><stop offset="0.861" stop-color="#39b45e"/><stop offset="0.920" stop-color="#3bb54f"/><stop offset="0.999" stop-color="#3cb54c"/></linearGradient><linearGradient id="ge44"><stop offset="0.001" stop-color="#77c13b"/><stop offset="0.080" stop-color="#72c03b"/><stop offset="0.149" stop-color="#8dc537"/><stop offset="0.290" stop-color="#3db545"/><stop offset="0.568" stop-color="#3cb54e"/><stop offset="0.608" stop-color="#38b46b"/><stop offset="0.644" stop-color="#36b4bc"/><stop offset="0.672" stop-color="#35b6d3"/><stop offset="0.772" stop-color="#35b7df"/><stop offset="0.830" stop-color="#36b2a8"/><stop offset="0.861" stop-color="#38b462"/><stop offset="0.948" stop-color="#3cb54c"/><stop offset="0.999" stop-color="#3cb54b"/></linearGradient><linearGradient id="ge45"><stop offset="0.001" stop-color="#59bb40"/><stop offset="0.073" stop-color="#4eb842"/><stop offset="0.152" stop-color="#71bf3c"/><stop offset="0.295" stop-color="#3db547"/><stop offset="0.562" stop-color="#3bb54e"/><stop offset="0.601" stop-color="#38b468"/><stop offset="0.634" stop-color="#36b4c0"/><stop offset="0.659" stop-color="#35b7e4"/><stop offset="0.787" stop-color="#35b8df"/><stop offset="0.838" stop-color="#36b2a5"/><stop offset="0.869" stop-color="#38b462"/><stop offset="0.981" stop-color="#3cb54b"/><stop offset="0.999" stop-color="#3cb54b"/></linearGradient><linearGradient id="ge46"><stop offset="0.001" stop-color="#3db547"/><stop offset="0.119" stop-color="#43b644"/><stop offset="0.159" stop-color="#56ba41"/><stop offset="0.305" stop-color="#3cb549"/><stop offset="0.473" stop-color="#3cb54c"/><stop offset="0.562" stop-color="#3bb551"/><stop offset="0.596" stop-color="#38b46a"/><stop offset="0.629" stop-color="#35b5cb"/><stop offset="0.644" stop-color="#35b6e5"/><stop offset="0.774" stop-color="#36b4e6"/><stop offset="0.802" stop-color="#35b7d9"/><stop offset="0.846" stop-color="#36b2a0"/><stop offset="0.879" stop-color="#38b463"/><stop offset="0.981" stop-color="#3cb54c"/><stop offset="0.999" stop-color="#3cb54c"/></linearGradient><linearGradient id="ge47"><stop offset="0.001" stop-color="#3bb552"/><stop offset="0.111" stop-color="#3bb550"/><stop offset="0.208" stop-color="#3eb545"/><stop offset="0.438" stop-color="#3ab458"/><stop offset="0.550" stop-color="#3bb54f"/><stop offset="0.591" stop-color="#38b469"/><stop offset="0.626" stop-color="#35b7d6"/><stop offset="0.639" stop-color="#36b4e5"/><stop offset="0.693" stop-color="#3ba7e5"/><stop offset="0.800" stop-color="#35b8e2"/><stop offset="0.851" stop-color="#36b2a0"/><stop offset="0.889" stop-color="#38b463"/><stop offset="0.978" stop-color="#3cb54d"/><stop offset="0.999" stop-color="#3cb54d"/></linearGradient><linearGradient id="ge48"><stop offset="0.001" stop-color="#39b461"/><stop offset="0.078" stop-color="#38b467"/><stop offset="0.180" stop-color="#3db548"/><stop offset="0.300" stop-color="#3bb552"/><stop offset="0.407" stop-color="#38b467"/><stop offset="0.550" stop-color="#3bb552"/><stop offset="0.588" stop-color="#38b469"/><stop offset="0.626" stop-color="#35b7df"/><stop offset="0.659" stop-color="#3ba5e4"/><stop offset="0.733" stop-color="#39abe7"/><stop offset="0.802" stop-color="#35b7de"/><stop offset="0.856" stop-color="#36b298"/><stop offset="0.894" stop-color="#38b462"/><stop offset="0.983" stop-color="#3bb550"/><stop offset="0.999" stop-color="#3bb550"/></linearGradient><linearGradient id="ge49"><stop offset="0.001" stop-color="#37b381"/><stop offset="0.062" stop-color="#37b395"/><stop offset="0.103" stop-color="#37b37f"/><stop offset="0.126" stop-color="#39b45e"/><stop offset="0.180" stop-color="#3cb54a"/><stop offset="0.287" stop-color="#3bb550"/><stop offset="0.335" stop-color="#38b46e"/><stop offset="0.379" stop-color="#37b386"/><stop offset="0.460" stop-color="#37b37d"/><stop offset="0.499" stop-color="#3ab459"/><stop offset="0.552" stop-color="#3bb551"/><stop offset="0.591" stop-color="#38b469"/><stop offset="0.626" stop-color="#35b6d4"/><stop offset="0.639" stop-color="#36b5e5"/><stop offset="0.698" stop-color="#38aee8"/><stop offset="0.779" stop-color="#35b7dd"/><stop offset="0.846" stop-color="#36b29a"/><stop offset="0.886" stop-color="#38b462"/><stop offset="0.994" stop-color="#3bb552"/><stop offset="0.999" stop-color="#3bb552"/></linearGradient><linearGradient id="ge50"><stop offset="0.001" stop-color="#37b37e"/><stop offset="0.062" stop-color="#37b391"/><stop offset="0.106" stop-color="#37b379"/><stop offset="0.129" stop-color="#39b45c"/><stop offset="0.190" stop-color="#3cb548"/><stop offset="0.287" stop-color="#3cb54d"/><stop offset="0.386" stop-color="#38b473"/><stop offset="0.463" stop-color="#38b46a"/><stop offset="0.514" stop-color="#41b644"/><stop offset="0.537" stop-color="#4ab843"/><stop offset="0.568" stop-color="#3cb54d"/><stop offset="0.603" stop-color="#38b469"/><stop offset="0.634" stop-color="#36b3b4"/><stop offset="0.665" stop-color="#35b7d5"/><stop offset="0.736" stop-color="#36b4bd"/><stop offset="0.833" stop-color="#37b37d"/><stop offset="0.866" stop-color="#39b461"/><stop offset="0.999" stop-color="#3bb550"/></linearGradient><linearGradient id="ge51"><stop offset="0.001" stop-color="#39b45f"/><stop offset="0.106" stop-color="#39b45e"/><stop offset="0.198" stop-color="#44b644"/><stop offset="0.256" stop-color="#5bbb40"/><stop offset="0.302" stop-color="#3db548"/><stop offset="0.409" stop-color="#3ab455"/><stop offset="0.478" stop-color="#3cb54c"/><stop offset="0.486" stop-color="#3db545"/><stop offset="0.509" stop-color="#9bc834"/><stop offset="0.524" stop-color="#accb2f"/><stop offset="0.550" stop-color="#90c636"/><stop offset="0.583" stop-color="#3db546"/><stop offset="0.667" stop-color="#37b37b"/><stop offset="0.751" stop-color="#38b461"/><stop offset="0.999" stop-color="#3cb54b"/></linearGradient><linearGradient id="ge52"><stop offset="0.001" stop-color="#3bb552"/><stop offset="0.124" stop-color="#3cb54b"/><stop offset="0.159" stop-color="#44b644"/><stop offset="0.239" stop-color="#87c438"/><stop offset="0.287" stop-color="#82c339"/><stop offset="0.353" stop-color="#69be3d"/><stop offset="0.466" stop-color="#6ebf3c"/><stop offset="0.481" stop-color="#91c636"/><stop offset="0.501" stop-color="#e1d41f"/><stop offset="0.532" stop-color="#e7d419"/><stop offset="0.550" stop-color="#d7d223"/><stop offset="0.606" stop-color="#44b644"/><stop offset="0.644" stop-color="#3bb550"/><stop offset="0.999" stop-color="#3db547"/></linearGradient><linearGradient id="ge53"><stop offset="0.001" stop-color="#3db546"/><stop offset="0.088" stop-color="#45b744"/><stop offset="0.175" stop-color="#7cc23a"/><stop offset="0.226" stop-color="#c1cf29"/><stop offset="0.381" stop-color="#e1d41f"/><stop offset="0.481" stop-color="#e7d419"/><stop offset="0.519" stop-color="#f9d307"/><stop offset="0.565" stop-color="#dad322"/><stop offset="0.608" stop-color="#7fc239"/><stop offset="0.649" stop-color="#54ba41"/><stop offset="0.746" stop-color="#42b644"/><stop offset="0.999" stop-color="#3db545"/></linearGradient><linearGradient id="ge54"><stop offset="0.001" stop-color="#65bd3e"/><stop offset="0.159" stop-color="#9fc933"/><stop offset="0.190" stop-color="#c9d027"/><stop offset="0.205" stop-color="#e3d41d"/><stop offset="0.328" stop-color="#f8cc0a"/><stop offset="0.496" stop-color="#f8c10e"/><stop offset="0.527" stop-color="#f8cb0a"/><stop offset="0.562" stop-color="#e8d418"/><stop offset="0.588" stop-color="#d2d224"/><stop offset="0.642" stop-color="#96c735"/><stop offset="0.733" stop-color="#5ebc3f"/><stop offset="0.777" stop-color="#3db545"/><stop offset="0.999" stop-color="#3db545"/></linearGradient><linearGradient id="ge55"><stop offset="0.001" stop-color="#90c636"/><stop offset="0.091" stop-color="#c0ce2a"/><stop offset="0.157" stop-color="#ced125"/><stop offset="0.216" stop-color="#f9d008"/><stop offset="0.277" stop-color="#f8c20e"/><stop offset="0.351" stop-color="#f38b1b"/><stop offset="0.455" stop-color="#f38b1b"/><stop offset="0.511" stop-color="#f6b015"/><stop offset="0.550" stop-color="#f5d30b"/><stop offset="0.631" stop-color="#d6d223"/><stop offset="0.708" stop-color="#91c636"/><stop offset="0.769" stop-color="#41b644"/><stop offset="0.999" stop-color="#3db545"/></linearGradient><linearGradient id="ge56"><stop offset="0.001" stop-color="#bbcd2b"/><stop offset="0.047" stop-color="#e2d41e"/><stop offset="0.175" stop-color="#ecd414"/><stop offset="0.200" stop-color="#f8ca0b"/><stop offset="0.228" stop-color="#f6b314"/><stop offset="0.267" stop-color="#f6af15"/><stop offset="0.333" stop-color="#ed5321"/><stop offset="0.404" stop-color="#e94323"/><stop offset="0.466" stop-color="#ec4d22"/><stop offset="0.501" stop-color="#f2801d"/><stop offset="0.532" stop-color="#f7bc10"/><stop offset="0.560" stop-color="#f7d309"/><stop offset="0.677" stop-color="#dad322"/><stop offset="0.736" stop-color="#77c13b"/><stop offset="0.769" stop-color="#43b644"/><stop offset="0.999" stop-color="#3db545"/></linearGradient><linearGradient id="ge57"><stop offset="0.001" stop-color="#e2d41e"/><stop offset="0.093" stop-color="#f2d30e"/><stop offset="0.167" stop-color="#f1d30f"/><stop offset="0.190" stop-color="#f8ca0b"/><stop offset="0.228" stop-color="#f59c19"/><stop offset="0.261" stop-color="#f4961a"/><stop offset="0.320" stop-color="#e53a25"/><stop offset="0.356" stop-color="#dd292a"/><stop offset="0.460" stop-color="#dd292a"/><stop offset="0.483" stop-color="#e53b25"/><stop offset="0.514" stop-color="#f2801d"/><stop offset="0.537" stop-color="#f7b812"/><stop offset="0.570" stop-color="#f9d208"/><stop offset="0.690" stop-color="#e0d420"/><stop offset="0.767" stop-color="#46b743"/><stop offset="0.823" stop-color="#3db545"/><stop offset="0.999" stop-color="#3db545"/></linearGradient><linearGradient id="ge58"><stop offset="0.001" stop-color="#eed312"/><stop offset="0.057" stop-color="#f8cc0a"/><stop offset="0.165" stop-color="#f5d30b"/><stop offset="0.193" stop-color="#f7bf0f"/><stop offset="0.228" stop-color="#f38d1b"/><stop offset="0.261" stop-color="#f27f1d"/><stop offset="0.312" stop-color="#df2c27"/><stop offset="0.430" stop-color="#df3444"/><stop offset="0.489" stop-color="#de2a28"/><stop offset="0.514" stop-color="#ef6420"/><stop offset="0.542" stop-color="#f7b413"/><stop offset="0.580" stop-color="#f9d008"/><stop offset="0.690" stop-color="#e5d41b"/><stop offset="0.705" stop-color="#d4d223"/><stop offset="0.764" stop-color="#4bb842"/><stop offset="0.795" stop-color="#3db545"/><stop offset="0.999" stop-color="#3db545"/></linearGradient><linearGradient id="ge59"><stop offset="0.001" stop-color="#f9d108"/><stop offset="0.075" stop-color="#f7b911"/><stop offset="0.129" stop-color="#f6d30a"/><stop offset="0.175" stop-color="#f8cc0a"/><stop offset="0.208" stop-color="#f5a018"/><stop offset="0.233" stop-color="#f3821d"/><stop offset="0.264" stop-color="#f0691f"/><stop offset="0.302" stop-color="#dd2828"/><stop offset="0.422" stop-color="#e24d5e"/><stop offset="0.460" stop-color="#e03e4f"/><stop offset="0.499" stop-color="#dd2828"/><stop offset="0.522" stop-color="#ef6220"/><stop offset="0.547" stop-color="#f6b115"/><stop offset="0.591" stop-color="#f9d008"/><stop offset="0.698" stop-color="#e4d41c"/><stop offset="0.710" stop-color="#d5d223"/><stop offset="0.764" stop-color="#4db842"/><stop offset="0.792" stop-color="#3db545"/><stop offset="0.999" stop-color="#3db545"/></linearGradient><linearGradient id="ge60"><stop offset="0.001" stop-color="#f7bf0f"/><stop offset="0.070" stop-color="#f5a318"/><stop offset="0.134" stop-color="#f8d308"/><stop offset="0.170" stop-color="#f8ca0b"/><stop offset="0.205" stop-color="#f59e18"/><stop offset="0.236" stop-color="#f2771e"/><stop offset="0.264" stop-color="#ee5821"/><stop offset="0.295" stop-color="#dd292b"/><stop offset="0.371" stop-color="#e24b5d"/><stop offset="0.427" stop-color="#e9797e"/><stop offset="0.450" stop-color="#e76b75"/><stop offset="0.489" stop-color="#de303f"/><stop offset="0.509" stop-color="#de2a28"/><stop offset="0.529" stop-color="#f06620"/><stop offset="0.552" stop-color="#f6af15"/><stop offset="0.596" stop-color="#f9d008"/><stop offset="0.700" stop-color="#e6d41a"/><stop offset="0.716" stop-color="#d5d223"/><stop offset="0.764" stop-color="#4fb942"/><stop offset="0.790" stop-color="#3db545"/><stop offset="0.999" stop-color="#3db545"/></linearGradient><linearGradient id="ge61"><stop offset="0.001" stop-color="#f6ad16"/><stop offset="0.065" stop-color="#f3881c"/><stop offset="0.088" stop-color="#f59f18"/><stop offset="0.124" stop-color="#f8c80b"/><stop offset="0.159" stop-color="#f8cb0a"/><stop offset="0.200" stop-color="#f5a118"/><stop offset="0.236" stop-color="#f16f1f"/><stop offset="0.274" stop-color="#e53a25"/><stop offset="0.287" stop-color="#dd292a"/><stop offset="0.328" stop-color="#e03d4e"/><stop offset="0.379" stop-color="#e66973"/><stop offset="0.430" stop-color="#ee9187"/><stop offset="0.455" stop-color="#e97b7e"/><stop offset="0.491" stop-color="#df3545"/><stop offset="0.514" stop-color="#dd2928"/><stop offset="0.537" stop-color="#f1721f"/><stop offset="0.557" stop-color="#f6af16"/><stop offset="0.598" stop-color="#f9cf09"/><stop offset="0.700" stop-color="#e8d418"/><stop offset="0.718" stop-color="#d9d322"/><stop offset="0.764" stop-color="#50b942"/><stop offset="0.787" stop-color="#3db545"/><stop offset="0.999" stop-color="#3db545"/></linearGradient><linearGradient id="ge62"><stop offset="0.001" stop-color="#f4901b"/><stop offset="0.062" stop-color="#f1711f"/><stop offset="0.085" stop-color="#f3861c"/><stop offset="0.114" stop-color="#f7b613"/><stop offset="0.152" stop-color="#f8c70c"/><stop offset="0.193" stop-color="#f6a817"/><stop offset="0.236" stop-color="#f06a1f"/><stop offset="0.284" stop-color="#dd292b"/><stop offset="0.328" stop-color="#e03e4f"/><stop offset="0.376" stop-color="#e66873"/><stop offset="0.427" stop-color="#ee9388"/><stop offset="0.453" stop-color="#ea8181"/><stop offset="0.481" stop-color="#e14758"/><stop offset="0.504" stop-color="#de2d37"/><stop offset="0.517" stop-color="#de2a28"/><stop offset="0.550" stop-color="#f4911a"/><stop offset="0.570" stop-color="#f7b912"/><stop offset="0.616" stop-color="#f9d108"/><stop offset="0.708" stop-color="#e7d419"/><stop offset="0.723" stop-color="#d6d223"/><stop offset="0.764" stop-color="#52b941"/><stop offset="0.784" stop-color="#3eb545"/><stop offset="0.999" stop-color="#3db545"/></linearGradient><linearGradient id="ge63"><stop offset="0.001" stop-color="#f1731f"/><stop offset="0.060" stop-color="#ee5c20"/><stop offset="0.085" stop-color="#f1721f"/><stop offset="0.124" stop-color="#f6b214"/><stop offset="0.159" stop-color="#f7bb11"/><stop offset="0.193" stop-color="#f5a118"/><stop offset="0.241" stop-color="#ef6020"/><stop offset="0.282" stop-color="#dd292a"/><stop offset="0.338" stop-color="#e04051"/><stop offset="0.376" stop-color="#e55e6b"/><stop offset="0.417" stop-color="#eb8281"/><stop offset="0.445" stop-color="#ea7e80"/><stop offset="0.481" stop-color="#e14254"/><stop offset="0.504" stop-color="#de2c35"/><stop offset="0.517" stop-color="#de2b28"/><stop offset="0.552" stop-color="#f48f1b"/><stop offset="0.573" stop-color="#f7b613"/><stop offset="0.621" stop-color="#f9d008"/><stop offset="0.710" stop-color="#e8d418"/><stop offset="0.726" stop-color="#d9d322"/><stop offset="0.764" stop-color="#53b941"/><stop offset="0.784" stop-color="#3eb545"/><stop offset="0.999" stop-color="#3db545"/></linearGradient><linearGradient id="ge64"><stop offset="0.001" stop-color="#ee5921"/><stop offset="0.057" stop-color="#eb4922"/><stop offset="0.085" stop-color="#ef6020"/><stop offset="0.134" stop-color="#f6ac16"/><stop offset="0.172" stop-color="#f6af16"/><stop offset="0.269" stop-color="#e43825"/><stop offset="0.282" stop-color="#dd292a"/><stop offset="0.356" stop-color="#e14253"/><stop offset="0.425" stop-color="#e8727a"/><stop offset="0.453" stop-color="#e5616d"/><stop offset="0.496" stop-color="#de2e3a"/><stop offset="0.517" stop-color="#df2d27"/><stop offset="0.560" stop-color="#f49819"/><stop offset="0.580" stop-color="#f7ba11"/><stop offset="0.644" stop-color="#f9d307"/><stop offset="0.721" stop-color="#e4d41c"/><stop offset="0.731" stop-color="#d2d224"/><stop offset="0.764" stop-color="#55ba41"/><stop offset="0.784" stop-color="#3eb545"/><stop offset="0.999" stop-color="#3db545"/></linearGradient><linearGradient id="ge65"><stop offset="0.001" stop-color="#e94423"/><stop offset="0.062" stop-color="#e63d24"/><stop offset="0.091" stop-color="#ee5821"/><stop offset="0.142" stop-color="#f5a218"/><stop offset="0.175" stop-color="#f5a418"/><stop offset="0.269" stop-color="#e33725"/><stop offset="0.284" stop-color="#dd292c"/><stop offset="0.361" stop-color="#e03e4f"/><stop offset="0.427" stop-color="#e55e6b"/><stop offset="0.476" stop-color="#e03b4c"/><stop offset="0.511" stop-color="#dd2829"/><stop offset="0.542" stop-color="#ef6520"/><stop offset="0.578" stop-color="#f6b314"/><stop offset="0.634" stop-color="#f9d108"/><stop offset="0.716" stop-color="#e9d417"/><stop offset="0.731" stop-color="#dad322"/><stop offset="0.764" stop-color="#57ba40"/><stop offset="0.782" stop-color="#3fb545"/><stop offset="0.999" stop-color="#3db545"/></linearGradient><linearGradient id="ge66"><stop offset="0.001" stop-color="#e43825"/><stop offset="0.062" stop-color="#e33526"/><stop offset="0.096" stop-color="#ed5421"/><stop offset="0.147" stop-color="#f49919"/><stop offset="0.182" stop-color="#f49819"/><stop offset="0.269" stop-color="#e33626"/><stop offset="0.284" stop-color="#dd292c"/><stop offset="0.366" stop-color="#e03b4c"/><stop offset="0.430" stop-color="#e35060"/><stop offset="0.486" stop-color="#de2f3d"/><stop offset="0.514" stop-color="#df2c27"/><stop offset="0.552" stop-color="#f2781e"/><stop offset="0.580" stop-color="#f6b314"/><stop offset="0.636" stop-color="#f9d008"/><stop offset="0.718" stop-color="#ead416"/><stop offset="0.731" stop-color="#e0d420"/><stop offset="0.764" stop-color="#58ba40"/><stop offset="0.782" stop-color="#3fb545"/><stop offset="0.999" stop-color="#3db545"/></linearGradient><linearGradient id="ge67"><stop offset="0.001" stop-color="#e23326"/><stop offset="0.060" stop-color="#e13027"/><stop offset="0.098" stop-color="#ed5221"/><stop offset="0.149" stop-color="#f4941a"/><stop offset="0.185" stop-color="#f4921a"/><stop offset="0.269" stop-color="#e33526"/><stop offset="0.284" stop-color="#dd292c"/><stop offset="0.366" stop-color="#df394a"/><stop offset="0.427" stop-color="#e24a5c"/><stop offset="0.478" stop-color="#de3243"/><stop offset="0.514" stop-color="#df2d27"/><stop offset="0.552" stop-color="#f2761e"/><stop offset="0.583" stop-color="#f7b413"/><stop offset="0.639" stop-color="#f9d008"/><stop offset="0.718" stop-color="#ead416"/><stop offset="0.733" stop-color="#d9d322"/><stop offset="0.764" stop-color="#58ba40"/><stop offset="0.782" stop-color="#3fb545"/><stop offset="0.999" stop-color="#3db545"/></linearGradient><linearGradient id="ge68"><stop offset="0.001" stop-color="#e13226"/><stop offset="0.060" stop-color="#e02f27"/><stop offset="0.101" stop-color="#ed5321"/><stop offset="0.152" stop-color="#f4911a"/><stop offset="0.188" stop-color="#f38c1b"/><stop offset="0.269" stop-color="#e33526"/><stop offset="0.284" stop-color="#dd292c"/><stop offset="0.369" stop-color="#e03a4b"/><stop offset="0.430" stop-color="#e2495b"/><stop offset="0.486" stop-color="#de2f3c"/><stop offset="0.514" stop-color="#df2d27"/><stop offset="0.552" stop-color="#f1761e"/><stop offset="0.583" stop-color="#f6b414"/><stop offset="0.639" stop-color="#f9d008"/><stop offset="0.718" stop-color="#ead416"/><stop offset="0.733" stop-color="#d9d322"/><stop offset="0.764" stop-color="#58ba40"/><stop offset="0.782" stop-color="#3fb545"/><stop offset="0.999" stop-color="#3db545"/></linearGradient><linearGradient id="ge69"><stop offset="0.001" stop-color="#e13226"/><stop offset="0.060" stop-color="#e02f27"/><stop offset="0.103" stop-color="#ed5421"/><stop offset="0.152" stop-color="#f38d1b"/><stop offset="0.190" stop-color="#f3881c"/><stop offset="0.269" stop-color="#e33526"/><stop offset="0.284" stop-color="#dd292c"/><stop offset="0.369" stop-color="#e03a4b"/><stop offset="0.430" stop-color="#e2495b"/><stop offset="0.486" stop-color="#de2f3c"/><stop offset="0.514" stop-color="#df2d27"/><stop offset="0.552" stop-color="#f1751e"/><stop offset="0.583" stop-color="#f6b414"/><stop offset="0.639" stop-color="#f9d008"/><stop offset="0.718" stop-color="#ead416"/><stop offset="0.733" stop-color="#d9d322"/><stop offset="0.764" stop-color="#58ba40"/><stop offset="0.782" stop-color="#3fb545"/><stop offset="0.999" stop-color="#3db545"/></linearGradient><linearGradient id="ge70"><stop offset="0.001" stop-color="#e13226"/><stop offset="0.060" stop-color="#e02f27"/><stop offset="0.106" stop-color="#ed5521"/><stop offset="0.154" stop-color="#f38b1b"/><stop offset="0.193" stop-color="#f3831d"/><stop offset="0.269" stop-color="#e33526"/><stop offset="0.284" stop-color="#dd292c"/><stop offset="0.369" stop-color="#e03a4b"/><stop offset="0.430" stop-color="#e2495b"/><stop offset="0.486" stop-color="#de2f3c"/><stop offset="0.514" stop-color="#df2d27"/><stop offset="0.552" stop-color="#f1751e"/><stop offset="0.583" stop-color="#f6b414"/><stop offset="0.639" stop-color="#f9d008"/><stop offset="0.718" stop-color="#ead416"/><stop offset="0.733" stop-color="#d9d322"/><stop offset="0.764" stop-color="#58ba40"/><stop offset="0.782" stop-color="#3fb545"/><stop offset="0.999" stop-color="#3db545"/></linearGradient><linearGradient id="ge71"><stop offset="0.001" stop-color="#e13226"/><stop offset="0.060" stop-color="#e02f27"/><stop offset="0.106" stop-color="#ed5421"/><stop offset="0.154" stop-color="#f38a1c"/><stop offset="0.193" stop-color="#f3821d"/><stop offset="0.269" stop-color="#e33526"/><stop offset="0.284" stop-color="#dd292c"/><stop offset="0.369" stop-color="#e03a4b"/><stop offset="0.430" stop-color="#e2495b"/><stop offset="0.486" stop-color="#de2f3c"/><stop offset="0.514" stop-color="#df2d27"/><stop offset="0.552" stop-color="#f1751e"/><stop offset="0.583" stop-color="#f6b414"/><stop offset="0.639" stop-color="#f9d008"/><stop offset="0.718" stop-color="#ead416"/><stop offset="0.733" stop-color="#d9d322"/><stop offset="0.764" stop-color="#58ba40"/><stop offset="0.782" stop-color="#3fb545"/><stop offset="0.999" stop-color="#3db545"/></linearGradient><clipPath id="clipge"><rect x="63.8" y="650.8" width="391.0" height="141.70000000000005"/></clipPath><linearGradient id="gecb" x1="0" y1="0" x2="0" y2="1"><stop offset="0.000" stop-color="#f6c597"/><stop offset="0.017" stop-color="#f4bd95"/><stop offset="0.033" stop-color="#f3b392"/><stop offset="0.050" stop-color="#f2a990"/><stop offset="0.067" stop-color="#ee9889"/><stop offset="0.083" stop-color="#eb8482"/><stop offset="0.100" stop-color="#e77078"/><stop offset="0.117" stop-color="#e45867"/><stop offset="0.133" stop-color="#e14557"/><stop offset="0.150" stop-color="#df3a4b"/><stop offset="0.167" stop-color="#dd2f3f"/><stop offset="0.183" stop-color="#dd2c36"/><stop offset="0.200" stop-color="#dd2a2e"/><stop offset="0.217" stop-color="#dd2a27"/><stop offset="0.233" stop-color="#e43924"/><stop offset="0.250" stop-color="#eb4822"/><stop offset="0.267" stop-color="#ee5d20"/><stop offset="0.283" stop-color="#f1731e"/><stop offset="0.300" stop-color="#f3891b"/><stop offset="0.317" stop-color="#f5a117"/><stop offset="0.333" stop-color="#f6b413"/><stop offset="0.350" stop-color="#f7c20d"/><stop offset="0.367" stop-color="#f8d007"/><stop offset="0.383" stop-color="#f0d30f"/><stop offset="0.400" stop-color="#e7d318"/><stop offset="0.417" stop-color="#d6d222"/><stop offset="0.433" stop-color="#b2cb2d"/><stop offset="0.450" stop-color="#8dc536"/><stop offset="0.467" stop-color="#69bd3d"/><stop offset="0.483" stop-color="#44b643"/><stop offset="0.500" stop-color="#3bb44b"/><stop offset="0.517" stop-color="#3ab453"/><stop offset="0.533" stop-color="#39b45c"/><stop offset="0.550" stop-color="#37b366"/><stop offset="0.567" stop-color="#37b384"/><stop offset="0.583" stop-color="#36b2a3"/><stop offset="0.600" stop-color="#35b4be"/><stop offset="0.617" stop-color="#35b6d9"/><stop offset="0.633" stop-color="#36b3e5"/><stop offset="0.650" stop-color="#38abe7"/><stop offset="0.667" stop-color="#3f9adf"/><stop offset="0.683" stop-color="#4589d8"/><stop offset="0.700" stop-color="#4980d3"/><stop offset="0.717" stop-color="#4e77cd"/><stop offset="0.733" stop-color="#526fc8"/><stop offset="0.750" stop-color="#5667c3"/><stop offset="0.767" stop-color="#5963c1"/><stop offset="0.783" stop-color="#5b5fbf"/><stop offset="0.800" stop-color="#5e5bbc"/><stop offset="0.817" stop-color="#6157ba"/><stop offset="0.833" stop-color="#6354b8"/><stop offset="0.850" stop-color="#6854b9"/><stop offset="0.867" stop-color="#6d55ba"/><stop offset="0.883" stop-color="#7256bb"/><stop offset="0.900" stop-color="#7757bc"/><stop offset="0.917" stop-color="#7c57bd"/><stop offset="0.933" stop-color="#835cbf"/><stop offset="0.950" stop-color="#8b61c1"/><stop offset="0.967" stop-color="#9366c4"/><stop offset="0.983" stop-color="#9a6cc6"/><stop offset="1.000" stop-color="#a070c8"/></linearGradient></defs>
<rect width="520" height="838" fill="#fff"/>
<text x="13.2" y="21.4" font-size="24" font-weight="bold" fill="#111">a</text><line x1="62.7" y1="22.4" x2="62.7" y2="112.1" stroke="#231f20" stroke-width="1.3"/><line x1="59.2" y1="22.400000000000006" x2="62.7" y2="22.400000000000006" stroke="#231f20" stroke-width="1.1"/><text x="53.7" y="26.000000000000007" font-size="12" text-anchor="end" textLength="13.5" lengthAdjust="spacingAndGlyphs" fill="#333">4.0</text><line x1="59.2" y1="44.800000000000004" x2="62.7" y2="44.800000000000004" stroke="#231f20" stroke-width="1.1"/><text x="53.7" y="48.400000000000006" font-size="12" text-anchor="end" textLength="13.5" lengthAdjust="spacingAndGlyphs" fill="#333">2.0</text><line x1="59.2" y1="67.2" x2="62.7" y2="67.2" stroke="#231f20" stroke-width="1.1"/><text x="53.7" y="70.8" font-size="12" text-anchor="end" textLength="13.5" lengthAdjust="spacingAndGlyphs" fill="#333">0.0</text><line x1="59.2" y1="89.6" x2="62.7" y2="89.6" stroke="#231f20" stroke-width="1.1"/><text x="53.7" y="93.19999999999999" font-size="12" text-anchor="end" textLength="17.1" lengthAdjust="spacingAndGlyphs" fill="#333">-2.0</text><line x1="59.2" y1="112.0" x2="62.7" y2="112.0" stroke="#231f20" stroke-width="1.1"/><text x="53.7" y="115.6" font-size="12" text-anchor="end" textLength="17.1" lengthAdjust="spacingAndGlyphs" fill="#333">-4.0</text><line x1="62.7" y1="112.1" x2="464.5" y2="112.1" stroke="#231f20" stroke-width="1.3"/><line x1="62.7" y1="109.3" x2="62.7" y2="114.39999999999999" stroke="#231f20" stroke-width="1.1"/><line x1="77.05" y1="112.1" x2="77.05" y2="114.6" stroke="#231f20" stroke-width="1.0"/><line x1="91.4" y1="112.1" x2="91.4" y2="114.6" stroke="#231f20" stroke-width="1.0"/><line x1="105.75" y1="112.1" x2="105.75" y2="114.6" stroke="#231f20" stroke-width="1.0"/><line x1="120.1" y1="112.1" x2="120.1" y2="114.6" stroke="#231f20" stroke-width="1.0"/><line x1="134.45" y1="109.3" x2="134.45" y2="114.39999999999999" stroke="#231f20" stroke-width="1.1"/><line x1="148.8" y1="112.1" x2="148.8" y2="114.6" stroke="#231f20" stroke-width="1.0"/><line x1="163.15" y1="112.1" x2="163.15" y2="114.6" stroke="#231f20" stroke-width="1.0"/><line x1="177.5" y1="112.1" x2="177.5" y2="114.6" stroke="#231f20" stroke-width="1.0"/><line x1="191.85000000000002" y1="112.1" x2="191.85000000000002" y2="114.6" stroke="#231f20" stroke-width="1.0"/><line x1="206.2" y1="109.3" x2="206.2" y2="114.39999999999999" stroke="#231f20" stroke-width="1.1"/><line x1="220.55" y1="112.1" x2="220.55" y2="114.6" stroke="#231f20" stroke-width="1.0"/><line x1="234.89999999999998" y1="112.1" x2="234.89999999999998" y2="114.6" stroke="#231f20" stroke-width="1.0"/><line x1="249.25" y1="112.1" x2="249.25" y2="114.6" stroke="#231f20" stroke-width="1.0"/><line x1="263.6" y1="112.1" x2="263.6" y2="114.6" stroke="#231f20" stroke-width="1.0"/><line x1="277.95" y1="109.3" x2="277.95" y2="114.39999999999999" stroke="#231f20" stroke-width="1.1"/><line x1="292.3" y1="112.1" x2="292.3" y2="114.6" stroke="#231f20" stroke-width="1.0"/><line x1="306.65" y1="112.1" x2="306.65" y2="114.6" stroke="#231f20" stroke-width="1.0"/><line x1="321.0" y1="112.1" x2="321.0" y2="114.6" stroke="#231f20" stroke-width="1.0"/><line x1="335.34999999999997" y1="112.1" x2="335.34999999999997" y2="114.6" stroke="#231f20" stroke-width="1.0"/><line x1="349.7" y1="109.3" x2="349.7" y2="114.39999999999999" stroke="#231f20" stroke-width="1.1"/><line x1="364.04999999999995" y1="112.1" x2="364.04999999999995" y2="114.6" stroke="#231f20" stroke-width="1.0"/><line x1="378.4" y1="112.1" x2="378.4" y2="114.6" stroke="#231f20" stroke-width="1.0"/><line x1="392.75" y1="112.1" x2="392.75" y2="114.6" stroke="#231f20" stroke-width="1.0"/><line x1="407.09999999999997" y1="112.1" x2="407.09999999999997" y2="114.6" stroke="#231f20" stroke-width="1.0"/><line x1="421.45" y1="109.3" x2="421.45" y2="114.39999999999999" stroke="#231f20" stroke-width="1.1"/><line x1="435.79999999999995" y1="112.1" x2="435.79999999999995" y2="114.6" stroke="#231f20" stroke-width="1.0"/><line x1="450.15" y1="112.1" x2="450.15" y2="114.6" stroke="#231f20" stroke-width="1.0"/><line x1="464.5" y1="112.1" x2="464.5" y2="114.6" stroke="#231f20" stroke-width="1.0"/><text x="62.7" y="128.3" font-size="12" text-anchor="middle" textLength="26.79" lengthAdjust="spacingAndGlyphs" fill="#333">31/05</text><text x="134.45" y="128.3" font-size="12" text-anchor="middle" textLength="26.79" lengthAdjust="spacingAndGlyphs" fill="#333">05/06</text><text x="206.2" y="128.3" font-size="12" text-anchor="middle" textLength="26.79" lengthAdjust="spacingAndGlyphs" fill="#333">10/06</text><text x="277.95" y="128.3" font-size="12" text-anchor="middle" textLength="26.79" lengthAdjust="spacingAndGlyphs" fill="#333">15/06</text><text x="349.7" y="128.3" font-size="12" text-anchor="middle" textLength="26.79" lengthAdjust="spacingAndGlyphs" fill="#333">20/06</text><text x="421.45" y="128.3" font-size="12" text-anchor="middle" textLength="26.79" lengthAdjust="spacingAndGlyphs" fill="#333">25/06</text><text x="29.8" y="67.5" font-size="11.7" text-anchor="middle" transform="rotate(-90 29.8 67.5)" fill="#333">Air temp. (°C)</text><text x="263.4" y="145.8" font-size="12.6" text-anchor="middle" textLength="92.8" lengthAdjust="spacingAndGlyphs" fill="#333">Time (day/month)</text><line x1="62.7" y1="67.2" x2="462.5" y2="67.2" stroke="#333" stroke-width="1.1" stroke-dasharray="2.1 2.1"/><polyline points="77.05,107.70 91.40,103.75 105.75,97.40 120.10,82.00 134.45,77.00 148.80,81.10 163.15,71.10 177.50,97.25 191.85,99.50 206.20,97.25 220.55,98.60 234.90,90.10 249.25,102.00 263.60,78.75 277.95,54.25 292.30,70.00 306.65,77.00 321.00,92.50 335.35,91.00 349.70,65.75 364.05,40.50 378.40,32.50 392.75,31.50 407.10,48.25 421.45,53.00 435.80,79.00 450.15,75.00 464.50,71.75" fill="none" stroke="#555" stroke-width="1.0" stroke-linejoin="round"/><line x1="392.2" y1="42.5" x2="392.2" y2="74.6" stroke="#F6D9A6" stroke-width="1.0"/><polygon points="392.20,36.60 388.50,43.00 395.90,43.00" fill="#F4B419"/><line x1="392.2" y1="104.2" x2="392.2" y2="111.6" stroke="#A9BCD3" stroke-width="1.0"/><text x="391.7" y="82.5" font-size="11.1" text-anchor="middle" textLength="46" lengthAdjust="spacingAndGlyphs" fill="#E2BC5C">Melt pond</text><text x="391.7" y="95.7" font-size="11.1" text-anchor="middle" textLength="44" lengthAdjust="spacingAndGlyphs" fill="#E2BC5C">formation</text><circle cx="77.05" cy="107.70" r="3.5" fill="#000"/><circle cx="91.40" cy="103.75" r="3.5" fill="#000"/><circle cx="105.75" cy="97.40" r="3.5" fill="#000"/><circle cx="120.10" cy="82.00" r="3.5" fill="#000"/><circle cx="134.45" cy="77.00" r="3.5" fill="#000"/><circle cx="148.80" cy="81.10" r="3.5" fill="#000"/><circle cx="163.15" cy="71.10" r="3.5" fill="#000"/><circle cx="177.50" cy="97.25" r="3.5" fill="#000"/><circle cx="191.85" cy="99.50" r="3.5" fill="#000"/><circle cx="206.20" cy="97.25" r="3.5" fill="#000"/><circle cx="220.55" cy="98.60" r="3.5" fill="#000"/><circle cx="234.90" cy="90.10" r="3.5" fill="#000"/><circle cx="249.25" cy="102.00" r="3.5" fill="#000"/><circle cx="263.60" cy="78.75" r="3.5" fill="#000"/><circle cx="277.95" cy="54.25" r="3.5" fill="#000"/><circle cx="292.30" cy="70.00" r="3.5" fill="#000"/><circle cx="306.65" cy="77.00" r="3.5" fill="#000"/><circle cx="321.00" cy="92.50" r="3.5" fill="#000"/><circle cx="335.35" cy="91.00" r="3.5" fill="#000"/><circle cx="349.70" cy="65.75" r="3.5" fill="#000"/><circle cx="364.05" cy="40.50" r="3.5" fill="#000"/><circle cx="378.40" cy="32.50" r="3.5" fill="#000"/><circle cx="392.75" cy="31.50" r="3.5" fill="#000"/><circle cx="407.10" cy="48.25" r="3.5" fill="#000"/><circle cx="421.45" cy="53.00" r="3.5" fill="#000"/><circle cx="435.80" cy="79.00" r="3.5" fill="#000"/><circle cx="450.15" cy="75.00" r="3.5" fill="#000"/><circle cx="464.50" cy="71.75" r="3.5" fill="#000"/><text x="12.5" y="151.1" font-size="24" font-weight="bold" fill="#111">b</text><line x1="55.2" y1="151.2" x2="55.2" y2="259.8" stroke="#231f20" stroke-width="1.3"/><line x1="52.2" y1="151.2" x2="55.2" y2="151.2" stroke="#231f20" stroke-width="1.1"/><text x="46.3" y="154.79999999999998" font-size="12" text-anchor="end" textLength="13.2" lengthAdjust="spacingAndGlyphs" fill="#4773AC">1.5</text><line x1="52.2" y1="187.4" x2="55.2" y2="187.4" stroke="#231f20" stroke-width="1.1"/><text x="46.3" y="191.0" font-size="12" text-anchor="end" textLength="13.2" lengthAdjust="spacingAndGlyphs" fill="#4773AC">1.0</text><line x1="52.2" y1="223.60000000000002" x2="55.2" y2="223.60000000000002" stroke="#231f20" stroke-width="1.1"/><text x="46.3" y="227.20000000000002" font-size="12" text-anchor="end" textLength="13.2" lengthAdjust="spacingAndGlyphs" fill="#4773AC">0.5</text><line x1="52.2" y1="259.8" x2="55.2" y2="259.8" stroke="#231f20" stroke-width="1.1"/><text x="46.3" y="263.40000000000003" font-size="12" text-anchor="end" textLength="13.2" lengthAdjust="spacingAndGlyphs" fill="#4773AC">0.0</text><text x="27.5" y="206.3" font-size="11.5" text-anchor="middle" transform="rotate(-90 27.5 206.3)" fill="#4773AC">Ice thickness (m)</text><line x1="464" y1="151.2" x2="464" y2="259.8" stroke="#231f20" stroke-width="1.3"/><line x1="464" y1="259.8" x2="467" y2="259.8" stroke="#231f20" stroke-width="1.1"/><text x="472.5" y="263.40000000000003" font-size="12" textLength="19.53" lengthAdjust="spacingAndGlyphs" fill="#333">0.00</text><line x1="464" y1="241.70000000000002" x2="467" y2="241.70000000000002" stroke="#231f20" stroke-width="1.1"/><text x="472.5" y="245.3" font-size="12" textLength="19.53" lengthAdjust="spacingAndGlyphs" fill="#333">0.05</text><line x1="464" y1="223.60000000000002" x2="467" y2="223.60000000000002" stroke="#231f20" stroke-width="1.1"/><text x="472.5" y="227.20000000000002" font-size="12" textLength="19.53" lengthAdjust="spacingAndGlyphs" fill="#333">0.10</text><line x1="464" y1="205.5" x2="467" y2="205.5" stroke="#231f20" stroke-width="1.1"/><text x="472.5" y="209.1" font-size="12" textLength="19.53" lengthAdjust="spacingAndGlyphs" fill="#333">0.15</text><line x1="464" y1="187.4" x2="467" y2="187.4" stroke="#231f20" stroke-width="1.1"/><text x="472.5" y="191.0" font-size="12" textLength="19.53" lengthAdjust="spacingAndGlyphs" fill="#333">0.20</text><line x1="464" y1="169.3" x2="467" y2="169.3" stroke="#231f20" stroke-width="1.1"/><text x="472.5" y="172.9" font-size="12" textLength="19.53" lengthAdjust="spacingAndGlyphs" fill="#333">0.25</text><line x1="464" y1="151.2" x2="467" y2="151.2" stroke="#231f20" stroke-width="1.1"/><text x="472.5" y="154.79999999999998" font-size="12" textLength="19.53" lengthAdjust="spacingAndGlyphs" fill="#333">0.30</text><text x="504.5" y="206" font-size="11.5" text-anchor="middle" transform="rotate(-90 504.5 206)" fill="#333">Snow thickness (m)</text><line x1="55.2" y1="259.8" x2="464.28" y2="259.8" stroke="#231f20" stroke-width="1.3"/><line x1="55.2" y1="257.0" x2="55.2" y2="262.1" stroke="#231f20" stroke-width="1.1"/><line x1="69.81" y1="259.8" x2="69.81" y2="262.3" stroke="#231f20" stroke-width="1.0"/><line x1="84.42" y1="259.8" x2="84.42" y2="262.3" stroke="#231f20" stroke-width="1.0"/><line x1="99.03" y1="259.8" x2="99.03" y2="262.3" stroke="#231f20" stroke-width="1.0"/><line x1="113.64" y1="259.8" x2="113.64" y2="262.3" stroke="#231f20" stroke-width="1.0"/><line x1="128.25" y1="257.0" x2="128.25" y2="262.1" stroke="#231f20" stroke-width="1.1"/><line x1="142.86" y1="259.8" x2="142.86" y2="262.3" stroke="#231f20" stroke-width="1.0"/><line x1="157.47" y1="259.8" x2="157.47" y2="262.3" stroke="#231f20" stroke-width="1.0"/><line x1="172.07999999999998" y1="259.8" x2="172.07999999999998" y2="262.3" stroke="#231f20" stroke-width="1.0"/><line x1="186.69" y1="259.8" x2="186.69" y2="262.3" stroke="#231f20" stroke-width="1.0"/><line x1="201.3" y1="257.0" x2="201.3" y2="262.1" stroke="#231f20" stroke-width="1.1"/><line x1="215.90999999999997" y1="259.8" x2="215.90999999999997" y2="262.3" stroke="#231f20" stroke-width="1.0"/><line x1="230.51999999999998" y1="259.8" x2="230.51999999999998" y2="262.3" stroke="#231f20" stroke-width="1.0"/><line x1="245.13" y1="259.8" x2="245.13" y2="262.3" stroke="#231f20" stroke-width="1.0"/><line x1="259.74" y1="259.8" x2="259.74" y2="262.3" stroke="#231f20" stroke-width="1.0"/><line x1="274.34999999999997" y1="257.0" x2="274.34999999999997" y2="262.1" stroke="#231f20" stroke-width="1.1"/><line x1="288.96" y1="259.8" x2="288.96" y2="262.3" stroke="#231f20" stroke-width="1.0"/><line x1="303.57" y1="259.8" x2="303.57" y2="262.3" stroke="#231f20" stroke-width="1.0"/><line x1="318.18" y1="259.8" x2="318.18" y2="262.3" stroke="#231f20" stroke-width="1.0"/><line x1="332.78999999999996" y1="259.8" x2="332.78999999999996" y2="262.3" stroke="#231f20" stroke-width="1.0"/><line x1="347.4" y1="257.0" x2="347.4" y2="262.1" stroke="#231f20" stroke-width="1.1"/><line x1="362.01" y1="259.8" x2="362.01" y2="262.3" stroke="#231f20" stroke-width="1.0"/><line x1="376.61999999999995" y1="259.8" x2="376.61999999999995" y2="262.3" stroke="#231f20" stroke-width="1.0"/><line x1="391.22999999999996" y1="259.8" x2="391.22999999999996" y2="262.3" stroke="#231f20" stroke-width="1.0"/><line x1="405.84" y1="259.8" x2="405.84" y2="262.3" stroke="#231f20" stroke-width="1.0"/><line x1="420.45" y1="257.0" x2="420.45" y2="262.1" stroke="#231f20" stroke-width="1.1"/><line x1="435.06" y1="259.8" x2="435.06" y2="262.3" stroke="#231f20" stroke-width="1.0"/><line x1="449.66999999999996" y1="259.8" x2="449.66999999999996" y2="262.3" stroke="#231f20" stroke-width="1.0"/><line x1="464.28" y1="259.8" x2="464.28" y2="262.3" stroke="#231f20" stroke-width="1.0"/><text x="55.2" y="275.5" font-size="12" text-anchor="middle" textLength="26.79" lengthAdjust="spacingAndGlyphs" fill="#333">31/05</text><text x="128.25" y="275.5" font-size="12" text-anchor="middle" textLength="26.79" lengthAdjust="spacingAndGlyphs" fill="#333">05/06</text><text x="201.3" y="275.5" font-size="12" text-anchor="middle" textLength="26.79" lengthAdjust="spacingAndGlyphs" fill="#333">10/06</text><text x="274.35" y="275.5" font-size="12" text-anchor="middle" textLength="26.79" lengthAdjust="spacingAndGlyphs" fill="#333">15/06</text><text x="347.4" y="275.5" font-size="12" text-anchor="middle" textLength="26.79" lengthAdjust="spacingAndGlyphs" fill="#333">20/06</text><text x="420.45" y="275.5" font-size="12" text-anchor="middle" textLength="26.79" lengthAdjust="spacingAndGlyphs" fill="#333">25/06</text><text x="261.3" y="292.5" font-size="12.6" text-anchor="middle" textLength="92.3" lengthAdjust="spacingAndGlyphs" fill="#333">Time (day/month)</text><text x="391.7" y="231.3" font-size="11.1" text-anchor="middle" textLength="46" lengthAdjust="spacingAndGlyphs" fill="#E2BC5C">Melt pond</text><text x="391.7" y="245" font-size="11.1" text-anchor="middle" textLength="44" lengthAdjust="spacingAndGlyphs" fill="#E2BC5C">formation</text><line x1="391.8" y1="245.5" x2="391.8" y2="253" stroke="#F6D9A6" stroke-width="1.0"/><polygon points="391.80,258.00 388.30,252.30 395.30,252.30" fill="#F4B419"/><polyline points="84.42,198.50 113.64,180.50 142.86,187.50 172.08,169.50 201.30,194.50 230.52,198.50 274.35,234.00 318.18,230.75 362.01,260.00 405.84,259.80" fill="none" stroke="#111" stroke-width="1.5" stroke-linejoin="round"/><polyline points="84.42,158.25 113.64,158.25 142.86,161.50 172.08,164.50 201.30,163.75 230.52,167.00 274.35,169.50 318.18,169.75 362.01,175.50 405.84,191.00" fill="none" stroke="#3A78BE" stroke-width="1.4" stroke-linejoin="round"/><circle cx="84.42" cy="198.50" r="3.5" fill="#000"/><circle cx="113.64" cy="180.50" r="3.5" fill="#000"/><circle cx="142.86" cy="187.50" r="3.5" fill="#000"/><circle cx="172.08" cy="169.50" r="3.5" fill="#000"/><circle cx="201.30" cy="194.50" r="3.5" fill="#000"/><circle cx="230.52" cy="198.50" r="3.5" fill="#000"/><circle cx="274.35" cy="234.00" r="3.5" fill="#000"/><circle cx="318.18" cy="230.75" r="3.5" fill="#000"/><circle cx="362.01" cy="260.00" r="3.5" fill="#000"/><circle cx="405.84" cy="259.80" r="3.5" fill="#000"/><circle cx="84.42" cy="158.25" r="3.1" fill="#36B3E6" stroke="#1b1b1b" stroke-width="1.2"/><circle cx="113.64" cy="158.25" r="3.1" fill="#36B3E6" stroke="#1b1b1b" stroke-width="1.2"/><circle cx="142.86" cy="161.50" r="3.1" fill="#36B3E6" stroke="#1b1b1b" stroke-width="1.2"/><circle cx="172.08" cy="164.50" r="3.1" fill="#36B3E6" stroke="#1b1b1b" stroke-width="1.2"/><circle cx="201.30" cy="163.75" r="3.1" fill="#36B3E6" stroke="#1b1b1b" stroke-width="1.2"/><circle cx="230.52" cy="167.00" r="3.1" fill="#36B3E6" stroke="#1b1b1b" stroke-width="1.2"/><circle cx="274.35" cy="169.50" r="3.1" fill="#36B3E6" stroke="#1b1b1b" stroke-width="1.2"/><circle cx="318.18" cy="169.75" r="3.1" fill="#36B3E6" stroke="#1b1b1b" stroke-width="1.2"/><circle cx="362.01" cy="175.50" r="3.1" fill="#36B3E6" stroke="#1b1b1b" stroke-width="1.2"/><circle cx="405.84" cy="191.00" r="3.1" fill="#36B3E6" stroke="#1b1b1b" stroke-width="1.2"/><line x1="131" y1="301.5" x2="155.2" y2="301.5" stroke="#3A78BE" stroke-width="1.4"/><circle cx="143.00" cy="301.50" r="3.1" fill="#36B3E6" stroke="#1b1b1b" stroke-width="1.2"/><text x="157.5" y="304.5" font-size="10.7" textLength="73.5" lengthAdjust="spacingAndGlyphs" fill="#333">Ice thickness (m)</text><line x1="288" y1="301.7" x2="311.8" y2="301.7" stroke="#111" stroke-width="1.5"/><circle cx="299.50" cy="301.70" r="3.5" fill="#000"/><text x="313.8" y="304.5" font-size="10.7" textLength="76" lengthAdjust="spacingAndGlyphs" fill="#333">Snow thickness (m)</text><text x="12.9" y="311.2" font-size="24" font-weight="bold" textLength="11.2" lengthAdjust="spacingAndGlyphs" fill="#111">c</text><line x1="60.4" y1="312.6" x2="60.4" y2="400.0" stroke="#231f20" stroke-width="1.3"/><line x1="57.6" y1="312.6" x2="60.4" y2="312.6" stroke="#231f20" stroke-width="1.1"/><text x="51.9" y="316.20000000000005" font-size="12" text-anchor="end" textLength="10.2" lengthAdjust="spacingAndGlyphs" fill="#333">10</text><line x1="57.6" y1="356.3" x2="60.4" y2="356.3" stroke="#231f20" stroke-width="1.1"/><text x="51.9" y="359.90000000000003" font-size="12" text-anchor="end" textLength="5.1" lengthAdjust="spacingAndGlyphs" fill="#333">5</text><line x1="57.6" y1="400.0" x2="60.4" y2="400.0" stroke="#231f20" stroke-width="1.1"/><text x="51.9" y="403.6" font-size="12" text-anchor="end" textLength="5.1" lengthAdjust="spacingAndGlyphs" fill="#333">0</text><text x="34.5" y="356.4" font-size="11.5" text-anchor="middle" transform="rotate(-90 34.5 356.4)" fill="#333">Snow salinity</text><line x1="60.4" y1="400.0" x2="463.59999999999997" y2="400.0" stroke="#231f20" stroke-width="1.3"/><line x1="60.4" y1="397.2" x2="60.4" y2="402.3" stroke="#231f20" stroke-width="1.1"/><line x1="74.8" y1="400.0" x2="74.8" y2="402.5" stroke="#231f20" stroke-width="1.0"/><line x1="89.2" y1="400.0" x2="89.2" y2="402.5" stroke="#231f20" stroke-width="1.0"/><line x1="103.6" y1="400.0" x2="103.6" y2="402.5" stroke="#231f20" stroke-width="1.0"/><line x1="118.0" y1="400.0" x2="118.0" y2="402.5" stroke="#231f20" stroke-width="1.0"/><line x1="132.4" y1="397.2" x2="132.4" y2="402.3" stroke="#231f20" stroke-width="1.1"/><line x1="146.8" y1="400.0" x2="146.8" y2="402.5" stroke="#231f20" stroke-width="1.0"/><line x1="161.2" y1="400.0" x2="161.2" y2="402.5" stroke="#231f20" stroke-width="1.0"/><line x1="175.6" y1="400.0" x2="175.6" y2="402.5" stroke="#231f20" stroke-width="1.0"/><line x1="190.0" y1="400.0" x2="190.0" y2="402.5" stroke="#231f20" stroke-width="1.0"/><line x1="204.4" y1="397.2" x2="204.4" y2="402.3" stroke="#231f20" stroke-width="1.1"/><line x1="218.8" y1="400.0" x2="218.8" y2="402.5" stroke="#231f20" stroke-width="1.0"/><line x1="233.20000000000002" y1="400.0" x2="233.20000000000002" y2="402.5" stroke="#231f20" stroke-width="1.0"/><line x1="247.60000000000002" y1="400.0" x2="247.60000000000002" y2="402.5" stroke="#231f20" stroke-width="1.0"/><line x1="262.0" y1="400.0" x2="262.0" y2="402.5" stroke="#231f20" stroke-width="1.0"/><line x1="276.4" y1="397.2" x2="276.4" y2="402.3" stroke="#231f20" stroke-width="1.1"/><line x1="290.8" y1="400.0" x2="290.8" y2="402.5" stroke="#231f20" stroke-width="1.0"/><line x1="305.2" y1="400.0" x2="305.2" y2="402.5" stroke="#231f20" stroke-width="1.0"/><line x1="319.59999999999997" y1="400.0" x2="319.59999999999997" y2="402.5" stroke="#231f20" stroke-width="1.0"/><line x1="334.0" y1="400.0" x2="334.0" y2="402.5" stroke="#231f20" stroke-width="1.0"/><line x1="348.4" y1="397.2" x2="348.4" y2="402.3" stroke="#231f20" stroke-width="1.1"/><line x1="362.8" y1="400.0" x2="362.8" y2="402.5" stroke="#231f20" stroke-width="1.0"/><line x1="377.2" y1="400.0" x2="377.2" y2="402.5" stroke="#231f20" stroke-width="1.0"/><line x1="391.59999999999997" y1="400.0" x2="391.59999999999997" y2="402.5" stroke="#231f20" stroke-width="1.0"/><line x1="406.0" y1="400.0" x2="406.0" y2="402.5" stroke="#231f20" stroke-width="1.0"/><line x1="420.4" y1="397.2" x2="420.4" y2="402.3" stroke="#231f20" stroke-width="1.1"/><line x1="434.8" y1="400.0" x2="434.8" y2="402.5" stroke="#231f20" stroke-width="1.0"/><line x1="449.2" y1="400.0" x2="449.2" y2="402.5" stroke="#231f20" stroke-width="1.0"/><line x1="463.59999999999997" y1="400.0" x2="463.59999999999997" y2="402.5" stroke="#231f20" stroke-width="1.0"/><text x="60.4" y="415.0" font-size="12" text-anchor="middle" textLength="26.79" lengthAdjust="spacingAndGlyphs" fill="#333">31/05</text><text x="132.4" y="415.0" font-size="12" text-anchor="middle" textLength="26.79" lengthAdjust="spacingAndGlyphs" fill="#333">05/06</text><text x="204.4" y="415.0" font-size="12" text-anchor="middle" textLength="26.79" lengthAdjust="spacingAndGlyphs" fill="#333">10/06</text><text x="276.4" y="415.0" font-size="12" text-anchor="middle" textLength="26.79" lengthAdjust="spacingAndGlyphs" fill="#333">15/06</text><text x="348.4" y="415.0" font-size="12" text-anchor="middle" textLength="26.79" lengthAdjust="spacingAndGlyphs" fill="#333">20/06</text><text x="420.4" y="415.0" font-size="12" text-anchor="middle" textLength="26.79" lengthAdjust="spacingAndGlyphs" fill="#333">25/06</text><text x="259.2" y="425.8" font-size="12.6" text-anchor="middle" textLength="93.1" lengthAdjust="spacingAndGlyphs" fill="#333">Time (day/month)</text><circle cx="118.00" cy="399.70" r="3.0" fill="none" stroke="#111" stroke-width="1.3"/><circle cx="146.80" cy="399.70" r="3.0" fill="none" stroke="#111" stroke-width="1.3"/><circle cx="175.60" cy="399.70" r="3.0" fill="none" stroke="#111" stroke-width="1.3"/><circle cx="233.20" cy="399.70" r="3.0" fill="none" stroke="#111" stroke-width="1.3"/><circle cx="276.40" cy="399.70" r="3.0" fill="none" stroke="#111" stroke-width="1.3"/><circle cx="118.00" cy="330.50" r="3.6" fill="#000"/><circle cx="146.80" cy="328.75" r="3.6" fill="#000"/><circle cx="175.60" cy="347.00" r="3.6" fill="#000"/><circle cx="233.20" cy="355.00" r="3.6" fill="#000"/><circle cx="276.40" cy="390.00" r="3.6" fill="#000"/><circle cx="319.60" cy="399.70" r="3.6" fill="#000"/><circle cx="362.80" cy="399.70" r="3.6" fill="#000"/><circle cx="406.00" cy="399.70" r="3.6" fill="#000"/><circle cx="169.20" cy="433.30" r="3.4" fill="#000"/><text x="173.8" y="436.6" font-size="10.8" textLength="60" lengthAdjust="spacingAndGlyphs" fill="#333">Bottom snow</text><circle cx="254.00" cy="433.30" r="2.9" fill="none" stroke="#111" stroke-width="1.3"/><text x="259.6" y="436.6" font-size="10.8" textLength="71.2" lengthAdjust="spacingAndGlyphs" fill="#333">Superficial snow</text><text x="13.0" y="460.8" font-size="24" font-weight="bold" fill="#111">d</text><g clip-path="url(#clipgd)" shape-rendering="crispEdges"><rect x="61" y="455" width="394" height="2" fill="url(#gd0)"/><rect x="61" y="457" width="394" height="2" fill="url(#gd1)"/><rect x="61" y="459" width="394" height="2" fill="url(#gd2)"/><rect x="61" y="461" width="394" height="2" fill="url(#gd3)"/><rect x="61" y="463" width="394" height="2" fill="url(#gd4)"/><rect x="61" y="465" width="394" height="2" fill="url(#gd5)"/><rect x="61" y="467" width="394" height="2" fill="url(#gd6)"/><rect x="61" y="469" width="394" height="2" fill="url(#gd7)"/><rect x="61" y="471" width="394" height="2" fill="url(#gd8)"/><rect x="61" y="473" width="394" height="2" fill="url(#gd9)"/><rect x="61" y="475" width="394" height="2" fill="url(#gd10)"/><rect x="61" y="477" width="394" height="2" fill="url(#gd11)"/><rect x="61" y="479" width="394" height="2" fill="url(#gd12)"/><rect x="61" y="481" width="394" height="2" fill="url(#gd13)"/><rect x="61" y="483" width="394" height="2" fill="url(#gd14)"/><rect x="61" y="485" width="394" height="2" fill="url(#gd15)"/><rect x="61" y="487" width="394" height="2" fill="url(#gd16)"/><rect x="61" y="489" width="394" height="2" fill="url(#gd17)"/><rect x="61" y="491" width="394" height="2" fill="url(#gd18)"/><rect x="61" y="493" width="394" height="2" fill="url(#gd19)"/><rect x="61" y="495" width="394" height="2" fill="url(#gd20)"/><rect x="61" y="497" width="394" height="2" fill="url(#gd21)"/><rect x="61" y="499" width="394" height="2" fill="url(#gd22)"/><rect x="61" y="501" width="394" height="2" fill="url(#gd23)"/><rect x="61" y="503" width="394" height="2" fill="url(#gd24)"/><rect x="61" y="505" width="394" height="2" fill="url(#gd25)"/><rect x="61" y="507" width="394" height="2" fill="url(#gd26)"/><rect x="61" y="509" width="394" height="2" fill="url(#gd27)"/><rect x="61" y="511" width="394" height="2" fill="url(#gd28)"/><rect x="61" y="513" width="394" height="2" fill="url(#gd29)"/><rect x="61" y="515" width="394" height="2" fill="url(#gd30)"/><rect x="61" y="517" width="394" height="2" fill="url(#gd31)"/><rect x="61" y="519" width="394" height="2" fill="url(#gd32)"/><rect x="61" y="521" width="394" height="2" fill="url(#gd33)"/><rect x="61" y="523" width="394" height="2" fill="url(#gd34)"/><rect x="61" y="525" width="394" height="2" fill="url(#gd35)"/><rect x="61" y="527" width="394" height="2" fill="url(#gd36)"/><rect x="61" y="529" width="394" height="2" fill="url(#gd37)"/><rect x="61" y="531" width="394" height="2" fill="url(#gd38)"/><rect x="61" y="533" width="394" height="2" fill="url(#gd39)"/><rect x="61" y="535" width="394" height="2" fill="url(#gd40)"/><rect x="61" y="537" width="394" height="2" fill="url(#gd41)"/><rect x="61" y="539" width="394" height="2" fill="url(#gd42)"/><rect x="61" y="541" width="394" height="2" fill="url(#gd43)"/><rect x="61" y="543" width="394" height="2" fill="url(#gd44)"/><rect x="61" y="545" width="394" height="2" fill="url(#gd45)"/><rect x="61" y="547" width="394" height="2" fill="url(#gd46)"/><rect x="61" y="549" width="394" height="2" fill="url(#gd47)"/><rect x="61" y="551" width="394" height="2" fill="url(#gd48)"/><rect x="61" y="553" width="394" height="2" fill="url(#gd49)"/><rect x="61" y="555" width="394" height="2" fill="url(#gd50)"/><rect x="61" y="557" width="394" height="2" fill="url(#gd51)"/><rect x="61" y="559" width="394" height="2" fill="url(#gd52)"/><rect x="61" y="561" width="394" height="2" fill="url(#gd53)"/><rect x="61" y="563" width="394" height="2" fill="url(#gd54)"/><rect x="61" y="565" width="394" height="2" fill="url(#gd55)"/><rect x="61" y="567" width="394" height="2" fill="url(#gd56)"/><rect x="61" y="569" width="394" height="2" fill="url(#gd57)"/><rect x="61" y="571" width="394" height="2" fill="url(#gd58)"/><rect x="61" y="573" width="394" height="2" fill="url(#gd59)"/><rect x="61" y="575" width="394" height="2" fill="url(#gd60)"/><rect x="61" y="577" width="394" height="2" fill="url(#gd61)"/><rect x="61" y="579" width="394" height="2" fill="url(#gd62)"/><rect x="61" y="581" width="394" height="2" fill="url(#gd63)"/><rect x="61" y="583" width="394" height="2" fill="url(#gd64)"/><rect x="61" y="585" width="394" height="2" fill="url(#gd65)"/><rect x="61" y="587" width="394" height="2" fill="url(#gd66)"/><rect x="61" y="589" width="394" height="2" fill="url(#gd67)"/><rect x="61" y="591" width="394" height="2" fill="url(#gd68)"/><rect x="61" y="593" width="394" height="2" fill="url(#gd69)"/><rect x="61" y="595" width="394" height="2" fill="url(#gd70)"/></g><polygon points="61.90,455.20 82.00,455.20 80.50,459.00 72.00,461.30 61.90,462.20" fill="#fff"/><polygon points="61.90,477.00 78.50,477.00 81.00,478.80 78.50,480.80 61.90,480.80" fill="#fff"/><polygon points="175.00,597.00 183.00,586.50 193.00,587.60 246.00,587.60 247.00,585.30 260.00,585.10 261.00,587.40 293.00,587.40 294.00,585.50 305.00,585.30 306.00,583.70 330.00,583.70 342.00,582.30 352.50,579.70 364.60,577.10 378.40,575.00 395.70,571.50 406.90,569.60 412.70,565.00 411.50,559.20 413.80,554.00 410.40,550.00 415.00,544.80 428.80,543.60 443.80,541.90 450.70,540.20 454.50,538.50 454.50,597.00" fill="#fff"/><line x1="61.9" y1="502.4" x2="454.5" y2="502.4" stroke="#3a3a3a" stroke-width="0.8" stroke-opacity="0.75"/><line x1="61.9" y1="549.6" x2="454.5" y2="549.6" stroke="#3a3a3a" stroke-width="0.8" stroke-opacity="0.75"/><line x1="90.56" y1="455.2" x2="90.56" y2="596.6" stroke="#2a2a4a" stroke-width="0.8" stroke-opacity="0.5"/><circle cx="90.56" cy="469.50" r="1.5" fill="#2a2632"/><circle cx="90.56" cy="488.60" r="1.5" fill="#2a2632"/><circle cx="90.56" cy="497.80" r="1.5" fill="#2a2632"/><circle cx="90.56" cy="502.50" r="1.5" fill="#2a2632"/><circle cx="90.56" cy="507.90" r="1.5" fill="#2a2632"/><circle cx="90.56" cy="516.90" r="1.5" fill="#2a2632"/><circle cx="90.56" cy="526.30" r="1.5" fill="#2a2632"/><circle cx="90.56" cy="535.50" r="1.5" fill="#2a2632"/><circle cx="90.56" cy="545.20" r="1.5" fill="#2a2632"/><circle cx="90.56" cy="554.70" r="1.5" fill="#2a2632"/><circle cx="90.56" cy="563.70" r="1.5" fill="#2a2632"/><circle cx="90.56" cy="573.40" r="1.5" fill="#2a2632"/><circle cx="90.56" cy="581.90" r="1.5" fill="#2a2632"/><circle cx="119.12" cy="460.00" r="1.5" fill="#2a2632"/><circle cx="119.12" cy="469.50" r="1.5" fill="#2a2632"/><circle cx="119.12" cy="478.75" r="1.5" fill="#2a2632"/><circle cx="119.12" cy="488.75" r="1.5" fill="#2a2632"/><circle cx="119.12" cy="495.00" r="1.5" fill="#2a2632"/><circle cx="119.12" cy="507.50" r="1.5" fill="#2a2632"/><circle cx="119.12" cy="517.00" r="1.5" fill="#2a2632"/><circle cx="119.12" cy="526.25" r="1.5" fill="#2a2632"/><circle cx="119.12" cy="535.50" r="1.5" fill="#2a2632"/><circle cx="119.12" cy="545.00" r="1.5" fill="#2a2632"/><circle cx="119.12" cy="554.50" r="1.5" fill="#2a2632"/><circle cx="119.12" cy="563.75" r="1.5" fill="#2a2632"/><circle cx="119.12" cy="573.00" r="1.5" fill="#2a2632"/><circle cx="119.12" cy="580.00" r="1.5" fill="#2a2632"/><circle cx="147.68" cy="460.00" r="1.5" fill="#2a2632"/><circle cx="147.68" cy="469.50" r="1.5" fill="#2a2632"/><circle cx="147.68" cy="478.75" r="1.5" fill="#2a2632"/><circle cx="147.68" cy="488.75" r="1.5" fill="#2a2632"/><circle cx="147.68" cy="497.50" r="1.5" fill="#2a2632"/><circle cx="147.68" cy="506.25" r="1.5" fill="#2a2632"/><circle cx="147.68" cy="517.00" r="1.5" fill="#2a2632"/><circle cx="147.68" cy="526.25" r="1.5" fill="#2a2632"/><circle cx="147.68" cy="535.50" r="1.5" fill="#2a2632"/><circle cx="147.68" cy="545.00" r="1.5" fill="#2a2632"/><circle cx="147.68" cy="554.50" r="1.5" fill="#2a2632"/><circle cx="147.68" cy="563.75" r="1.5" fill="#2a2632"/><circle cx="147.68" cy="573.00" r="1.5" fill="#2a2632"/><circle cx="147.68" cy="582.75" r="1.5" fill="#2a2632"/><circle cx="204.80" cy="460.00" r="1.5" fill="#2a2632"/><circle cx="204.80" cy="469.40" r="1.5" fill="#2a2632"/><circle cx="204.80" cy="478.90" r="1.5" fill="#2a2632"/><circle cx="204.80" cy="488.40" r="1.5" fill="#2a2632"/><circle cx="204.80" cy="497.90" r="1.5" fill="#2a2632"/><circle cx="204.80" cy="506.20" r="1.5" fill="#2a2632"/><circle cx="204.80" cy="516.60" r="1.5" fill="#2a2632"/><circle cx="204.80" cy="526.10" r="1.5" fill="#2a2632"/><circle cx="204.80" cy="535.60" r="1.5" fill="#2a2632"/><circle cx="204.80" cy="545.10" r="1.5" fill="#2a2632"/><circle cx="204.80" cy="554.60" r="1.5" fill="#2a2632"/><circle cx="204.80" cy="563.60" r="1.5" fill="#2a2632"/><circle cx="204.80" cy="573.30" r="1.5" fill="#2a2632"/><circle cx="233.36" cy="469.40" r="1.5" fill="#2a2632"/><circle cx="233.36" cy="478.90" r="1.5" fill="#2a2632"/><circle cx="233.36" cy="488.40" r="1.5" fill="#2a2632"/><circle cx="233.36" cy="497.90" r="1.5" fill="#2a2632"/><circle cx="233.36" cy="507.30" r="1.5" fill="#2a2632"/><circle cx="233.36" cy="516.90" r="1.5" fill="#2a2632"/><circle cx="233.36" cy="526.10" r="1.5" fill="#2a2632"/><circle cx="233.36" cy="535.60" r="1.5" fill="#2a2632"/><circle cx="233.36" cy="545.10" r="1.5" fill="#2a2632"/><circle cx="233.36" cy="554.60" r="1.5" fill="#2a2632"/><circle cx="233.36" cy="563.60" r="1.5" fill="#2a2632"/><circle cx="233.36" cy="573.30" r="1.5" fill="#2a2632"/><circle cx="276.20" cy="460.00" r="1.5" fill="#2a2632"/><circle cx="276.20" cy="469.40" r="1.5" fill="#2a2632"/><circle cx="276.20" cy="479.00" r="1.5" fill="#2a2632"/><circle cx="276.20" cy="488.40" r="1.5" fill="#2a2632"/><circle cx="276.20" cy="497.90" r="1.5" fill="#2a2632"/><circle cx="276.20" cy="507.10" r="1.5" fill="#2a2632"/><circle cx="276.20" cy="516.60" r="1.5" fill="#2a2632"/><circle cx="276.20" cy="526.10" r="1.5" fill="#2a2632"/><circle cx="276.20" cy="535.60" r="1.5" fill="#2a2632"/><circle cx="276.20" cy="545.10" r="1.5" fill="#2a2632"/><circle cx="276.20" cy="554.60" r="1.5" fill="#2a2632"/><circle cx="276.20" cy="563.60" r="1.5" fill="#2a2632"/><circle cx="276.20" cy="573.30" r="1.5" fill="#2a2632"/><circle cx="319.04" cy="460.00" r="1.5" fill="#2a2632"/><circle cx="319.04" cy="469.40" r="1.5" fill="#2a2632"/><circle cx="319.04" cy="479.00" r="1.5" fill="#2a2632"/><circle cx="319.04" cy="488.40" r="1.5" fill="#2a2632"/><circle cx="319.04" cy="497.90" r="1.5" fill="#2a2632"/><circle cx="319.04" cy="507.10" r="1.5" fill="#2a2632"/><circle cx="319.04" cy="516.60" r="1.5" fill="#2a2632"/><circle cx="319.04" cy="526.10" r="1.5" fill="#2a2632"/><circle cx="319.04" cy="535.60" r="1.5" fill="#2a2632"/><circle cx="319.04" cy="545.10" r="1.5" fill="#2a2632"/><circle cx="319.04" cy="554.60" r="1.5" fill="#2a2632"/><circle cx="319.04" cy="563.60" r="1.5" fill="#2a2632"/><circle cx="319.04" cy="570.70" r="1.5" fill="#2a2632"/><circle cx="361.88" cy="469.40" r="1.5" fill="#2a2632"/><circle cx="361.88" cy="479.00" r="1.5" fill="#2a2632"/><circle cx="361.88" cy="488.40" r="1.5" fill="#2a2632"/><circle cx="361.88" cy="497.90" r="1.5" fill="#2a2632"/><circle cx="361.88" cy="507.10" r="1.5" fill="#2a2632"/><circle cx="361.88" cy="516.60" r="1.5" fill="#2a2632"/><circle cx="361.88" cy="526.10" r="1.5" fill="#2a2632"/><circle cx="361.88" cy="535.60" r="1.5" fill="#2a2632"/><circle cx="361.88" cy="545.10" r="1.5" fill="#2a2632"/><circle cx="361.88" cy="554.60" r="1.5" fill="#2a2632"/><circle cx="361.88" cy="563.60" r="1.5" fill="#2a2632"/><circle cx="419.00" cy="460.10" r="1.5" fill="#2a2632"/><circle cx="419.00" cy="469.60" r="1.5" fill="#2a2632"/><circle cx="419.00" cy="479.10" r="1.5" fill="#2a2632"/><circle cx="419.00" cy="488.60" r="1.5" fill="#2a2632"/><circle cx="419.00" cy="497.90" r="1.5" fill="#2a2632"/><circle cx="419.00" cy="507.30" r="1.5" fill="#2a2632"/><circle cx="419.00" cy="516.90" r="1.5" fill="#2a2632"/><circle cx="419.00" cy="526.10" r="1.5" fill="#2a2632"/><circle cx="419.00" cy="535.30" r="1.5" fill="#2a2632"/><rect x="61.9" y="455.2" width="392.6" height="141.40000000000003" fill="none" stroke="#333" stroke-width="0.8"/><line x1="61.9" y1="455.2" x2="61.9" y2="596.6" stroke="#3a3a4a" stroke-width="1.0"/><line x1="61.9" y1="596.6" x2="454.5" y2="596.6" stroke="#444" stroke-width="1.1"/><line x1="59.5" y1="455.2" x2="61.9" y2="455.2" stroke="#444" stroke-width="0.9"/><text x="50.2" y="460.09999999999997" font-size="13" text-anchor="end" textLength="5.92" lengthAdjust="spacingAndGlyphs" fill="#333">0</text><line x1="59.5" y1="502.3333333333333" x2="61.9" y2="502.3333333333333" stroke="#444" stroke-width="0.9"/><text x="50.2" y="507.2333333333333" font-size="13" text-anchor="end" textLength="14.79" lengthAdjust="spacingAndGlyphs" fill="#333">0.5</text><line x1="59.5" y1="549.4666666666667" x2="61.9" y2="549.4666666666667" stroke="#444" stroke-width="0.9"/><text x="50.2" y="554.3666666666667" font-size="13" text-anchor="end" textLength="5.92" lengthAdjust="spacingAndGlyphs" fill="#333">1</text><line x1="59.5" y1="596.6" x2="61.9" y2="596.6" stroke="#444" stroke-width="0.9"/><text x="50.2" y="601.5" font-size="13" text-anchor="end" textLength="14.79" lengthAdjust="spacingAndGlyphs" fill="#333">1.5</text><line x1="59.5" y1="478.76666666666665" x2="61.9" y2="478.76666666666665" stroke="#666" stroke-width="0.8"/><line x1="59.5" y1="525.9" x2="61.9" y2="525.9" stroke="#666" stroke-width="0.8"/><line x1="59.5" y1="573.0333333333333" x2="61.9" y2="573.0333333333333" stroke="#666" stroke-width="0.8"/><line x1="62.0" y1="596.6" x2="62.0" y2="598.8000000000001" stroke="#777" stroke-width="0.8"/><line x1="76.28" y1="596.6" x2="76.28" y2="598.8000000000001" stroke="#777" stroke-width="0.8"/><line x1="90.56" y1="596.6" x2="90.56" y2="598.8000000000001" stroke="#777" stroke-width="0.8"/><line x1="104.84" y1="596.6" x2="104.84" y2="598.8000000000001" stroke="#777" stroke-width="0.8"/><line x1="119.12" y1="596.6" x2="119.12" y2="598.8000000000001" stroke="#777" stroke-width="0.8"/><line x1="133.39999999999998" y1="596.6" x2="133.39999999999998" y2="598.8000000000001" stroke="#777" stroke-width="0.8"/><line x1="147.68" y1="596.6" x2="147.68" y2="598.8000000000001" stroke="#777" stroke-width="0.8"/><line x1="161.95999999999998" y1="596.6" x2="161.95999999999998" y2="598.8000000000001" stroke="#777" stroke-width="0.8"/><line x1="176.24" y1="596.6" x2="176.24" y2="598.8000000000001" stroke="#777" stroke-width="0.8"/><line x1="190.51999999999998" y1="596.6" x2="190.51999999999998" y2="598.8000000000001" stroke="#777" stroke-width="0.8"/><line x1="204.79999999999998" y1="596.6" x2="204.79999999999998" y2="598.8000000000001" stroke="#777" stroke-width="0.8"/><line x1="219.07999999999998" y1="596.6" x2="219.07999999999998" y2="598.8000000000001" stroke="#777" stroke-width="0.8"/><line x1="233.35999999999999" y1="596.6" x2="233.35999999999999" y2="598.8000000000001" stroke="#777" stroke-width="0.8"/><line x1="247.64" y1="596.6" x2="247.64" y2="598.8000000000001" stroke="#777" stroke-width="0.8"/><line x1="261.91999999999996" y1="596.6" x2="261.91999999999996" y2="598.8000000000001" stroke="#777" stroke-width="0.8"/><line x1="276.2" y1="596.6" x2="276.2" y2="598.8000000000001" stroke="#777" stroke-width="0.8"/><line x1="290.48" y1="596.6" x2="290.48" y2="598.8000000000001" stroke="#777" stroke-width="0.8"/><line x1="304.76" y1="596.6" x2="304.76" y2="598.8000000000001" stroke="#777" stroke-width="0.8"/><line x1="319.03999999999996" y1="596.6" x2="319.03999999999996" y2="598.8000000000001" stroke="#777" stroke-width="0.8"/><line x1="333.32" y1="596.6" x2="333.32" y2="598.8000000000001" stroke="#777" stroke-width="0.8"/><line x1="347.59999999999997" y1="596.6" x2="347.59999999999997" y2="598.8000000000001" stroke="#777" stroke-width="0.8"/><line x1="361.88" y1="596.6" x2="361.88" y2="598.8000000000001" stroke="#777" stroke-width="0.8"/><line x1="376.15999999999997" y1="596.6" x2="376.15999999999997" y2="598.8000000000001" stroke="#777" stroke-width="0.8"/><line x1="390.44" y1="596.6" x2="390.44" y2="598.8000000000001" stroke="#777" stroke-width="0.8"/><line x1="404.71999999999997" y1="596.6" x2="404.71999999999997" y2="598.8000000000001" stroke="#777" stroke-width="0.8"/><line x1="419.0" y1="596.6" x2="419.0" y2="598.8000000000001" stroke="#777" stroke-width="0.8"/><line x1="433.28" y1="596.6" x2="433.28" y2="598.8000000000001" stroke="#777" stroke-width="0.8"/><line x1="447.56" y1="596.6" x2="447.56" y2="598.8000000000001" stroke="#777" stroke-width="0.8"/><text x="131.9" y="612.5" font-size="11.2" text-anchor="middle" textLength="26.5" lengthAdjust="spacingAndGlyphs" fill="#333">05/06</text><text x="204" y="612.5" font-size="11.2" text-anchor="middle" textLength="26.5" lengthAdjust="spacingAndGlyphs" fill="#333">10/06</text><text x="277" y="612.5" font-size="11.2" text-anchor="middle" textLength="26.5" lengthAdjust="spacingAndGlyphs" fill="#333">15/06</text><text x="347.9" y="612.5" font-size="11.2" text-anchor="middle" textLength="26.5" lengthAdjust="spacingAndGlyphs" fill="#333">20/06</text><text x="418.8" y="612.5" font-size="11.2" text-anchor="middle" textLength="26.5" lengthAdjust="spacingAndGlyphs" fill="#333">25/06</text><text x="20.5" y="525.9" font-size="11.5" text-anchor="middle" transform="rotate(-90 20.5 525.9)" fill="#333">Ice thickness (m)</text><text x="260.1" y="628" font-size="11.8" text-anchor="middle" textLength="82.8" lengthAdjust="spacingAndGlyphs" fill="#333">Time (day/month)</text><text x="403" y="439.5" font-size="12.4" textLength="102.5" lengthAdjust="spacingAndGlyphs" fill="#333">Ice temperature (°C)</text><path d="M465.3,455.2 L472.2,453.0 L479.1,455.2 L479.1,597.0 L472.2,599.2 L465.3,597.0 Z" fill="url(#gdcb)" stroke="#8a7a70" stroke-width="0.5"/><line x1="465.3" y1="455.2" x2="467.3" y2="455.2" stroke="#444" stroke-width="0.8" stroke-opacity="0.6"/><line x1="477.1" y1="455.2" x2="479.1" y2="455.2" stroke="#444" stroke-width="0.8" stroke-opacity="0.6"/><text x="492.5" y="459.9" font-size="11.5" fill="#333">0</text><line x1="465.3" y1="475.4" x2="467.3" y2="475.4" stroke="#444" stroke-width="0.8" stroke-opacity="0.6"/><line x1="477.1" y1="475.4" x2="479.1" y2="475.4" stroke="#444" stroke-width="0.8" stroke-opacity="0.6"/><text x="489.3" y="478.7" font-size="11.5" fill="#333">-0.5</text><line x1="465.3" y1="495.59999999999997" x2="467.3" y2="495.59999999999997" stroke="#444" stroke-width="0.8" stroke-opacity="0.6"/><line x1="477.1" y1="495.59999999999997" x2="479.1" y2="495.59999999999997" stroke="#444" stroke-width="0.8" stroke-opacity="0.6"/><text x="489.3" y="498.2" font-size="11.5" fill="#333">-1</text><line x1="465.3" y1="515.8" x2="467.3" y2="515.8" stroke="#444" stroke-width="0.8" stroke-opacity="0.6"/><line x1="477.1" y1="515.8" x2="479.1" y2="515.8" stroke="#444" stroke-width="0.8" stroke-opacity="0.6"/><text x="489.3" y="518.4" font-size="11.5" fill="#333">-1.5</text><line x1="465.3" y1="536.0" x2="467.3" y2="536.0" stroke="#444" stroke-width="0.8" stroke-opacity="0.6"/><line x1="477.1" y1="536.0" x2="479.1" y2="536.0" stroke="#444" stroke-width="0.8" stroke-opacity="0.6"/><text x="489.3" y="537.9" font-size="11.5" fill="#333">-2</text><line x1="465.3" y1="556.2" x2="467.3" y2="556.2" stroke="#444" stroke-width="0.8" stroke-opacity="0.6"/><line x1="477.1" y1="556.2" x2="479.1" y2="556.2" stroke="#444" stroke-width="0.8" stroke-opacity="0.6"/><text x="489.3" y="558.9" font-size="11.5" fill="#333">-2.5</text><line x1="465.3" y1="576.4" x2="467.3" y2="576.4" stroke="#444" stroke-width="0.8" stroke-opacity="0.6"/><line x1="477.1" y1="576.4" x2="479.1" y2="576.4" stroke="#444" stroke-width="0.8" stroke-opacity="0.6"/><text x="489.3" y="579.5" font-size="11.5" fill="#333">-3</text><line x1="465.3" y1="596.6" x2="467.3" y2="596.6" stroke="#444" stroke-width="0.8" stroke-opacity="0.6"/><line x1="477.1" y1="596.6" x2="479.1" y2="596.6" stroke="#444" stroke-width="0.8" stroke-opacity="0.6"/><text x="489.3" y="597.2" font-size="11.5" fill="#333">-3.5</text><text x="0" y="0" font-size="6.3" font-style="italic" font-weight="bold" fill="#111" font-family="Liberation Sans, sans-serif" transform="translate(464.1,595.5) rotate(-90)" textLength="52" lengthAdjust="spacingAndGlyphs">Ocean Data View</text><text x="12.6" y="653.0" font-size="24" font-weight="bold" textLength="11.5" lengthAdjust="spacingAndGlyphs" fill="#111">e</text><g clip-path="url(#clipge)" shape-rendering="crispEdges"><rect x="63" y="650" width="392" height="2" fill="url(#ge0)"/><rect x="63" y="652" width="392" height="2" fill="url(#ge1)"/><rect x="63" y="654" width="392" height="2" fill="url(#ge2)"/><rect x="63" y="656" width="392" height="2" fill="url(#ge3)"/><rect x="63" y="658" width="392" height="2" fill="url(#ge4)"/><rect x="63" y="660" width="392" height="2" fill="url(#ge5)"/><rect x="63" y="662" width="392" height="2" fill="url(#ge6)"/><rect x="63" y="664" width="392" height="2" fill="url(#ge7)"/><rect x="63" y="666" width="392" height="2" fill="url(#ge8)"/><rect x="63" y="668" width="392" height="2" fill="url(#ge9)"/><rect x="63" y="670" width="392" height="2" fill="url(#ge10)"/><rect x="63" y="672" width="392" height="2" fill="url(#ge11)"/><rect x="63" y="674" width="392" height="2" fill="url(#ge12)"/><rect x="63" y="676" width="392" height="2" fill="url(#ge13)"/><rect x="63" y="678" width="392" height="2" fill="url(#ge14)"/><rect x="63" y="680" width="392" height="2" fill="url(#ge15)"/><rect x="63" y="682" width="392" height="2" fill="url(#ge16)"/><rect x="63" y="684" width="392" height="2" fill="url(#ge17)"/><rect x="63" y="686" width="392" height="2" fill="url(#ge18)"/><rect x="63" y="688" width="392" height="2" fill="url(#ge19)"/><rect x="63" y="690" width="392" height="2" fill="url(#ge20)"/><rect x="63" y="692" width="392" height="2" fill="url(#ge21)"/><rect x="63" y="694" width="392" height="2" fill="url(#ge22)"/><rect x="63" y="696" width="392" height="2" fill="url(#ge23)"/><rect x="63" y="698" width="392" height="2" fill="url(#ge24)"/><rect x="63" y="700" width="392" height="2" fill="url(#ge25)"/><rect x="63" y="702" width="392" height="2" fill="url(#ge26)"/><rect x="63" y="704" width="392" height="2" fill="url(#ge27)"/><rect x="63" y="706" width="392" height="2" fill="url(#ge28)"/><rect x="63" y="708" width="392" height="2" fill="url(#ge29)"/><rect x="63" y="710" width="392" height="2" fill="url(#ge30)"/><rect x="63" y="712" width="392" height="2" fill="url(#ge31)"/><rect x="63" y="714" width="392" height="2" fill="url(#ge32)"/><rect x="63" y="716" width="392" height="2" fill="url(#ge33)"/><rect x="63" y="718" width="392" height="2" fill="url(#ge34)"/><rect x="63" y="720" width="392" height="2" fill="url(#ge35)"/><rect x="63" y="722" width="392" height="2" fill="url(#ge36)"/><rect x="63" y="724" width="392" height="2" fill="url(#ge37)"/><rect x="63" y="726" width="392" height="2" fill="url(#ge38)"/><rect x="63" y="728" width="392" height="2" fill="url(#ge39)"/><rect x="63" y="730" width="392" height="2" fill="url(#ge40)"/><rect x="63" y="732" width="392" height="2" fill="url(#ge41)"/><rect x="63" y="734" width="392" height="2" fill="url(#ge42)"/><rect x="63" y="736" width="392" height="2" fill="url(#ge43)"/><rect x="63" y="738" width="392" height="2" fill="url(#ge44)"/><rect x="63" y="740" width="392" height="2" fill="url(#ge45)"/><rect x="63" y="742" width="392" height="2" fill="url(#ge46)"/><rect x="63" y="744" width="392" height="2" fill="url(#ge47)"/><rect x="63" y="746" width="392" height="2" fill="url(#ge48)"/><rect x="63" y="748" width="392" height="2" fill="url(#ge49)"/><rect x="63" y="750" width="392" height="2" fill="url(#ge50)"/><rect x="63" y="752" width="392" height="2" fill="url(#ge51)"/><rect x="63" y="754" width="392" height="2" fill="url(#ge52)"/><rect x="63" y="756" width="392" height="2" fill="url(#ge53)"/><rect x="63" y="758" width="392" height="2" fill="url(#ge54)"/><rect x="63" y="760" width="392" height="2" fill="url(#ge55)"/><rect x="63" y="762" width="392" height="2" fill="url(#ge56)"/><rect x="63" y="764" width="392" height="2" fill="url(#ge57)"/><rect x="63" y="766" width="392" height="2" fill="url(#ge58)"/><rect x="63" y="768" width="392" height="2" fill="url(#ge59)"/><rect x="63" y="770" width="392" height="2" fill="url(#ge60)"/><rect x="63" y="772" width="392" height="2" fill="url(#ge61)"/><rect x="63" y="774" width="392" height="2" fill="url(#ge62)"/><rect x="63" y="776" width="392" height="2" fill="url(#ge63)"/><rect x="63" y="778" width="392" height="2" fill="url(#ge64)"/><rect x="63" y="780" width="392" height="2" fill="url(#ge65)"/><rect x="63" y="782" width="392" height="2" fill="url(#ge66)"/><rect x="63" y="784" width="392" height="2" fill="url(#ge67)"/><rect x="63" y="786" width="392" height="2" fill="url(#ge68)"/><rect x="63" y="788" width="392" height="2" fill="url(#ge69)"/><rect x="63" y="790" width="392" height="2" fill="url(#ge70)"/><rect x="63" y="792" width="392" height="1" fill="url(#ge71)"/></g><polygon points="63.80,650.80 83.00,650.80 81.00,655.00 70.00,657.00 63.80,657.20" fill="#fff"/><polygon points="63.80,672.00 81.00,672.00 83.00,674.00 81.00,676.00 63.80,676.00" fill="#fff"/><polygon points="63.80,719.70 80.00,719.70 82.00,721.30 80.00,723.00 63.80,723.00" fill="#fff"/><polygon points="133.00,793.00 142.00,790.40 150.00,785.00 159.40,783.60 166.00,781.60 173.00,779.60 182.00,779.30 184.00,780.70 189.00,782.50 255.00,782.50 256.00,783.30 298.00,783.30 298.50,781.60 326.00,781.60 326.50,779.40 335.00,779.40 348.80,777.30 357.50,774.70 369.60,771.20 386.90,769.00 400.70,766.00 409.40,762.60 414.40,758.80 412.00,754.20 412.70,751.30 414.60,749.60 424.00,749.60 440.40,749.00 448.40,747.30 454.80,745.90 454.80,793.00" fill="#fff"/><line x1="63.8" y1="698.0" x2="454.8" y2="698.0" stroke="#3a3a3a" stroke-width="0.8" stroke-opacity="0.75"/><line x1="63.8" y1="745.0" x2="454.8" y2="745.0" stroke="#3a3a3a" stroke-width="0.8" stroke-opacity="0.75"/><line x1="92.2" y1="650.8" x2="92.2" y2="792.5" stroke="#2a2a4a" stroke-width="0.8" stroke-opacity="0.5"/><circle cx="92.20" cy="665.20" r="1.5" fill="#2a2632"/><circle cx="92.20" cy="684.00" r="1.5" fill="#2a2632"/><circle cx="92.20" cy="693.00" r="1.5" fill="#2a2632"/><circle cx="92.20" cy="697.80" r="1.5" fill="#2a2632"/><circle cx="92.20" cy="702.90" r="1.5" fill="#2a2632"/><circle cx="92.20" cy="711.90" r="1.5" fill="#2a2632"/><circle cx="92.20" cy="731.20" r="1.5" fill="#2a2632"/><circle cx="92.20" cy="740.60" r="1.5" fill="#2a2632"/><circle cx="92.20" cy="750.30" r="1.5" fill="#2a2632"/><circle cx="92.20" cy="759.40" r="1.5" fill="#2a2632"/><circle cx="92.20" cy="769.10" r="1.5" fill="#2a2632"/><circle cx="92.20" cy="777.60" r="1.5" fill="#2a2632"/><circle cx="120.70" cy="655.10" r="1.5" fill="#2a2632"/><circle cx="120.70" cy="665.20" r="1.5" fill="#2a2632"/><circle cx="120.70" cy="674.30" r="1.5" fill="#2a2632"/><circle cx="120.70" cy="684.00" r="1.5" fill="#2a2632"/><circle cx="120.70" cy="690.50" r="1.5" fill="#2a2632"/><circle cx="120.70" cy="702.90" r="1.5" fill="#2a2632"/><circle cx="120.70" cy="711.90" r="1.5" fill="#2a2632"/><circle cx="120.70" cy="722.00" r="1.5" fill="#2a2632"/><circle cx="120.70" cy="731.20" r="1.5" fill="#2a2632"/><circle cx="120.70" cy="750.30" r="1.5" fill="#2a2632"/><circle cx="120.70" cy="759.40" r="1.5" fill="#2a2632"/><circle cx="120.70" cy="769.10" r="1.5" fill="#2a2632"/><circle cx="120.70" cy="775.60" r="1.5" fill="#2a2632"/><circle cx="149.20" cy="655.10" r="1.5" fill="#2a2632"/><circle cx="149.20" cy="665.20" r="1.5" fill="#2a2632"/><circle cx="149.20" cy="674.30" r="1.5" fill="#2a2632"/><circle cx="149.20" cy="684.00" r="1.5" fill="#2a2632"/><circle cx="149.20" cy="693.00" r="1.5" fill="#2a2632"/><circle cx="149.20" cy="702.20" r="1.5" fill="#2a2632"/><circle cx="149.20" cy="711.90" r="1.5" fill="#2a2632"/><circle cx="149.20" cy="722.00" r="1.5" fill="#2a2632"/><circle cx="149.20" cy="731.20" r="1.5" fill="#2a2632"/><circle cx="149.20" cy="740.60" r="1.5" fill="#2a2632"/><circle cx="149.20" cy="750.30" r="1.5" fill="#2a2632"/><circle cx="149.20" cy="759.40" r="1.5" fill="#2a2632"/><circle cx="149.20" cy="769.10" r="1.5" fill="#2a2632"/><circle cx="206.20" cy="655.70" r="1.5" fill="#2a2632"/><circle cx="206.20" cy="665.20" r="1.5" fill="#2a2632"/><circle cx="206.20" cy="674.80" r="1.5" fill="#2a2632"/><circle cx="206.20" cy="683.90" r="1.5" fill="#2a2632"/><circle cx="206.20" cy="693.40" r="1.5" fill="#2a2632"/><circle cx="206.20" cy="702.60" r="1.5" fill="#2a2632"/><circle cx="206.20" cy="712.10" r="1.5" fill="#2a2632"/><circle cx="206.20" cy="721.60" r="1.5" fill="#2a2632"/><circle cx="206.20" cy="731.40" r="1.5" fill="#2a2632"/><circle cx="206.20" cy="741.00" r="1.5" fill="#2a2632"/><circle cx="206.20" cy="750.10" r="1.5" fill="#2a2632"/><circle cx="206.20" cy="759.60" r="1.5" fill="#2a2632"/><circle cx="206.20" cy="769.20" r="1.5" fill="#2a2632"/><circle cx="234.70" cy="665.20" r="1.5" fill="#2a2632"/><circle cx="234.70" cy="674.80" r="1.5" fill="#2a2632"/><circle cx="234.70" cy="683.90" r="1.5" fill="#2a2632"/><circle cx="234.70" cy="693.40" r="1.5" fill="#2a2632"/><circle cx="234.70" cy="702.60" r="1.5" fill="#2a2632"/><circle cx="234.70" cy="712.10" r="1.5" fill="#2a2632"/><circle cx="234.70" cy="721.60" r="1.5" fill="#2a2632"/><circle cx="234.70" cy="731.40" r="1.5" fill="#2a2632"/><circle cx="234.70" cy="741.00" r="1.5" fill="#2a2632"/><circle cx="234.70" cy="750.10" r="1.5" fill="#2a2632"/><circle cx="234.70" cy="759.60" r="1.5" fill="#2a2632"/><circle cx="234.70" cy="769.20" r="1.5" fill="#2a2632"/><circle cx="277.45" cy="655.70" r="1.5" fill="#2a2632"/><circle cx="277.45" cy="665.20" r="1.5" fill="#2a2632"/><circle cx="277.45" cy="674.80" r="1.5" fill="#2a2632"/><circle cx="277.45" cy="683.90" r="1.5" fill="#2a2632"/><circle cx="277.45" cy="693.40" r="1.5" fill="#2a2632"/><circle cx="277.45" cy="702.60" r="1.5" fill="#2a2632"/><circle cx="277.45" cy="712.10" r="1.5" fill="#2a2632"/><circle cx="277.45" cy="721.60" r="1.5" fill="#2a2632"/><circle cx="277.45" cy="731.40" r="1.5" fill="#2a2632"/><circle cx="277.45" cy="741.00" r="1.5" fill="#2a2632"/><circle cx="277.45" cy="750.10" r="1.5" fill="#2a2632"/><circle cx="277.45" cy="759.60" r="1.5" fill="#2a2632"/><circle cx="277.45" cy="769.20" r="1.5" fill="#2a2632"/><circle cx="320.20" cy="655.70" r="1.5" fill="#2a2632"/><circle cx="320.20" cy="665.20" r="1.5" fill="#2a2632"/><circle cx="320.20" cy="674.80" r="1.5" fill="#2a2632"/><circle cx="320.20" cy="683.90" r="1.5" fill="#2a2632"/><circle cx="320.20" cy="693.40" r="1.5" fill="#2a2632"/><circle cx="320.20" cy="702.60" r="1.5" fill="#2a2632"/><circle cx="320.20" cy="712.10" r="1.5" fill="#2a2632"/><circle cx="320.20" cy="721.60" r="1.5" fill="#2a2632"/><circle cx="320.20" cy="731.40" r="1.5" fill="#2a2632"/><circle cx="320.20" cy="741.00" r="1.5" fill="#2a2632"/><circle cx="320.20" cy="750.10" r="1.5" fill="#2a2632"/><circle cx="320.20" cy="759.60" r="1.5" fill="#2a2632"/><circle cx="320.20" cy="766.40" r="1.5" fill="#2a2632"/><circle cx="362.95" cy="665.20" r="1.5" fill="#2a2632"/><circle cx="362.95" cy="674.80" r="1.5" fill="#2a2632"/><circle cx="362.95" cy="683.90" r="1.5" fill="#2a2632"/><circle cx="362.95" cy="693.40" r="1.5" fill="#2a2632"/><circle cx="362.95" cy="702.60" r="1.5" fill="#2a2632"/><circle cx="362.95" cy="712.10" r="1.5" fill="#2a2632"/><circle cx="362.95" cy="721.60" r="1.5" fill="#2a2632"/><circle cx="362.95" cy="731.40" r="1.5" fill="#2a2632"/><circle cx="362.95" cy="741.00" r="1.5" fill="#2a2632"/><circle cx="362.95" cy="750.10" r="1.5" fill="#2a2632"/><circle cx="362.95" cy="759.60" r="1.5" fill="#2a2632"/><circle cx="419.95" cy="655.70" r="1.5" fill="#2a2632"/><circle cx="419.95" cy="665.20" r="1.5" fill="#2a2632"/><circle cx="419.95" cy="674.80" r="1.5" fill="#2a2632"/><circle cx="419.95" cy="683.90" r="1.5" fill="#2a2632"/><circle cx="419.95" cy="693.40" r="1.5" fill="#2a2632"/><circle cx="419.95" cy="702.60" r="1.5" fill="#2a2632"/><circle cx="419.95" cy="712.10" r="1.5" fill="#2a2632"/><circle cx="419.95" cy="721.60" r="1.5" fill="#2a2632"/><circle cx="419.95" cy="731.40" r="1.5" fill="#2a2632"/><circle cx="419.95" cy="741.00" r="1.5" fill="#2a2632"/><rect x="63.8" y="650.8" width="391.0" height="141.70000000000005" fill="none" stroke="#333" stroke-width="0.8"/><line x1="63.8" y1="650.8" x2="63.8" y2="792.5" stroke="#3a3a4a" stroke-width="1.0"/><line x1="63.8" y1="792.5" x2="454.8" y2="792.5" stroke="#444" stroke-width="1.1"/><line x1="61.4" y1="650.8" x2="63.8" y2="650.8" stroke="#444" stroke-width="0.9"/><text x="50.2" y="655.6999999999999" font-size="13" text-anchor="end" textLength="5.92" lengthAdjust="spacingAndGlyphs" fill="#333">0</text><line x1="61.4" y1="698.0333333333333" x2="63.8" y2="698.0333333333333" stroke="#444" stroke-width="0.9"/><text x="50.2" y="702.9333333333333" font-size="13" text-anchor="end" textLength="14.79" lengthAdjust="spacingAndGlyphs" fill="#333">0.5</text><line x1="61.4" y1="745.2666666666667" x2="63.8" y2="745.2666666666667" stroke="#444" stroke-width="0.9"/><text x="50.2" y="750.1666666666666" font-size="13" text-anchor="end" textLength="5.92" lengthAdjust="spacingAndGlyphs" fill="#333">1</text><line x1="61.4" y1="792.5" x2="63.8" y2="792.5" stroke="#444" stroke-width="0.9"/><text x="50.2" y="797.4" font-size="13" text-anchor="end" textLength="14.79" lengthAdjust="spacingAndGlyphs" fill="#333">1.5</text><line x1="61.4" y1="674.4166666666666" x2="63.8" y2="674.4166666666666" stroke="#666" stroke-width="0.8"/><line x1="61.4" y1="721.65" x2="63.8" y2="721.65" stroke="#666" stroke-width="0.8"/><line x1="61.4" y1="768.8833333333333" x2="63.8" y2="768.8833333333333" stroke="#666" stroke-width="0.8"/><line x1="63.7" y1="792.5" x2="63.7" y2="794.7" stroke="#777" stroke-width="0.8"/><line x1="77.95" y1="792.5" x2="77.95" y2="794.7" stroke="#777" stroke-width="0.8"/><line x1="92.2" y1="792.5" x2="92.2" y2="794.7" stroke="#777" stroke-width="0.8"/><line x1="106.45" y1="792.5" x2="106.45" y2="794.7" stroke="#777" stroke-width="0.8"/><line x1="120.7" y1="792.5" x2="120.7" y2="794.7" stroke="#777" stroke-width="0.8"/><line x1="134.95" y1="792.5" x2="134.95" y2="794.7" stroke="#777" stroke-width="0.8"/><line x1="149.2" y1="792.5" x2="149.2" y2="794.7" stroke="#777" stroke-width="0.8"/><line x1="163.45" y1="792.5" x2="163.45" y2="794.7" stroke="#777" stroke-width="0.8"/><line x1="177.7" y1="792.5" x2="177.7" y2="794.7" stroke="#777" stroke-width="0.8"/><line x1="191.95" y1="792.5" x2="191.95" y2="794.7" stroke="#777" stroke-width="0.8"/><line x1="206.2" y1="792.5" x2="206.2" y2="794.7" stroke="#777" stroke-width="0.8"/><line x1="220.45" y1="792.5" x2="220.45" y2="794.7" stroke="#777" stroke-width="0.8"/><line x1="234.7" y1="792.5" x2="234.7" y2="794.7" stroke="#777" stroke-width="0.8"/><line x1="248.95" y1="792.5" x2="248.95" y2="794.7" stroke="#777" stroke-width="0.8"/><line x1="263.2" y1="792.5" x2="263.2" y2="794.7" stroke="#777" stroke-width="0.8"/><line x1="277.45" y1="792.5" x2="277.45" y2="794.7" stroke="#777" stroke-width="0.8"/><line x1="291.7" y1="792.5" x2="291.7" y2="794.7" stroke="#777" stroke-width="0.8"/><line x1="305.95" y1="792.5" x2="305.95" y2="794.7" stroke="#777" stroke-width="0.8"/><line x1="320.2" y1="792.5" x2="320.2" y2="794.7" stroke="#777" stroke-width="0.8"/><line x1="334.45" y1="792.5" x2="334.45" y2="794.7" stroke="#777" stroke-width="0.8"/><line x1="348.7" y1="792.5" x2="348.7" y2="794.7" stroke="#777" stroke-width="0.8"/><line x1="362.95" y1="792.5" x2="362.95" y2="794.7" stroke="#777" stroke-width="0.8"/><line x1="377.2" y1="792.5" x2="377.2" y2="794.7" stroke="#777" stroke-width="0.8"/><line x1="391.45" y1="792.5" x2="391.45" y2="794.7" stroke="#777" stroke-width="0.8"/><line x1="405.7" y1="792.5" x2="405.7" y2="794.7" stroke="#777" stroke-width="0.8"/><line x1="419.95" y1="792.5" x2="419.95" y2="794.7" stroke="#777" stroke-width="0.8"/><line x1="434.2" y1="792.5" x2="434.2" y2="794.7" stroke="#777" stroke-width="0.8"/><line x1="448.45" y1="792.5" x2="448.45" y2="794.7" stroke="#777" stroke-width="0.8"/><text x="131.9" y="808.7" font-size="11.2" text-anchor="middle" textLength="26.5" lengthAdjust="spacingAndGlyphs" fill="#333">05/06</text><text x="206.4" y="808.7" font-size="11.2" text-anchor="middle" textLength="26.5" lengthAdjust="spacingAndGlyphs" fill="#333">10/06</text><text x="276.2" y="808.7" font-size="11.2" text-anchor="middle" textLength="26.5" lengthAdjust="spacingAndGlyphs" fill="#333">15/06</text><text x="347.6" y="808.7" font-size="11.2" text-anchor="middle" textLength="26.5" lengthAdjust="spacingAndGlyphs" fill="#333">20/06</text><text x="419.2" y="808.7" font-size="11.2" text-anchor="middle" textLength="26.5" lengthAdjust="spacingAndGlyphs" fill="#333">25/06</text><text x="20.5" y="721.65" font-size="11.5" text-anchor="middle" transform="rotate(-90 20.5 721.65)" fill="#333">Ice thickness (m)</text><text x="260.1" y="828" font-size="11.8" text-anchor="middle" textLength="82.8" lengthAdjust="spacingAndGlyphs" fill="#333">Time (day/month)</text><text x="440.5" y="632.5" font-size="12.4" textLength="60" lengthAdjust="spacingAndGlyphs" fill="#333">Bulk salinity</text><path d="M465.8,650.5 L472.55,648.3 L479.3,650.5 L479.3,792.5 L472.55,794.7 L465.8,792.5 Z" fill="url(#gecb)" stroke="#8a7a70" stroke-width="0.5"/><line x1="465.8" y1="668.6" x2="467.8" y2="668.6" stroke="#444" stroke-width="0.8" stroke-opacity="0.6"/><line x1="477.3" y1="668.6" x2="479.3" y2="668.6" stroke="#444" stroke-width="0.8" stroke-opacity="0.6"/><text x="490" y="673.9" font-size="11.5" fill="#333">8</text><line x1="465.8" y1="703.8000000000001" x2="467.8" y2="703.8000000000001" stroke="#444" stroke-width="0.8" stroke-opacity="0.6"/><line x1="477.3" y1="703.8000000000001" x2="479.3" y2="703.8000000000001" stroke="#444" stroke-width="0.8" stroke-opacity="0.6"/><text x="490" y="706.9" font-size="11.5" fill="#333">6</text><line x1="465.8" y1="739.0" x2="467.8" y2="739.0" stroke="#444" stroke-width="0.8" stroke-opacity="0.6"/><line x1="477.3" y1="739.0" x2="479.3" y2="739.0" stroke="#444" stroke-width="0.8" stroke-opacity="0.6"/><text x="490" y="742.5" font-size="11.5" fill="#333">4</text><line x1="465.8" y1="774.2" x2="467.8" y2="774.2" stroke="#444" stroke-width="0.8" stroke-opacity="0.6"/><line x1="477.3" y1="774.2" x2="479.3" y2="774.2" stroke="#444" stroke-width="0.8" stroke-opacity="0.6"/><text x="490" y="776.6" font-size="11.5" fill="#333">2</text><text x="0" y="0" font-size="6.3" font-style="italic" font-weight="bold" fill="#111" font-family="Liberation Sans, sans-serif" transform="translate(464.6,791.0) rotate(-90)" textLength="52" lengthAdjust="spacingAndGlyphs">Ocean Data View</text>
</svg></body></html>
